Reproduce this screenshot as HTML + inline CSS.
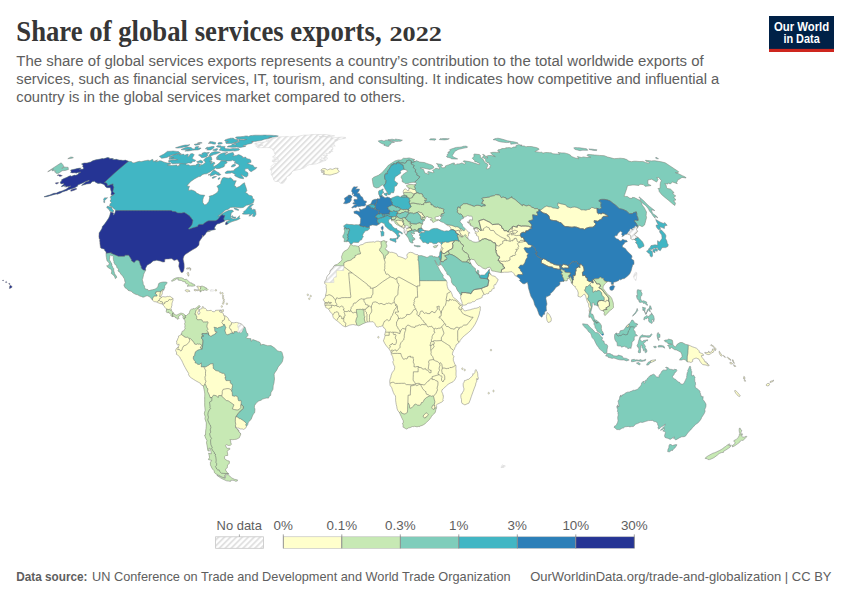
<!DOCTYPE html>
<html><head><meta charset="utf-8"><title>Share of global services exports, 2022</title>
<style>
html,body{margin:0;padding:0;background:#fff;}
body{width:850px;height:600px;position:relative;overflow:hidden;}
svg{display:block}
text{font-family:"Liberation Sans",sans-serif;}
.ser{font-family:"Liberation Serif",serif;font-weight:bold;fill:#363636;}
.sub{font-size:15.1px;fill:#5e5e5e;}
.ft{font-size:13px;fill:#5e5e5e;}
.lg{font-size:13.4px;fill:#5e5e5e;}
</style></head><body>
<svg width="850" height="600" viewBox="0 0 850 600"><defs><pattern id="hatch" width="4.2" height="4.2" patternUnits="userSpaceOnUse" patternTransform="rotate(45)"><rect width="4.2" height="4.2" fill="#fff"/><rect x="0" y="0" width="1.9" height="4.2" fill="#e1e1e1"/></pattern></defs><clipPath id="k1"><path d="M113.4,194.8 110.9,195.1 111.5,192.1 110.8,190.2 110.6,189 110.3,187.7 108.8,187.7 107.3,187.7 105.7,187 105,185.8 104.2,184.6 102.5,183.9 100.7,183.2 98.1,183.4 96.8,182.9 95.6,182.3 94.5,181.3 92,181.7 90.5,183.5 88.6,183.8 86.6,184.1 84.1,184.8 81.5,185.4 83.8,183.6 86.1,181.7 89,181 89.2,180.3 85.2,181.7 82.2,183.3 77.7,185 77.7,186.1 74.2,187.9 70.9,189 68.3,189.7 66.6,190.7 64.5,191.3 62.4,192 60.6,193.1 57.2,194.2 56.1,194 53.6,194.7 50.8,195.5 48.3,196.3 46.2,196.7 44.2,197 44.4,196.6 47.8,195.5 50.4,194.7 53.9,193.3 56.5,193.1 58.5,192.1 62.7,190.7 63.7,190.2 66.1,189.3 68.3,187.5 70.9,186 67.9,186.8 67.9,186.3 65.8,187.2 66,186 64.5,186.8 65.2,185.6 62.2,186.6 61.1,186.6 62.6,185.2 63.9,184.3 63.8,183.4 60.9,183.9 60.6,182.8 60,182.2 61.7,180.9 61.6,179.8 64,178.5 67,177.3 69.2,176 70.8,175.8 71.6,176.2 74.5,175.1 75.6,175.3 77.8,174.5 78.8,173.5 78.4,173.1 80.8,172.2 79.7,172.2 77.2,172.7 76,173.2 75.2,172.7 72.4,172.9 70.6,172.4 71.1,171.5 70.7,170.1 74.4,169.2 77.1,168.6 79.8,168.1 81.2,168.1 79.4,169.2 81.3,169.2 83.2,169.1 83.7,167.7 82.7,166.9 83,165.8 82.8,164.8 81.5,164.1 84.1,162.9 85.6,162.9 87.1,162.9 90.7,161.9 92.7,160.8 95.9,159.8 97.9,159.5 100.2,159 102.4,158.5 103.7,158.7 105.8,158.1 107.9,157.5 108.8,157.8 109.7,158 109.5,159 110.8,158.5 112.1,158.6 113.4,158.7 112.6,159.2 113.6,159.4 114.6,159.5 116.6,159.3 117.8,159.7 119.1,160 120.6,160.1 122,160.2 122.9,160.5 125.6,160.1 126.4,160.5 127.3,160.8 128.5,161.2 129.9,161.4 131.3,161.6 131.9,162.1 132.6,162.7 134,162.9 136.6,162 139.4,161.3 140.5,161.5 141.6,161.6 143.4,161.1 145.1,160.7 146.8,160.4 148.5,160 148.7,160.9 150.3,160.5 152.1,159.4 153,159.6 153.2,160.6 153.4,161.6 157.5,160 155.7,161.8 158.2,161.3 159.6,160.7 161.3,160.9 162.2,161.3 163,161.8 164.5,162.2 166,162.7 167.9,163.1 169.8,162.9 170.9,164 167.4,165.1 168.7,165.3 170,165.6 172.4,165.4 174.8,165.3 176.8,164.9 177.2,166.2 180.1,165.1 179.3,164.2 181,163.4 183.2,163.3 184.8,163.1 185.8,163.6 186.3,164.9 188.3,164.7 189.3,165.2 190.3,165.7 191.8,165.5 193.4,165.3 194.6,165.3 195.9,165.3 196.7,164 198.6,163.6 199.6,164 200.5,164.4 198.9,166.5 201.4,164.7 202.7,164.7 205.4,162.4 204.7,161.1 203.4,160.3 205.7,157.9 209,156.4 211,156.6 211.6,157.7 211.9,160 209.5,161.1 210.9,161.3 212.3,161.6 210.5,163.8 214.1,162 214.9,163.6 213.2,165.1 213.7,166.7 216.6,165.1 219.3,163.1 221.3,160.7 223.4,160.9 224.6,161 225.8,161.1 227.2,162.2 226.5,163.3 224.2,164.7 224.7,165.8 223.7,166.9 221.5,167.7 219.4,168.5 216.8,168.7 215.4,168 214.1,169.2 211,171.2 209.9,172.1 206.6,173.8 204,174 201.9,174.9 200.7,176.3 198.4,176.8 194.8,178.7 191.1,181.3 189.1,183.2 186.9,186 188.2,186.2 189.5,186.3 188.7,188.7 188.6,190.4 191.5,189.9 193,190.5 194.4,191 195.8,191.9 196.4,193.1 198.3,193.8 199.9,194.8 201.3,194.9 202.8,195.1 204.8,195.3 203.5,197.3 202.8,199.8 202.8,202.5 203.7,203.8 204.6,205 206.5,204.3 208.8,201.5 209.2,199.6 209.7,197.8 209.1,196.3 210.9,195.8 212.7,195.3 215.7,193.6 217.7,191.9 218.4,190.2 218.2,188.1 216.9,186.3 220.6,183.8 220.9,181.5 221.7,179.7 222.5,178 224.1,177.4 225.4,177.7 226.8,178 228.5,178.2 230.4,177.7 231.6,178.4 233,179.8 233,180.8 234.7,180.8 236.3,180.8 235.2,182.9 234.3,185.9 235.7,186.3 236.4,187.7 239.8,186.3 243,183.6 244.5,182.7 245,184.8 246.1,187.7 246.9,190.7 245.4,192.4 247.4,193.6 248.6,195.1 250,195.4 251.4,195.7 252.4,196.5 252.5,198.5 253.7,198.9 254.2,199.8 253.4,202.6 251.7,203.5 250,204.5 248.2,204.9 246.4,205.3 243.2,207.5 241.5,207.7 239.7,207.8 237.6,207.5 235.5,207.3 234,207.3 232.5,207.3 230.4,207.5 228.2,209.3 225.2,210.3 221,213.9 217.8,216.2 219.6,215.7 221.9,214 224.2,212.4 226.6,211.3 229.1,210.3 232.2,210.1 233.6,211.3 231.2,212.9 230.9,215.7 230.8,217.7 233.1,219 234.9,218.7 236.7,218.5 239.6,215.7 239.2,217.5 240.2,218.5 237.3,220 234.7,220.8 232.2,221.6 229.8,222.6 226.8,224.6 225.4,224.4 226,222.1 228.1,221 230.3,220 228.6,220 227,220 224.5,220.5 224.5,221.3 222.1,222.3 219.4,223.4 217.1,224.1 215.6,225.7 214.5,227.7 214.7,229 215.8,229 214.3,229.8 211.4,230.3 209.2,230.6 207.2,231.4 208.9,231.2 210.5,231.1 208.5,231.6 206.6,232.1 205.2,234.5 203.1,236.6 202.3,235 202.6,236.8 201.1,238.9 199.7,241 199.2,241.8 199,245.1 196.9,247.2 195,248.4 193,249.6 189.9,251.4 187.6,253 185.2,254.5 184,256.1 183.1,259 183.6,261.3 184.1,263.7 184.2,265.8 184.2,267.9 183.7,270.7 182.8,272.3 181.2,272.6 180.2,270.5 179.4,268.4 178.7,266.3 179.2,262.6 177.8,260 177,259.5 174.1,260.5 171.9,258.7 170.2,258.8 168.5,259 166.7,259.1 164.9,259.2 164.7,261.9 162.9,262.1 160.2,261.1 158.5,260.7 156.7,260.3 154.9,260.7 153.1,261.1 150.7,263.2 147.1,265.2 145.5,268.4 145.7,270.3 144.3,272.8 143.6,274.6 142.8,278.3 142.3,279.6 142.6,280.9 143.1,282.2 143.2,284.3 144.5,286.1 144.7,287.7 145.4,289 147.9,289.5 148.6,290.8 150.7,290.1 152.4,289.8 154.3,289.3 155.7,288.7 157.2,287.7 158.1,286.1 158.5,284 158.9,283.3 160.6,282.5 163.2,282 165,282 166.5,282 167,282.5 166.7,283.7 165.2,285.2 164.6,286.8 165,287.2 164.4,288.5 163.6,290.4 163,289.8 162.6,289.8 162.9,290.8 162.3,292.1 162.3,293.7 161.7,295 160.4,296.6 161,297.1 162,297.1 162.7,296.6 163.8,296.7 164.9,296.9 166.1,296.9 167.1,296.3 168.4,296.6 169.4,296.3 170.7,296.7 172,297.8 172.8,298.2 173.3,298.9 172.9,299.7 173,300.8 172.5,301.6 172.2,302.7 171.9,303.8 171.9,305.7 171.3,307 171.4,307.8 170.9,308.4 171,309.1 171.3,309.5 171.7,310.9 172.6,312 173.6,313.1 174.3,314.1 174.3,314.6 175.2,314.7 176.1,315.1 177.1,315 178.2,314.3 179.6,313.8 180.4,313 181.7,313.2 182.8,313.5 183.8,313.9 184.6,314.7 185.4,315.5 186.6,315.5 188.4,313.7 189.4,313.4 189.4,312.6 190,310.4 191.4,309.2 192.8,309.1 193,308.6 194.8,308.8 196.7,307.5 197.6,306.9 198.8,305.6 199.6,305.8 200.2,306.5 199.7,307.3 198.2,308.3 198.9,309.5 198.8,310.8 197.7,312.3 198.4,314.4 199.4,314.2 200,312.4 199.4,311.4 199.4,309.5 202.3,308.4 202.1,307.2 202.9,306.3 203.6,308.2 205.2,308.2 206.6,309.7 206.7,310.6 208.7,310.6 211.2,310.3 212.4,311.5 214.2,311.8 215.5,311 215.6,310.3 218.4,310.2 221.2,310.1 219.2,310.9 219.9,312.1 221.7,312.3 223.4,313.6 223.7,315.7 224.9,315.6 225.8,316.2 227.3,317.2 228.6,318.9 228.7,320.3 229.5,320.3 230.7,321.6 231.6,322.5 234.3,323 234.6,322.6 236.5,322.4 238.9,323.1 239.7,323.3 241.4,324 243.8,326.2 244.1,327.2 244.9,327.1 245.5,328.6 246.1,330.9 246.7,333.1 247.9,333.6 248,335.4 246.2,337.5 246.9,338.3 249,338.5 251,338.7 251.1,341.3 252.9,339.6 255.8,340.6 257.7,341.4 259.6,342.1 260.7,343.7 260.4,345.1 263,344.3 265.3,345 267.6,345.7 271,345.6 274.4,347.8 277.4,350.7 279.2,351.4 281.2,351.5 282,352.4 282.9,355.7 283.3,357.3 282.9,359.4 282.4,361.6 281.3,363.3 278.2,366.9 276.8,369.9 275.2,372.2 274.1,374.1 274.3,376.6 274.5,379 274.2,381 274,383 273.2,385.8 273,389.3 270.9,392.7 270.7,395.4 269,396.5 268.6,398.1 266.1,398.1 264.4,398.6 262.6,399.1 261.1,400.2 258.7,401 256.2,403.1 254.5,405.7 254.4,407.6 255,409.1 254.8,411.7 254.5,413 253.1,414.4 252.2,416.7 251.3,419 249.6,421.1 248.3,422.3 247.7,424.8 246.5,426.3 245.9,427.9 243.7,429.4 242,428.8 240.9,429.1 238.6,428 237.2,428.1 235.6,426.6 235.7,428 238.9,430.3 239,432 240.5,433.2 240.7,434.4 239.3,437.8 236.5,439.2 234.4,439.5 232.3,439.7 229.9,439.5 230.7,441 230.8,442.9 231.5,444.3 230.5,445.2 228.4,445.5 226.1,444.6 225.5,445.3 226.5,447.8 228.2,448.6 229.1,447.8 230.1,449.1 228.4,449.9 227.2,451.6 227.7,454.1 227.7,455.5 225.7,455.5 224.5,456.8 224.6,458.7 227.2,460.6 229.3,461.1 229.4,463.4 227.5,464.9 227.3,467.8 225.8,468.8 225.5,470 227.2,472.6 229.1,474.1 228.2,473.9 226.4,473.9 225.8,474.5 224.4,475.4 225.1,477.7 224.3,477.8 221.7,477 218.7,475.3 215.6,473.8 214.3,472.3 214.2,470.8 212.5,469.1 211.4,467 210.4,464.8 210.4,462.3 211.7,460.4 210.1,460 208.4,459.6 209.5,457.4 209.1,455.2 208.6,453.1 211.3,454 210.9,451.3 210.5,448.7 208.9,448 209.3,451.2 207.9,450.8 207.3,447.1 206.9,444.7 206.5,442.4 207,440.6 205.6,438 204.6,435.1 205.5,435 205.6,432.9 205.7,430.8 206,428.7 206.2,426.6 206.3,422.8 205.6,420.8 204.9,418.8 205.2,416.7 204.3,413.5 205.1,410.3 204.9,407.7 204.7,405.2 204.7,402.5 204.7,399.8 204.7,396.9 204.8,394 204.5,391.8 204.1,389.7 203.3,386 200.9,384.5 200.5,383.4 198.2,382.1 195.8,380.8 193.6,379.4 191.4,378 189.5,376.4 188.4,374.2 188.7,373.5 186.5,370 185.2,367.6 183.9,365.2 182.7,362.6 181.5,360 180.5,358.8 179.7,356.9 177.8,355.2 176.1,354.1 176.8,353 175.6,350.5 176.3,348.6 178.1,347 179.2,345 178.7,343.9 177.9,345.1 176.5,344 176.9,343.2 176.5,340.9 177.3,340.5 177.7,338.8 178.6,337.2 178.4,336.1 179.7,335.5 181.3,334.5 181,333.7 181.9,333.5 181.8,332.2 182.3,331.2 183.5,331 184.5,329.4 185.4,328 184.6,327.4 185.1,325.9 184.6,323.5 185.1,322.8 184.9,320.6 184,319.2 183.3,318.5 182.8,317.1 183.4,316.4 182.8,316.2 182.5,315.3 181.4,314.6 180.3,314.8 179.8,315.7 178.9,316.3 178.4,316.4 178.1,317 179.2,318.4 178.5,318.7 178.2,319.1 177.1,319.2 176.8,317.7 176.4,318.1 175.7,318 175.3,316.9 174.3,316.7 173.8,316.5 172.8,316.5 172.7,317 172.4,316.6 171.2,316 170.8,315.5 171,315 171,314.5 170.4,313.8 169.5,313.3 168.8,313 168.7,312.2 168.1,311.8 168.2,312.5 167.7,313.1 167.2,312.4 166.5,312.2 166.2,311.6 166.3,310.8 166.6,310 166,309.6 166.6,309.1 165.8,308.3 164.8,307.3 164.4,306.4 163.5,305.6 162.5,304.4 162.7,304 163.1,304.4 163.3,304.2 163,303.4 162.3,303.2 162,303.8 160.7,303.7 159.9,303.5 158.9,303 157.7,302.8 157.1,302.2 156,301.8 154.6,301.7 153.6,301.2 152.4,300.1 150.2,297.3 149.1,296.5 147.3,295.8 146,296 144.1,297 142.9,297.2 141.4,296.5 139.7,296 137.7,294.8 136.1,294.5 133.6,293.3 131.9,292 131.4,291.3 130.2,291.1 128,290.3 127.2,289.1 125,287.7 124.2,286 123.8,284.8 124.6,284.5 124.5,283.8 125.1,283.1 125.3,282.2 124.7,281 124.7,279.9 124.2,278.6 122.6,276 120.7,274 120,272.4 118.3,271.3 118,270.7 118.7,269.1 117.7,268.4 116.7,267.2 116.6,265.4 115.5,265.1 114.6,263.8 113.9,262.5 114,261.7 113.4,259.7 113.2,257.7 113.6,256.7 112.3,255.7 111.5,255.8 110.5,255.1 109.8,256.1 109.8,257.4 109.4,259.3 109.8,260.4 110.9,262.2 111.1,262.8 111.4,263 111.5,263.9 111.9,263.9 111.9,265.6 112.4,266.2 112.6,267.2 113.7,268.5 113.8,270.9 114.2,272.1 114.6,273.3 114.5,274.6 115.5,274.7 116.2,275.9 116.8,277.1 116.7,277.5 115.6,278.5 115.2,278.5 114.8,276.9 113.7,275.4 112.3,274.2 111.3,273.5 111.7,271.6 111.7,270.2 110.8,269.4 109.6,268.2 109.2,268.5 108.8,267.9 107.6,267.2 106.7,265.7 106.9,265.5 107.8,265.7 108.9,264.7 109.3,263.5 108.1,261.6 107,260.9 106.7,259.3 106.4,257.6 106.1,255.5 106,253.1 106.1,251.9 104.4,250.1 104.5,249.3 102.6,248.7 100.8,248.1 100.5,247.8 100.2,245.7 99.9,243.6 99.9,242.5 99.6,240.2 100,239.4 99.2,238.9 98.9,236.4 99.1,232.9 100.6,230.8 101.9,228.5 102.4,226.4 104.6,224.1 106.2,221.8 108.6,218.2 109.6,215.9 110.5,212.6 110.8,212.1 112.2,212.5 113.6,212.9 113.3,214.9 114.1,214.6 115,212.6 115.6,210.6 115.4,209.8 114.2,208.9 113.1,208 112.4,207 111,206.5 109.6,206 110.1,203.8 111.5,202.3 110,201.1 111.2,199.1 110.3,197.3 111.3,196Z"/></clipPath><path d="M113.4,194.8 110.9,195.1 111.5,192.1 110.8,190.2 110.6,189 110.3,187.7 108.8,187.7 107.3,187.7 105.7,187 105,185.8 104.2,184.6 102.5,183.9 100.7,183.2 98.1,183.4 96.8,182.9 95.6,182.3 94.5,181.3 92,181.7 90.5,183.5 88.6,183.8 86.6,184.1 84.1,184.8 81.5,185.4 83.8,183.6 86.1,181.7 89,181 89.2,180.3 85.2,181.7 82.2,183.3 77.7,185 77.7,186.1 74.2,187.9 70.9,189 68.3,189.7 66.6,190.7 64.5,191.3 62.4,192 60.6,193.1 57.2,194.2 56.1,194 53.6,194.7 50.8,195.5 48.3,196.3 46.2,196.7 44.2,197 44.4,196.6 47.8,195.5 50.4,194.7 53.9,193.3 56.5,193.1 58.5,192.1 62.7,190.7 63.7,190.2 66.1,189.3 68.3,187.5 70.9,186 67.9,186.8 67.9,186.3 65.8,187.2 66,186 64.5,186.8 65.2,185.6 62.2,186.6 61.1,186.6 62.6,185.2 63.9,184.3 63.8,183.4 60.9,183.9 60.6,182.8 60,182.2 61.7,180.9 61.6,179.8 64,178.5 67,177.3 69.2,176 70.8,175.8 71.6,176.2 74.5,175.1 75.6,175.3 77.8,174.5 78.8,173.5 78.4,173.1 80.8,172.2 79.7,172.2 77.2,172.7 76,173.2 75.2,172.7 72.4,172.9 70.6,172.4 71.1,171.5 70.7,170.1 74.4,169.2 77.1,168.6 79.8,168.1 81.2,168.1 79.4,169.2 81.3,169.2 83.2,169.1 83.7,167.7 82.7,166.9 83,165.8 82.8,164.8 81.5,164.1 84.1,162.9 85.6,162.9 87.1,162.9 90.7,161.9 92.7,160.8 95.9,159.8 97.9,159.5 100.2,159 102.4,158.5 103.7,158.7 105.8,158.1 107.9,157.5 108.8,157.8 109.7,158 109.5,159 110.8,158.5 112.1,158.6 113.4,158.7 112.6,159.2 113.6,159.4 114.6,159.5 116.6,159.3 117.8,159.7 119.1,160 120.6,160.1 122,160.2 122.9,160.5 125.6,160.1 126.4,160.5 127.3,160.8 128.5,161.2 129.9,161.4 131.3,161.6 131.9,162.1 132.6,162.7 134,162.9 136.6,162 139.4,161.3 140.5,161.5 141.6,161.6 143.4,161.1 145.1,160.7 146.8,160.4 148.5,160 148.7,160.9 150.3,160.5 152.1,159.4 153,159.6 153.2,160.6 153.4,161.6 157.5,160 155.7,161.8 158.2,161.3 159.6,160.7 161.3,160.9 162.2,161.3 163,161.8 164.5,162.2 166,162.7 167.9,163.1 169.8,162.9 170.9,164 167.4,165.1 168.7,165.3 170,165.6 172.4,165.4 174.8,165.3 176.8,164.9 177.2,166.2 180.1,165.1 179.3,164.2 181,163.4 183.2,163.3 184.8,163.1 185.8,163.6 186.3,164.9 188.3,164.7 189.3,165.2 190.3,165.7 191.8,165.5 193.4,165.3 194.6,165.3 195.9,165.3 196.7,164 198.6,163.6 199.6,164 200.5,164.4 198.9,166.5 201.4,164.7 202.7,164.7 205.4,162.4 204.7,161.1 203.4,160.3 205.7,157.9 209,156.4 211,156.6 211.6,157.7 211.9,160 209.5,161.1 210.9,161.3 212.3,161.6 210.5,163.8 214.1,162 214.9,163.6 213.2,165.1 213.7,166.7 216.6,165.1 219.3,163.1 221.3,160.7 223.4,160.9 224.6,161 225.8,161.1 227.2,162.2 226.5,163.3 224.2,164.7 224.7,165.8 223.7,166.9 221.5,167.7 219.4,168.5 216.8,168.7 215.4,168 214.1,169.2 211,171.2 209.9,172.1 206.6,173.8 204,174 201.9,174.9 200.7,176.3 198.4,176.8 194.8,178.7 191.1,181.3 189.1,183.2 186.9,186 188.2,186.2 189.5,186.3 188.7,188.7 188.6,190.4 191.5,189.9 193,190.5 194.4,191 195.8,191.9 196.4,193.1 198.3,193.8 199.9,194.8 201.3,194.9 202.8,195.1 204.8,195.3 203.5,197.3 202.8,199.8 202.8,202.5 203.7,203.8 204.6,205 206.5,204.3 208.8,201.5 209.2,199.6 209.7,197.8 209.1,196.3 210.9,195.8 212.7,195.3 215.7,193.6 217.7,191.9 218.4,190.2 218.2,188.1 216.9,186.3 220.6,183.8 220.9,181.5 221.7,179.7 222.5,178 224.1,177.4 225.4,177.7 226.8,178 228.5,178.2 230.4,177.7 231.6,178.4 233,179.8 233,180.8 234.7,180.8 236.3,180.8 235.2,182.9 234.3,185.9 235.7,186.3 236.4,187.7 239.8,186.3 243,183.6 244.5,182.7 245,184.8 246.1,187.7 246.9,190.7 245.4,192.4 247.4,193.6 248.6,195.1 250,195.4 251.4,195.7 252.4,196.5 252.5,198.5 253.7,198.9 254.2,199.8 253.4,202.6 251.7,203.5 250,204.5 248.2,204.9 246.4,205.3 243.2,207.5 241.5,207.7 239.7,207.8 237.6,207.5 235.5,207.3 234,207.3 232.5,207.3 230.4,207.5 228.2,209.3 225.2,210.3 221,213.9 217.8,216.2 219.6,215.7 221.9,214 224.2,212.4 226.6,211.3 229.1,210.3 232.2,210.1 233.6,211.3 231.2,212.9 230.9,215.7 230.8,217.7 233.1,219 234.9,218.7 236.7,218.5 239.6,215.7 239.2,217.5 240.2,218.5 237.3,220 234.7,220.8 232.2,221.6 229.8,222.6 226.8,224.6 225.4,224.4 226,222.1 228.1,221 230.3,220 228.6,220 227,220 224.5,220.5 224.5,221.3 222.1,222.3 219.4,223.4 217.1,224.1 215.6,225.7 214.5,227.7 214.7,229 215.8,229 214.3,229.8 211.4,230.3 209.2,230.6 207.2,231.4 208.9,231.2 210.5,231.1 208.5,231.6 206.6,232.1 205.2,234.5 203.1,236.6 202.3,235 202.6,236.8 201.1,238.9 199.7,241 199.2,241.8 199,245.1 196.9,247.2 195,248.4 193,249.6 189.9,251.4 187.6,253 185.2,254.5 184,256.1 183.1,259 183.6,261.3 184.1,263.7 184.2,265.8 184.2,267.9 183.7,270.7 182.8,272.3 181.2,272.6 180.2,270.5 179.4,268.4 178.7,266.3 179.2,262.6 177.8,260 177,259.5 174.1,260.5 171.9,258.7 170.2,258.8 168.5,259 166.7,259.1 164.9,259.2 164.7,261.9 162.9,262.1 160.2,261.1 158.5,260.7 156.7,260.3 154.9,260.7 153.1,261.1 150.7,263.2 147.1,265.2 145.5,268.4 145.7,270.3 144.3,272.8 143.6,274.6 142.8,278.3 142.3,279.6 142.6,280.9 143.1,282.2 143.2,284.3 144.5,286.1 144.7,287.7 145.4,289 147.9,289.5 148.6,290.8 150.7,290.1 152.4,289.8 154.3,289.3 155.7,288.7 157.2,287.7 158.1,286.1 158.5,284 158.9,283.3 160.6,282.5 163.2,282 165,282 166.5,282 167,282.5 166.7,283.7 165.2,285.2 164.6,286.8 165,287.2 164.4,288.5 163.6,290.4 163,289.8 162.6,289.8 162.9,290.8 162.3,292.1 162.3,293.7 161.7,295 160.4,296.6 161,297.1 162,297.1 162.7,296.6 163.8,296.7 164.9,296.9 166.1,296.9 167.1,296.3 168.4,296.6 169.4,296.3 170.7,296.7 172,297.8 172.8,298.2 173.3,298.9 172.9,299.7 173,300.8 172.5,301.6 172.2,302.7 171.9,303.8 171.9,305.7 171.3,307 171.4,307.8 170.9,308.4 171,309.1 171.3,309.5 171.7,310.9 172.6,312 173.6,313.1 174.3,314.1 174.3,314.6 175.2,314.7 176.1,315.1 177.1,315 178.2,314.3 179.6,313.8 180.4,313 181.7,313.2 182.8,313.5 183.8,313.9 184.6,314.7 185.4,315.5 186.6,315.5 188.4,313.7 189.4,313.4 189.4,312.6 190,310.4 191.4,309.2 192.8,309.1 193,308.6 194.8,308.8 196.7,307.5 197.6,306.9 198.8,305.6 199.6,305.8 200.2,306.5 199.7,307.3 198.2,308.3 198.9,309.5 198.8,310.8 197.7,312.3 198.4,314.4 199.4,314.2 200,312.4 199.4,311.4 199.4,309.5 202.3,308.4 202.1,307.2 202.9,306.3 203.6,308.2 205.2,308.2 206.6,309.7 206.7,310.6 208.7,310.6 211.2,310.3 212.4,311.5 214.2,311.8 215.5,311 215.6,310.3 218.4,310.2 221.2,310.1 219.2,310.9 219.9,312.1 221.7,312.3 223.4,313.6 223.7,315.7 224.9,315.6 225.8,316.2 227.3,317.2 228.6,318.9 228.7,320.3 229.5,320.3 230.7,321.6 231.6,322.5 234.3,323 234.6,322.6 236.5,322.4 238.9,323.1 239.7,323.3 241.4,324 243.8,326.2 244.1,327.2 244.9,327.1 245.5,328.6 246.1,330.9 246.7,333.1 247.9,333.6 248,335.4 246.2,337.5 246.9,338.3 249,338.5 251,338.7 251.1,341.3 252.9,339.6 255.8,340.6 257.7,341.4 259.6,342.1 260.7,343.7 260.4,345.1 263,344.3 265.3,345 267.6,345.7 271,345.6 274.4,347.8 277.4,350.7 279.2,351.4 281.2,351.5 282,352.4 282.9,355.7 283.3,357.3 282.9,359.4 282.4,361.6 281.3,363.3 278.2,366.9 276.8,369.9 275.2,372.2 274.1,374.1 274.3,376.6 274.5,379 274.2,381 274,383 273.2,385.8 273,389.3 270.9,392.7 270.7,395.4 269,396.5 268.6,398.1 266.1,398.1 264.4,398.6 262.6,399.1 261.1,400.2 258.7,401 256.2,403.1 254.5,405.7 254.4,407.6 255,409.1 254.8,411.7 254.5,413 253.1,414.4 252.2,416.7 251.3,419 249.6,421.1 248.3,422.3 247.7,424.8 246.5,426.3 245.9,427.9 243.7,429.4 242,428.8 240.9,429.1 238.6,428 237.2,428.1 235.6,426.6 235.7,428 238.9,430.3 239,432 240.5,433.2 240.7,434.4 239.3,437.8 236.5,439.2 234.4,439.5 232.3,439.7 229.9,439.5 230.7,441 230.8,442.9 231.5,444.3 230.5,445.2 228.4,445.5 226.1,444.6 225.5,445.3 226.5,447.8 228.2,448.6 229.1,447.8 230.1,449.1 228.4,449.9 227.2,451.6 227.7,454.1 227.7,455.5 225.7,455.5 224.5,456.8 224.6,458.7 227.2,460.6 229.3,461.1 229.4,463.4 227.5,464.9 227.3,467.8 225.8,468.8 225.5,470 227.2,472.6 229.1,474.1 228.2,473.9 226.4,473.9 225.8,474.5 224.4,475.4 225.1,477.7 224.3,477.8 221.7,477 218.7,475.3 215.6,473.8 214.3,472.3 214.2,470.8 212.5,469.1 211.4,467 210.4,464.8 210.4,462.3 211.7,460.4 210.1,460 208.4,459.6 209.5,457.4 209.1,455.2 208.6,453.1 211.3,454 210.9,451.3 210.5,448.7 208.9,448 209.3,451.2 207.9,450.8 207.3,447.1 206.9,444.7 206.5,442.4 207,440.6 205.6,438 204.6,435.1 205.5,435 205.6,432.9 205.7,430.8 206,428.7 206.2,426.6 206.3,422.8 205.6,420.8 204.9,418.8 205.2,416.7 204.3,413.5 205.1,410.3 204.9,407.7 204.7,405.2 204.7,402.5 204.7,399.8 204.7,396.9 204.8,394 204.5,391.8 204.1,389.7 203.3,386 200.9,384.5 200.5,383.4 198.2,382.1 195.8,380.8 193.6,379.4 191.4,378 189.5,376.4 188.4,374.2 188.7,373.5 186.5,370 185.2,367.6 183.9,365.2 182.7,362.6 181.5,360 180.5,358.8 179.7,356.9 177.8,355.2 176.1,354.1 176.8,353 175.6,350.5 176.3,348.6 178.1,347 179.2,345 178.7,343.9 177.9,345.1 176.5,344 176.9,343.2 176.5,340.9 177.3,340.5 177.7,338.8 178.6,337.2 178.4,336.1 179.7,335.5 181.3,334.5 181,333.7 181.9,333.5 181.8,332.2 182.3,331.2 183.5,331 184.5,329.4 185.4,328 184.6,327.4 185.1,325.9 184.6,323.5 185.1,322.8 184.9,320.6 184,319.2 183.3,318.5 182.8,317.1 183.4,316.4 182.8,316.2 182.5,315.3 181.4,314.6 180.3,314.8 179.8,315.7 178.9,316.3 178.4,316.4 178.1,317 179.2,318.4 178.5,318.7 178.2,319.1 177.1,319.2 176.8,317.7 176.4,318.1 175.7,318 175.3,316.9 174.3,316.7 173.8,316.5 172.8,316.5 172.7,317 172.4,316.6 171.2,316 170.8,315.5 171,315 171,314.5 170.4,313.8 169.5,313.3 168.8,313 168.7,312.2 168.1,311.8 168.2,312.5 167.7,313.1 167.2,312.4 166.5,312.2 166.2,311.6 166.3,310.8 166.6,310 166,309.6 166.6,309.1 165.8,308.3 164.8,307.3 164.4,306.4 163.5,305.6 162.5,304.4 162.7,304 163.1,304.4 163.3,304.2 163,303.4 162.3,303.2 162,303.8 160.7,303.7 159.9,303.5 158.9,303 157.7,302.8 157.1,302.2 156,301.8 154.6,301.7 153.6,301.2 152.4,300.1 150.2,297.3 149.1,296.5 147.3,295.8 146,296 144.1,297 142.9,297.2 141.4,296.5 139.7,296 137.7,294.8 136.1,294.5 133.6,293.3 131.9,292 131.4,291.3 130.2,291.1 128,290.3 127.2,289.1 125,287.7 124.2,286 123.8,284.8 124.6,284.5 124.5,283.8 125.1,283.1 125.3,282.2 124.7,281 124.7,279.9 124.2,278.6 122.6,276 120.7,274 120,272.4 118.3,271.3 118,270.7 118.7,269.1 117.7,268.4 116.7,267.2 116.6,265.4 115.5,265.1 114.6,263.8 113.9,262.5 114,261.7 113.4,259.7 113.2,257.7 113.6,256.7 112.3,255.7 111.5,255.8 110.5,255.1 109.8,256.1 109.8,257.4 109.4,259.3 109.8,260.4 110.9,262.2 111.1,262.8 111.4,263 111.5,263.9 111.9,263.9 111.9,265.6 112.4,266.2 112.6,267.2 113.7,268.5 113.8,270.9 114.2,272.1 114.6,273.3 114.5,274.6 115.5,274.7 116.2,275.9 116.8,277.1 116.7,277.5 115.6,278.5 115.2,278.5 114.8,276.9 113.7,275.4 112.3,274.2 111.3,273.5 111.7,271.6 111.7,270.2 110.8,269.4 109.6,268.2 109.2,268.5 108.8,267.9 107.6,267.2 106.7,265.7 106.9,265.5 107.8,265.7 108.9,264.7 109.3,263.5 108.1,261.6 107,260.9 106.7,259.3 106.4,257.6 106.1,255.5 106,253.1 106.1,251.9 104.4,250.1 104.5,249.3 102.6,248.7 100.8,248.1 100.5,247.8 100.2,245.7 99.9,243.6 99.9,242.5 99.6,240.2 100,239.4 99.2,238.9 98.9,236.4 99.1,232.9 100.6,230.8 101.9,228.5 102.4,226.4 104.6,224.1 106.2,221.8 108.6,218.2 109.6,215.9 110.5,212.6 110.8,212.1 112.2,212.5 113.6,212.9 113.3,214.9 114.1,214.6 115,212.6 115.6,210.6 115.4,209.8 114.2,208.9 113.1,208 112.4,207 111,206.5 109.6,206 110.1,203.8 111.5,202.3 110,201.1 111.2,199.1 110.3,197.3 111.3,196Z" fill="#ffffcc"/><g clip-path="url(#k1)" stroke="#6a6c6a" stroke-width="0.56" stroke-linejoin="round"><path d="M138.8,132.5 140.8,132.5 142.7,132.5 144.7,132.5 146.6,132.5 148.6,132.5 150.5,132.5 152.5,132.5 154.4,132.5 156.4,132.5 158.3,132.5 160.3,132.5 162.3,132.5 164.2,132.5 166.2,132.5 168.1,132.5 170.1,132.5 172,132.5 174,132.5 175.9,132.5 177.9,132.5 179.9,132.5 181.8,132.5 183.8,132.5 185.7,132.5 187.7,132.5 189.6,132.5 191.6,132.5 193.5,132.5 195.5,132.5 197.5,132.5 199.4,132.5 201.4,132.5 203.3,132.5 205.3,132.5 207.2,132.5 209.2,132.5 211.1,132.5 213.1,132.5 215.1,132.5 217,132.5 219,132.5 220.9,132.5 222.9,132.5 224.8,132.5 226.8,132.5 228.7,132.5 230.7,132.5 232.7,132.5 234.6,132.5 236.6,132.5 238.5,132.5 240.5,132.5 242.4,132.5 244.4,132.5 246.3,132.5 248.3,132.5 250.2,132.5 252.2,132.5 254.2,132.5 256.1,132.5 258.1,132.5 260,132.5 262,132.5 263.9,132.5 265.9,132.5 267.8,132.5 269.8,132.5 271.8,132.5 273.7,132.5 275.7,132.5 277.6,132.5 279.6,132.5 281.5,132.5 283.5,132.5 285.4,132.5 287.4,132.5 289.4,132.5 291.3,132.5 293.3,132.5 295.2,132.5 297.2,132.5 295.6,134.6 293.9,136.8 292.3,139.2 290.5,141.8 288.7,144.5 287,147.3 285.4,150.3 283.8,153.3 282.3,156.3 280.8,159.4 279.4,162.6 278,165.8 276.6,169.1 275.3,172.4 273.9,175.8 272.6,179.2 271.3,182.6 270.1,186.1 268.8,189.6 267.6,193.2 266.5,196.8 265.3,200.4 264.2,204 263.2,207.6 262.2,211.3 261.2,215 260.3,218.7 259.4,222.4 258.5,226.2 257.7,229.9 256.9,233.7 253.7,233.7 250.6,233.7 247.4,233.7 244.3,233.7 241.1,233.7 238,233.7 234.8,233.7 231.7,233.7 228.5,233.7 225.4,233.7 222.2,233.7 219.1,233.7 215.9,233.7 212.8,233.7 209.6,233.7 206.5,233.7 203.3,233.7 200.2,233.7 197,233.7 193.9,233.7 190.7,233.7 187.6,233.7 184.4,233.7 181.3,233.7 178.1,233.7 175,233.7 171.8,233.7 168.7,233.7 165.6,233.7 162.4,233.7 159.3,233.7 156.1,233.7 153,233.7 149.8,233.7 146.7,233.7 143.5,233.7 140.4,233.7 137.2,233.7 134.1,233.7 130.9,233.7 127.8,233.7 124.6,233.7 121.5,233.7 118.3,233.7 115.2,233.7 112,233.7 108.9,233.7 105.7,233.7 102.6,233.7 99.4,233.7 96.3,233.7 93.1,233.7 90,233.7 86.8,233.7 83.7,233.7 80.5,233.7 77.4,233.7 74.2,233.7 71.1,233.7 67.9,233.7 64.8,233.7 61.6,233.7 58.5,233.7 55.3,233.7 52.2,233.7 49,233.7 45.9,233.7 42.7,233.7 39.6,233.7 36.4,233.7 33.3,233.7 30.1,233.7 27,233.7 23.8,233.7 20.7,233.7 17.5,233.7 14.4,233.7 11.2,233.7 8.1,233.7 4.9,233.7 1.8,233.7 4.5,229.9 7.4,226.2 10.4,222.4 13.5,218.7 16.6,215 19.9,211.3 23.2,207.6 26.8,204 30.5,200.4 34.4,196.8 38.4,193.2 42.5,189.6 46.7,186.1 51,182.6 55.3,179.2 59.7,175.8 64.3,172.4 68.8,169.1 73.5,165.8 78.2,162.6 83,159.4 88.1,156.3 93.3,153.3 98.6,150.3 104.2,147.3 110,144.5 116.1,141.8 122.1,139.2 127.7,136.8 133.3,134.6Z" fill="#41b6c4"/><path d="M152.4,300.1 152.7,298.3 154,296.1 156.9,296.1 157.1,295.2 156.7,295.1 156.5,294.5 155.8,293.9 155,293.1 156,293.1 156.2,291.6 158.3,291.6 160.5,291.6 160.5,291.2 160.8,291.1 161.1,291.4 162.2,289.8 162.6,289.8 165.2,289.8 167.8,289.8 168.2,286.9 168.6,283.9 169,281 169.4,278 167.6,274.6 166,271.1 164.4,267.6 162.9,264.1 161.5,260.6 160.1,257.2 158.9,253.7 157.7,250.2 156.6,246.7 153.4,246.7 150.2,246.7 147,246.7 143.8,246.7 140.6,246.7 137.4,246.7 134.2,246.7 131,246.7 127.8,246.7 124.6,246.7 121.4,246.7 118.2,246.7 115,246.7 111.8,246.7 108.6,246.7 105.4,246.7 102.2,246.7 100.8,250.3 99.5,253.8 98.2,257.4 97.1,260.9 96,264.5 95,268.1 94.1,271.6 93.4,275.2 92.6,278.8 92,282.3 91.3,285.9 94.3,287.4 97.2,288.9 100.2,290.4 103.2,291.8 106.2,293.3 109.3,294.8 112.3,296.3 115.4,297.8 118.5,299.3 121.5,300.8 124.6,302.3 127.8,303.8 130.9,305.3 134,306.8 136.9,306.1 139.9,305.5 142.8,304.8 145.7,304.2 148.6,303.5 151.5,302.8Z" fill="#7fcdbb"/><path d="M105.2,210.6 108.2,210.6 111.2,210.6 114.2,210.6 117.2,210.6 120.2,210.6 123.2,210.6 126.3,210.6 129.3,210.6 132.3,210.6 135.3,210.6 138.3,210.6 141.3,210.6 144.3,210.6 147.3,210.6 150.3,210.6 153.3,210.6 156.3,210.6 159.4,210.6 162.4,210.6 165.4,210.6 168.4,210.6 171.4,210.6 172.1,211.3 173.7,211.5 175.2,211.6 176.4,212.2 177.7,212.9 179.6,213 181.6,213.1 184.2,212.4 186,213.5 187.8,214.7 189.7,215.9 190.1,216.9 191.5,218 191.4,218.7 192.9,220 192.5,222.2 192,224.4 190.2,227 188.5,228.3 188.9,229.3 192.3,228 195,227.2 197.7,226.4 198,225.2 199.1,224.4 201.1,224.4 203.1,224.4 204.4,223.1 207.3,221.3 208.8,220.8 211,220.8 213.2,220.8 215.4,220.8 217.4,219.8 218.6,218.5 220,216.4 222.3,214.5 222.7,215.2 224.8,215.5 223.6,219 224.5,220.5 226.3,221.9 228,223.4 226.9,227 225.8,230.7 224.8,234.4 223.8,238.1 222.9,241.9 222.1,245.6 221.3,249.3 220.5,253 219.8,256.8 219.1,260.5 218.5,264.2 217.9,268 217.4,271.7 217,275.4 213.8,275.3 210.6,275.1 207.4,274.9 204.2,274.7 201,274.5 197.8,274.4 194.6,274.2 191.4,274 188.2,273.8 185,273.6 181.8,273.5 178.7,273.3 175.5,273.1 172.3,272.9 169.1,272.8 165.9,272.6 162.7,272.4 159.6,272.2 156.4,272 153.2,271.9 150,271.7 146.8,271.5 145.7,270.3 143.3,269.9 141.3,268.1 141.2,266.3 140.3,264.7 139.3,261.3 137.8,260.3 136.1,260.3 134.2,262.5 131.5,260.8 131.4,259.5 130,257.3 128.7,255.2 126.8,255.2 125,255.2 124.6,256.3 121.5,256.3 118.4,256.3 116,255.3 113.5,254.3 111.1,253.2 111.5,252.7 108.8,252.9 106,253.2 102.6,253.8 99.2,254.5 97.6,251.1 96.1,247.6 94.7,244.1 93.3,240.6 92.2,237.2 91.1,233.7 92.9,230.4 94.8,227 96.7,223.7 98.8,220.4 100.9,217.1 103,213.8Z" fill="#253494"/><path d="M128.5,161.2 124.9,164.2 121.3,167.2 117.8,170.2 114.3,173.3 110.9,176.4 107.5,179.5 104.2,182.7 105.9,182.7 107,183.4 107.3,184.5 107.4,186 110.5,184.7 113.1,183.9 112.9,185.2 113.2,186.1 113.8,187.2 113.4,189 112.8,191.8 113.7,192.5 114.7,193.3 113.4,194.8 111,196.3 108.5,196.5 105.9,196.8 101.3,199 96.7,201.3 92.1,203.5 87.5,205.8 82.9,208 79.9,208 77,208 74,208 71,208 68.1,208 65.1,208 62.1,208 59.2,208 56.2,208 53.2,208 50.3,208 47.3,208 44.3,208 41.4,208 38.4,208 35.4,208 32.5,208 29.5,208 26.6,208 23.6,208 20.6,208 17.7,208 14.7,208 11.7,208 8.8,208 5.8,208 2.8,208 6.6,204.3 10.6,200.7 14.8,197 19,193.4 23.4,189.8 27.9,186.2 32.5,182.7 37.2,179.2 41.9,175.8 46.8,172.4 51.7,169 56.7,165.7 61.7,162.4 66.9,159.2 72.4,156 77.9,153 83.7,149.9 85.9,149.9 88.1,149.9 90.4,149.9 92.6,149.9 94.9,149.9 97.1,149.9 99.4,149.9 101.6,149.9 103.8,149.9 106.1,149.9 108.3,149.9 110.6,149.9 112.8,149.9 115.1,149.9 117.3,149.9 119.5,149.9 121.8,149.9 124,149.9 126.3,149.9 128.5,149.9 130.8,149.9 133,149.9 135.3,149.9 137.5,149.9 139.7,149.9 142,149.9 144.2,149.9 140.1,152.7 136.1,155.5 132.3,158.3Z" fill="#253494"/><path d="M166.6,309.1 168.4,309.5 169,309.2 169.7,309.4 170.6,310.1 171.3,309.5 173.8,310.7 173.6,313.1 172.7,313.3 172.6,314.4 173.1,314.8 172.7,315.1 172.8,315.6 172.6,316.1 172.4,316.6 170,318.5 167.2,315.3 164.6,312Z" fill="#c7e9b4"/><path d="M173.6,313.1 172.7,313.3 172.6,314.4 173.1,314.8 172.7,315.1 172.8,315.6 172.6,316.1 172.4,316.6 172.3,318.9 172.1,321.1 175,321.1 177.9,321.1 180.8,321.1 183.6,321.1 184,319.2 184.4,318 185.1,318.1 185.6,317.4 185.1,315.9 185.4,315.5 185.3,313.5 185.3,311.5 182.5,311.5 179.8,311.5 177,311.5 174.2,311.5Z" fill="#c7e9b4"/><path d="M185.4,315.5 185.1,315.9 185.6,317.4 185.1,318.1 184.4,318 184,319.2 181.5,320.8 179,322.4 178.9,325.4 178.8,328.3 178.7,331.2 178.7,334.2 181.3,334.5 183.6,336 184,335.9 184.6,337.1 186.5,337.4 187.2,337 188.3,337.9 189.3,338.5 189.9,338.3 191.5,339.5 192.2,340.7 193.3,341.4 194.7,344.1 196.4,344.4 197.7,343.8 198.5,344.2 199.9,344 201.7,345.2 200.2,347.9 200.9,347.9 202.1,349.3 202.6,345.8 203,342.2 203.1,341 202.7,339.5 201.7,338.6 201.7,336.7 203,336.2 203.4,336.5 203.5,335.5 202.2,335.3 202.1,333.6 204.4,333.7 206.6,333.7 207.4,332.8 208.1,333.6 208.5,335.1 208.9,334.8 208.3,332.2 207.6,331.3 206.8,330.7 208,329.4 208,328.9 207.3,328.1 206.9,326.3 207.2,324.5 207.7,323.6 208.1,322.2 207.3,321.7 206,322 204.4,321.9 203.4,322.2 201.9,319.9 200.6,319.6 197.6,319.8 197.1,318.9 196.5,318.7 196.5,318.2 196.8,317.2 196.6,316.1 196.2,315.6 195.9,314.4 194.8,314.2 195.5,312.7 195.8,310.8 196.6,309.8 197.5,309.1 198.2,307.8 199.7,307.3 200.7,307 200.9,304.2 198,305.2 195.1,306.2 192.3,307.3 189.4,308.3 186.5,309.4 186,312.4Z" fill="#c7e9b4"/><path d="M244.1,327.2 242.7,329.6 242,331.6 241.1,332.6 240,332.7 239.7,332 239.2,331.9 238.4,332.6 237.5,332.1 236.1,331.5 235,331.8 234.1,331.5 233.9,332.3 234.2,332.8 234,333.3 232.8,333.1 230.9,333 230.2,333.7 229.1,334.2 228.4,334.3 228.2,334.8 227,334.7 225.6,333.4 225.5,332.2 224.9,330.9 225.3,328.7 226,327.8 225.5,326.6 224.7,326.2 225,325 224.5,324.4 223.3,324.5 223.6,325.3 222.7,326.2 220.1,327.2 218.4,327.6 217.8,328.3 215.9,327.6 214.2,327.3 213.8,327.5 214.8,328.2 214.7,329.9 215,331.6 216.9,331.8 217,332.4 215.4,333.1 215.1,334.2 214.2,334.6 212.4,335.2 212,336 210.2,336.2 208.9,334.8 208.5,335.1 208.1,333.6 207.4,332.8 206.6,333.7 204.4,333.7 202.1,333.6 202.2,335.3 203.5,335.5 203.4,336.5 203,336.2 201.7,336.7 201.7,338.6 202.7,339.5 203.1,341 203,342.2 202.6,345.8 202.1,349.3 200,349.2 199.7,349.6 197.9,350.1 195.3,351.9 195.2,353.1 194.6,354 194.9,355.4 193.5,356.2 193.6,357.3 193,357.7 194,360.1 195.4,361.7 195,362.8 196.5,363 197.5,364.3 199.5,364.4 201.3,362.9 201.3,364.9 201.3,366.9 203.7,366.7 205.6,366.9 207,366.1 209,365 210.1,364 213.1,363.6 213,365.5 213.3,366.6 213.2,368.3 215.8,370.6 218.4,371.1 219.4,372 221,372.6 222,373.3 223.4,373.3 224.8,374.1 225,375.6 225.5,376.4 225.6,377.5 224.9,377.5 226,380.6 228.2,380.6 230.4,380.7 230.2,382.2 230.5,383.2 231.8,383.9 232.5,385.5 232.2,387.6 231.7,388.8 232.1,390.2 231.4,390.8 232.2,392.2 232.4,395.8 234.8,396.3 235.7,395.8 237.3,396.5 237.8,397.3 238.2,399.6 238.6,400.7 239.4,400.8 240.2,400.4 241.1,400.8 241.2,402.3 241.1,403.8 240.8,405.3 241.8,404.8 243.1,406.3 243.3,408.4 241.6,409.8 240.3,410.9 238.1,413.4 235.6,417 237,416.7 239.6,418.7 240.4,418.7 242.9,420.3 244.9,421.8 246.4,423.6 245.7,424.8 246.5,426.3 249.3,428.2 252.1,430.2 254.9,432.1 257.5,429.1 260.1,426.1 262.8,423.2 265.6,420.2 268.4,417.2 271.2,414.2 274.1,411.2 277,408.2 279.9,405.2 282.9,402.3 286,399.3 289,396.3 292.1,393.3 295.2,390.3 295,386.6 294.9,382.9 294.7,379.2 294.6,375.5 294.5,371.8 294.4,368.1 294.3,364.4 294.2,360.7 294.2,357 294.1,353.3 294,349.6 294,345.9 290.8,344.1 287.6,342.3 284.4,340.5 281.2,338.7 278,336.9 274.8,335.1 271.6,333.3 268.5,331.5 265.3,329.7 262.1,327.9 259,326 255.8,324.2 252.7,322.4 249.8,324 247,325.6Z" fill="#7fcdbb"/><path d="M235.6,426.6 235.4,425 235.8,424.4 235.3,421.8 235.4,419.1 235.6,417 238.1,413.4 240.3,410.9 241.6,409.8 243.3,408.4 243.1,406.3 241.8,404.8 240.8,405.3 240.7,407.6 238.9,409.6 237.2,410 234.6,409.6 232.3,408.9 233.1,406.9 234,404.9 231.1,402.8 228.2,400.8 226.3,400.5 224,398.3 221.7,396.2 221.3,395.6 218.7,395.5 218.1,397.6 216.5,395.8 213.5,395.1 211.9,397.5 208.6,397.6 205.3,397.8 202,398 198.7,398.2 198.2,401.9 197.8,405.6 197.4,409.3 197.2,413 197,416.7 196.8,420.4 196.7,424.1 196.7,427.8 196.8,431.4 196.9,435.1 197.1,438.8 197.4,442.5 198.9,446 200.5,449.6 202.2,453.1 203.9,456.6 205.6,460.1 207.3,463.5 209.1,467 210.9,470.4 212.8,473.9 214.8,477.3 216.8,480.6 219.5,480.6 222.2,480.6 224.9,480.6 227.6,480.6 230.3,480.6 233,480.6 235.7,480.6 238.4,480.6 241.1,480.6 243.8,480.6 243.6,477.3 243.6,473.9 243.7,470.4 243.8,467 244,463.5 244.2,460.1 244.5,456.6 244.9,453.1 245.3,449.6 245.7,446 246.3,442.5 244.1,439 241.9,435.6 239.7,432.1 238,430.1 236.4,428.2Z" fill="#c7e9b4"/><path d="M203.3,386 204.4,385.3 204.9,384 206.1,385.8 206.6,387.7 207.9,388.8 207.5,391.3 209,394.2 210.3,397.8 211.9,397.5 211.8,400.8 209.5,402.1 209.8,404.3 210.1,406.5 209.8,407.3 210.6,408.3 209.3,410 208.2,412.4 207.8,414.8 208.5,417.3 207.7,420 208.7,422.3 209.7,424.5 210.3,425 210.9,427.4 210.2,429.9 210.8,432.1 209.6,433.8 210.2,436.2 211.6,438.7 210.6,439.7 210.6,442 210.9,444.7 212.3,447.8 211.6,448.3 213.1,451.3 214.4,452.3 214.1,453.4 215.2,453.9 215.7,454.9 215,455.3 215.8,456.9 216.2,460.2 215.9,462.4 216.7,463.7 216.6,465.3 215.5,466.4 216.8,469.1 217.8,470 219.1,469.9 219.9,471.8 221.3,473.2 223.8,473.4 226.2,473.5 228.2,473.9 228.7,474.4 228.2,476.9 227.8,479.4 225.8,479.4 223.9,479.4 221.5,479.2 219,478.9 216.6,478.7 214.1,478.4 211.7,478.2 209.9,474.6 208.3,471 206.7,467.3 205.2,463.7 203.7,460 202.3,456.3 200.9,452.6 199.5,448.9 198.2,445.2 197,441.5 195.9,437.7 194.8,434 193.8,430.2 192.8,426.5 191.8,422.7 191,418.9 190.2,415.2 189.5,411.4 188.8,407.7 188.2,403.9 187.7,400.1 187.2,396.4 186.7,392.6 186.3,388.9 185.8,385.1 188.8,385.3 191.7,385.4 194.6,385.6 197.5,385.7 200.4,385.9Z" fill="#c7e9b4"/><path d="M238.9,323.1 237.7,325.3 237.8,327.1 238.7,328.6 238.3,329.8 238,331 237.5,332.1 238.4,332.6 239.2,331.9 239.7,332 240,332.7 241.1,332.6 242,331.6 242.7,329.6 244.1,327.2 245.7,323.7 243.5,322.4 241.2,321.1Z" fill="url(#hatch)" stroke="#cfcfcf"/><path d="M178.1,347 178.4,348.1 177.7,348.7 177.8,349.7 178.8,349.5 179.7,349.7 180.7,351.1 182,350 182.4,348.2 183.7,345.9 186.5,344.9 189,342.2 189.7,340.5 189.3,338.5" fill="none"/><path d="M203.7,366.7 204.8,368.8 205.9,370.9 205.5,371.8 205.5,373.6 205.6,375.8 204.8,377.1 205.3,378.1 204.9,379 206,381.2 204.9,384" fill="none"/><path d="M221.7,396.2 222.3,393.1 222.2,391.7 223.1,389.4 225,389 227,388.6 229.1,388.7 231.3,390 231.4,390.8" fill="none"/><path d="M224.9,315.6 224.7,317.7 224.4,319.7 223.9,320.2 222.4,320.6 222.4,321.8 221.8,322.5 223.3,324.5" fill="none"/><path d="M231.6,322.5 231.2,324.9 229.8,325.5 229.9,326.1 229.4,327.5 230.4,329.4 231.1,329.4 231.4,330.9 232.8,333.1" fill="none"/><path d="M160.5,291.6 160,294.1 159.7,296.6 160.3,296.6" fill="none"/><path d="M161.9,297 160.8,298 159.6,298.7 159.4,299.3 159.5,299.8 159,300.4" fill="none"/><path d="M159,300.4 158.4,300.6 158.5,300.9 158.1,301.2 157.2,301.9 157.1,302.2" fill="none"/><path d="M159,300.4 159.6,300.7 160.1,301.2 160.7,301.6 160.8,301.9 161.8,301.6 162.3,301.8 162.6,302.1 162.3,303.2" fill="none"/><path d="M163.3,304.2 164,304.1 164.3,303.5 164.7,303.5 164.7,302.2 165.3,302.1 165.8,302.1 166.3,301.4 167,302 167.2,301.6 167.7,301.3 168.5,300.6 168.6,300.1 168.8,300.1 169.2,299.5 169.4,299.4 169.8,299.8 170.2,299.9 170.8,299.6 171.3,299.6 172.2,299.2 172.5,298.9 173.3,298.9" fill="none"/></g><path d="M113.4,194.8 110.9,195.1 111.5,192.1 110.8,190.2 110.6,189 110.3,187.7 108.8,187.7 107.3,187.7 105.7,187 105,185.8 104.2,184.6 102.5,183.9 100.7,183.2 98.1,183.4 96.8,182.9 95.6,182.3 94.5,181.3 92,181.7 90.5,183.5 88.6,183.8 86.6,184.1 84.1,184.8 81.5,185.4 83.8,183.6 86.1,181.7 89,181 89.2,180.3 85.2,181.7 82.2,183.3 77.7,185 77.7,186.1 74.2,187.9 70.9,189 68.3,189.7 66.6,190.7 64.5,191.3 62.4,192 60.6,193.1 57.2,194.2 56.1,194 53.6,194.7 50.8,195.5 48.3,196.3 46.2,196.7 44.2,197 44.4,196.6 47.8,195.5 50.4,194.7 53.9,193.3 56.5,193.1 58.5,192.1 62.7,190.7 63.7,190.2 66.1,189.3 68.3,187.5 70.9,186 67.9,186.8 67.9,186.3 65.8,187.2 66,186 64.5,186.8 65.2,185.6 62.2,186.6 61.1,186.6 62.6,185.2 63.9,184.3 63.8,183.4 60.9,183.9 60.6,182.8 60,182.2 61.7,180.9 61.6,179.8 64,178.5 67,177.3 69.2,176 70.8,175.8 71.6,176.2 74.5,175.1 75.6,175.3 77.8,174.5 78.8,173.5 78.4,173.1 80.8,172.2 79.7,172.2 77.2,172.7 76,173.2 75.2,172.7 72.4,172.9 70.6,172.4 71.1,171.5 70.7,170.1 74.4,169.2 77.1,168.6 79.8,168.1 81.2,168.1 79.4,169.2 81.3,169.2 83.2,169.1 83.7,167.7 82.7,166.9 83,165.8 82.8,164.8 81.5,164.1 84.1,162.9 85.6,162.9 87.1,162.9 90.7,161.9 92.7,160.8 95.9,159.8 97.9,159.5 100.2,159 102.4,158.5 103.7,158.7 105.8,158.1 107.9,157.5 108.8,157.8 109.7,158 109.5,159 110.8,158.5 112.1,158.6 113.4,158.7 112.6,159.2 113.6,159.4 114.6,159.5 116.6,159.3 117.8,159.7 119.1,160 120.6,160.1 122,160.2 122.9,160.5 125.6,160.1 126.4,160.5 127.3,160.8 128.5,161.2 129.9,161.4 131.3,161.6 131.9,162.1 132.6,162.7 134,162.9 136.6,162 139.4,161.3 140.5,161.5 141.6,161.6 143.4,161.1 145.1,160.7 146.8,160.4 148.5,160 148.7,160.9 150.3,160.5 152.1,159.4 153,159.6 153.2,160.6 153.4,161.6 157.5,160 155.7,161.8 158.2,161.3 159.6,160.7 161.3,160.9 162.2,161.3 163,161.8 164.5,162.2 166,162.7 167.9,163.1 169.8,162.9 170.9,164 167.4,165.1 168.7,165.3 170,165.6 172.4,165.4 174.8,165.3 176.8,164.9 177.2,166.2 180.1,165.1 179.3,164.2 181,163.4 183.2,163.3 184.8,163.1 185.8,163.6 186.3,164.9 188.3,164.7 189.3,165.2 190.3,165.7 191.8,165.5 193.4,165.3 194.6,165.3 195.9,165.3 196.7,164 198.6,163.6 199.6,164 200.5,164.4 198.9,166.5 201.4,164.7 202.7,164.7 205.4,162.4 204.7,161.1 203.4,160.3 205.7,157.9 209,156.4 211,156.6 211.6,157.7 211.9,160 209.5,161.1 210.9,161.3 212.3,161.6 210.5,163.8 214.1,162 214.9,163.6 213.2,165.1 213.7,166.7 216.6,165.1 219.3,163.1 221.3,160.7 223.4,160.9 224.6,161 225.8,161.1 227.2,162.2 226.5,163.3 224.2,164.7 224.7,165.8 223.7,166.9 221.5,167.7 219.4,168.5 216.8,168.7 215.4,168 214.1,169.2 211,171.2 209.9,172.1 206.6,173.8 204,174 201.9,174.9 200.7,176.3 198.4,176.8 194.8,178.7 191.1,181.3 189.1,183.2 186.9,186 188.2,186.2 189.5,186.3 188.7,188.7 188.6,190.4 191.5,189.9 193,190.5 194.4,191 195.8,191.9 196.4,193.1 198.3,193.8 199.9,194.8 201.3,194.9 202.8,195.1 204.8,195.3 203.5,197.3 202.8,199.8 202.8,202.5 203.7,203.8 204.6,205 206.5,204.3 208.8,201.5 209.2,199.6 209.7,197.8 209.1,196.3 210.9,195.8 212.7,195.3 215.7,193.6 217.7,191.9 218.4,190.2 218.2,188.1 216.9,186.3 220.6,183.8 220.9,181.5 221.7,179.7 222.5,178 224.1,177.4 225.4,177.7 226.8,178 228.5,178.2 230.4,177.7 231.6,178.4 233,179.8 233,180.8 234.7,180.8 236.3,180.8 235.2,182.9 234.3,185.9 235.7,186.3 236.4,187.7 239.8,186.3 243,183.6 244.5,182.7 245,184.8 246.1,187.7 246.9,190.7 245.4,192.4 247.4,193.6 248.6,195.1 250,195.4 251.4,195.7 252.4,196.5 252.5,198.5 253.7,198.9 254.2,199.8 253.4,202.6 251.7,203.5 250,204.5 248.2,204.9 246.4,205.3 243.2,207.5 241.5,207.7 239.7,207.8 237.6,207.5 235.5,207.3 234,207.3 232.5,207.3 230.4,207.5 228.2,209.3 225.2,210.3 221,213.9 217.8,216.2 219.6,215.7 221.9,214 224.2,212.4 226.6,211.3 229.1,210.3 232.2,210.1 233.6,211.3 231.2,212.9 230.9,215.7 230.8,217.7 233.1,219 234.9,218.7 236.7,218.5 239.6,215.7 239.2,217.5 240.2,218.5 237.3,220 234.7,220.8 232.2,221.6 229.8,222.6 226.8,224.6 225.4,224.4 226,222.1 228.1,221 230.3,220 228.6,220 227,220 224.5,220.5 224.5,221.3 222.1,222.3 219.4,223.4 217.1,224.1 215.6,225.7 214.5,227.7 214.7,229 215.8,229 214.3,229.8 211.4,230.3 209.2,230.6 207.2,231.4 208.9,231.2 210.5,231.1 208.5,231.6 206.6,232.1 205.2,234.5 203.1,236.6 202.3,235 202.6,236.8 201.1,238.9 199.7,241 199.2,241.8 199,245.1 196.9,247.2 195,248.4 193,249.6 189.9,251.4 187.6,253 185.2,254.5 184,256.1 183.1,259 183.6,261.3 184.1,263.7 184.2,265.8 184.2,267.9 183.7,270.7 182.8,272.3 181.2,272.6 180.2,270.5 179.4,268.4 178.7,266.3 179.2,262.6 177.8,260 177,259.5 174.1,260.5 171.9,258.7 170.2,258.8 168.5,259 166.7,259.1 164.9,259.2 164.7,261.9 162.9,262.1 160.2,261.1 158.5,260.7 156.7,260.3 154.9,260.7 153.1,261.1 150.7,263.2 147.1,265.2 145.5,268.4 145.7,270.3 144.3,272.8 143.6,274.6 142.8,278.3 142.3,279.6 142.6,280.9 143.1,282.2 143.2,284.3 144.5,286.1 144.7,287.7 145.4,289 147.9,289.5 148.6,290.8 150.7,290.1 152.4,289.8 154.3,289.3 155.7,288.7 157.2,287.7 158.1,286.1 158.5,284 158.9,283.3 160.6,282.5 163.2,282 165,282 166.5,282 167,282.5 166.7,283.7 165.2,285.2 164.6,286.8 165,287.2 164.4,288.5 163.6,290.4 163,289.8 162.6,289.8 162.9,290.8 162.3,292.1 162.3,293.7 161.7,295 160.4,296.6 161,297.1 162,297.1 162.7,296.6 163.8,296.7 164.9,296.9 166.1,296.9 167.1,296.3 168.4,296.6 169.4,296.3 170.7,296.7 172,297.8 172.8,298.2 173.3,298.9 172.9,299.7 173,300.8 172.5,301.6 172.2,302.7 171.9,303.8 171.9,305.7 171.3,307 171.4,307.8 170.9,308.4 171,309.1 171.3,309.5 171.7,310.9 172.6,312 173.6,313.1 174.3,314.1 174.3,314.6 175.2,314.7 176.1,315.1 177.1,315 178.2,314.3 179.6,313.8 180.4,313 181.7,313.2 182.8,313.5 183.8,313.9 184.6,314.7 185.4,315.5 186.6,315.5 188.4,313.7 189.4,313.4 189.4,312.6 190,310.4 191.4,309.2 192.8,309.1 193,308.6 194.8,308.8 196.7,307.5 197.6,306.9 198.8,305.6 199.6,305.8 200.2,306.5 199.7,307.3 198.2,308.3 198.9,309.5 198.8,310.8 197.7,312.3 198.4,314.4 199.4,314.2 200,312.4 199.4,311.4 199.4,309.5 202.3,308.4 202.1,307.2 202.9,306.3 203.6,308.2 205.2,308.2 206.6,309.7 206.7,310.6 208.7,310.6 211.2,310.3 212.4,311.5 214.2,311.8 215.5,311 215.6,310.3 218.4,310.2 221.2,310.1 219.2,310.9 219.9,312.1 221.7,312.3 223.4,313.6 223.7,315.7 224.9,315.6 225.8,316.2 227.3,317.2 228.6,318.9 228.7,320.3 229.5,320.3 230.7,321.6 231.6,322.5 234.3,323 234.6,322.6 236.5,322.4 238.9,323.1 239.7,323.3 241.4,324 243.8,326.2 244.1,327.2 244.9,327.1 245.5,328.6 246.1,330.9 246.7,333.1 247.9,333.6 248,335.4 246.2,337.5 246.9,338.3 249,338.5 251,338.7 251.1,341.3 252.9,339.6 255.8,340.6 257.7,341.4 259.6,342.1 260.7,343.7 260.4,345.1 263,344.3 265.3,345 267.6,345.7 271,345.6 274.4,347.8 277.4,350.7 279.2,351.4 281.2,351.5 282,352.4 282.9,355.7 283.3,357.3 282.9,359.4 282.4,361.6 281.3,363.3 278.2,366.9 276.8,369.9 275.2,372.2 274.1,374.1 274.3,376.6 274.5,379 274.2,381 274,383 273.2,385.8 273,389.3 270.9,392.7 270.7,395.4 269,396.5 268.6,398.1 266.1,398.1 264.4,398.6 262.6,399.1 261.1,400.2 258.7,401 256.2,403.1 254.5,405.7 254.4,407.6 255,409.1 254.8,411.7 254.5,413 253.1,414.4 252.2,416.7 251.3,419 249.6,421.1 248.3,422.3 247.7,424.8 246.5,426.3 245.9,427.9 243.7,429.4 242,428.8 240.9,429.1 238.6,428 237.2,428.1 235.6,426.6 235.7,428 238.9,430.3 239,432 240.5,433.2 240.7,434.4 239.3,437.8 236.5,439.2 234.4,439.5 232.3,439.7 229.9,439.5 230.7,441 230.8,442.9 231.5,444.3 230.5,445.2 228.4,445.5 226.1,444.6 225.5,445.3 226.5,447.8 228.2,448.6 229.1,447.8 230.1,449.1 228.4,449.9 227.2,451.6 227.7,454.1 227.7,455.5 225.7,455.5 224.5,456.8 224.6,458.7 227.2,460.6 229.3,461.1 229.4,463.4 227.5,464.9 227.3,467.8 225.8,468.8 225.5,470 227.2,472.6 229.1,474.1 228.2,473.9 226.4,473.9 225.8,474.5 224.4,475.4 225.1,477.7 224.3,477.8 221.7,477 218.7,475.3 215.6,473.8 214.3,472.3 214.2,470.8 212.5,469.1 211.4,467 210.4,464.8 210.4,462.3 211.7,460.4 210.1,460 208.4,459.6 209.5,457.4 209.1,455.2 208.6,453.1 211.3,454 210.9,451.3 210.5,448.7 208.9,448 209.3,451.2 207.9,450.8 207.3,447.1 206.9,444.7 206.5,442.4 207,440.6 205.6,438 204.6,435.1 205.5,435 205.6,432.9 205.7,430.8 206,428.7 206.2,426.6 206.3,422.8 205.6,420.8 204.9,418.8 205.2,416.7 204.3,413.5 205.1,410.3 204.9,407.7 204.7,405.2 204.7,402.5 204.7,399.8 204.7,396.9 204.8,394 204.5,391.8 204.1,389.7 203.3,386 200.9,384.5 200.5,383.4 198.2,382.1 195.8,380.8 193.6,379.4 191.4,378 189.5,376.4 188.4,374.2 188.7,373.5 186.5,370 185.2,367.6 183.9,365.2 182.7,362.6 181.5,360 180.5,358.8 179.7,356.9 177.8,355.2 176.1,354.1 176.8,353 175.6,350.5 176.3,348.6 178.1,347 179.2,345 178.7,343.9 177.9,345.1 176.5,344 176.9,343.2 176.5,340.9 177.3,340.5 177.7,338.8 178.6,337.2 178.4,336.1 179.7,335.5 181.3,334.5 181,333.7 181.9,333.5 181.8,332.2 182.3,331.2 183.5,331 184.5,329.4 185.4,328 184.6,327.4 185.1,325.9 184.6,323.5 185.1,322.8 184.9,320.6 184,319.2 183.3,318.5 182.8,317.1 183.4,316.4 182.8,316.2 182.5,315.3 181.4,314.6 180.3,314.8 179.8,315.7 178.9,316.3 178.4,316.4 178.1,317 179.2,318.4 178.5,318.7 178.2,319.1 177.1,319.2 176.8,317.7 176.4,318.1 175.7,318 175.3,316.9 174.3,316.7 173.8,316.5 172.8,316.5 172.7,317 172.4,316.6 171.2,316 170.8,315.5 171,315 171,314.5 170.4,313.8 169.5,313.3 168.8,313 168.7,312.2 168.1,311.8 168.2,312.5 167.7,313.1 167.2,312.4 166.5,312.2 166.2,311.6 166.3,310.8 166.6,310 166,309.6 166.6,309.1 165.8,308.3 164.8,307.3 164.4,306.4 163.5,305.6 162.5,304.4 162.7,304 163.1,304.4 163.3,304.2 163,303.4 162.3,303.2 162,303.8 160.7,303.7 159.9,303.5 158.9,303 157.7,302.8 157.1,302.2 156,301.8 154.6,301.7 153.6,301.2 152.4,300.1 150.2,297.3 149.1,296.5 147.3,295.8 146,296 144.1,297 142.9,297.2 141.4,296.5 139.7,296 137.7,294.8 136.1,294.5 133.6,293.3 131.9,292 131.4,291.3 130.2,291.1 128,290.3 127.2,289.1 125,287.7 124.2,286 123.8,284.8 124.6,284.5 124.5,283.8 125.1,283.1 125.3,282.2 124.7,281 124.7,279.9 124.2,278.6 122.6,276 120.7,274 120,272.4 118.3,271.3 118,270.7 118.7,269.1 117.7,268.4 116.7,267.2 116.6,265.4 115.5,265.1 114.6,263.8 113.9,262.5 114,261.7 113.4,259.7 113.2,257.7 113.6,256.7 112.3,255.7 111.5,255.8 110.5,255.1 109.8,256.1 109.8,257.4 109.4,259.3 109.8,260.4 110.9,262.2 111.1,262.8 111.4,263 111.5,263.9 111.9,263.9 111.9,265.6 112.4,266.2 112.6,267.2 113.7,268.5 113.8,270.9 114.2,272.1 114.6,273.3 114.5,274.6 115.5,274.7 116.2,275.9 116.8,277.1 116.7,277.5 115.6,278.5 115.2,278.5 114.8,276.9 113.7,275.4 112.3,274.2 111.3,273.5 111.7,271.6 111.7,270.2 110.8,269.4 109.6,268.2 109.2,268.5 108.8,267.9 107.6,267.2 106.7,265.7 106.9,265.5 107.8,265.7 108.9,264.7 109.3,263.5 108.1,261.6 107,260.9 106.7,259.3 106.4,257.6 106.1,255.5 106,253.1 106.1,251.9 104.4,250.1 104.5,249.3 102.6,248.7 100.8,248.1 100.5,247.8 100.2,245.7 99.9,243.6 99.9,242.5 99.6,240.2 100,239.4 99.2,238.9 98.9,236.4 99.1,232.9 100.6,230.8 101.9,228.5 102.4,226.4 104.6,224.1 106.2,221.8 108.6,218.2 109.6,215.9 110.5,212.6 110.8,212.1 112.2,212.5 113.6,212.9 113.3,214.9 114.1,214.6 115,212.6 115.6,210.6 115.4,209.8 114.2,208.9 113.1,208 112.4,207 111,206.5 109.6,206 110.1,203.8 111.5,202.3 110,201.1 111.2,199.1 110.3,197.3 111.3,196Z" fill="none" stroke="#7c7c7c" stroke-width="0.5" stroke-linejoin="round"/><clipPath id="k2"><path d="M350.4,244.6 351.9,244.8 353.2,245.8 355.3,245.7 357.5,246.2 358.5,246.3 360.5,244.9 362.9,244.4 364.3,243.3 366.3,242.5 368.2,242.3 370,242.1 371.8,242 373.6,241.8 374.7,242.2 376.7,241.2 379,241.2 379.9,241.8 381.3,241.6 383.6,240.6 385.2,240.9 385.1,242.2 386.9,241.3 387.1,241.8 386.1,243 386.1,244.2 386.9,244.9 386.7,247.1 385.3,248.5 385.8,249.9 386.9,249.9 387.5,251.2 388.3,251.6 390.9,252.5 391.8,252.2 393.7,252.7 396.7,253.8 397.8,256.2 399.8,256.7 403,257.8 405.4,259.1 406.4,258.4 407.4,257.2 406.8,255.2 407.4,253.9 408.9,252.7 410.4,252.3 413.4,252.9 414.3,254 415.1,254 415.8,254.5 418,254.8 418.6,255.7 421.5,255.6 423.7,256.3 426,257.1 427,257.5 428.6,256.7 429.5,255.9 431.4,255.7 433,256 433.7,257.3 434.2,256.5 436,257.1 437.7,257.2 438.8,256.6 439.7,258.8 440.6,261.1 440.1,262.1 439.8,264.1 439.3,265.5 438.8,265.9 438,265.1 436.9,263.9 435,260.2 434.8,260.4 435.9,263.1 437.5,265.8 438.5,267.8 439.5,269.8 440.4,271.3 441.3,272.7 443.4,275.6 443,276.1 443.2,277.8 446,280.1 446.4,280.7 447.3,283.2 446.8,283.7 447.3,286.4 448.3,289.5 449.2,290.1 450.5,291.1 452,294.1 452.7,296.5 454,297.8 457.3,300.3 458.6,301.8 459.9,303.3 460.7,304.2 461.8,304.9 462.4,305.7 462.4,306.8 461.1,307.4 462.1,308.2 462.9,308.6 463.4,309.7 464.4,310.8 465.6,310.8 467.7,310.2 470.2,309.8 472.2,309 473.3,308.9 474.1,308.4 475.4,308.3 476.1,308.3 477.2,307.9 478.4,307.6 479.4,306.7 480.3,306.7 480.4,307.4 480.2,308.9 480.3,310.3 479.8,311.3 479.3,314.1 478.3,317 477,320.3 475.1,324.2 473.2,327.1 470.5,330.6 468.2,332.7 464.8,335.4 462.7,337.3 460.1,340.5 459.6,341.9 459.1,342.5 457.4,343.5 456.9,344.6 456,344.8 455.7,346.7 454.9,347.7 454.4,349.5 453.5,350.3 452.4,353.5 452.5,355 453.9,356 454,356.6 453.3,358.2 453.4,359 453.3,360.3 454,361.9 454.9,364.5 455.7,365 456,366.2 455.9,368.8 456.1,371.1 456,373.1 456,375.2 456.3,376.5 455.6,378.3 454.6,380.1 453,381.8 450.9,382.8 448.3,384 445.6,386.8 444.7,387.3 443,389.2 442,389.8 441.7,391.6 442.7,393.6 443,395.1 443,395.9 443.4,395.8 443.2,398.3 442.8,399.6 443.3,400 442.9,401.1 441.9,402 440,402.9 437.2,404.3 436.1,405.3 436.3,406.4 436.8,406.6 436.5,407.9 435.8,409.8 435.4,412 434.7,413.2 433.1,414.5 432.7,414.9 431.6,416.2 430.9,417.5 429.5,419.4 426.8,422.1 425.1,423.7 423.3,424.9 420.9,425.9 419.8,426 419.5,426.7 418.2,426.4 417.1,426.9 414.7,426.3 413.4,426.7 412.5,426.5 410.1,427.6 408.3,428 406.8,429 405.9,429 405,428.1 404.3,428 403.4,426.9 403.3,427.2 403,426.5 403.1,425 402.5,423.3 403.3,422.8 403.3,420.8 402,418.3 401,416.1 399.5,412.7 397.9,410.7 397.1,408.8 396.7,406.3 396.2,404.4 395.9,402.4 395.6,400.4 395.6,397.3 395.4,395.8 394.5,394.8 393.4,392.6 392.3,389.5 391.8,387.8 390,385.3 389.9,383.3 389.7,381.6 390,379.3 390.9,377 391,375.8 391.8,373.5 392.3,372.4 393.7,370.7 394.4,369.5 394.7,367.6 394.6,366.1 393.9,365.2 393.3,363.6 392.8,362 392.9,361.5 393.6,360.5 392.9,357.9 392.5,356.2 391.3,354.5 391.5,354 391.2,353.2 390.6,351.3 388.7,348.5 386.4,345.9 384.9,343.7 383.5,341 383.5,340.1 384,339.3 384.6,337.4 385.1,335.5 384.6,335.1 385.4,332.1 385.8,330.1 384.8,328.4 383.8,327.9 383.3,326.7 382.7,326.3 382.8,325.6 380.4,326.6 379.5,326.5 378.6,327 376.8,327 375.5,325.3 374.8,323.5 373.1,321.7 371.4,321.8 369.4,321.8 367.5,322.1 365.6,322.6 363.8,323.4 362,324.2 360.7,325 358.7,325.8 356.6,325.1 355.5,325.1 353.9,324.6 352.5,324.6 349.7,325.1 348.1,325.8 345.8,326.8 345.4,326.7 344.8,326.7 342.4,325.5 340.3,323.5 338.4,322.1 336.8,320.4 336.2,320.2 334.6,319.1 333.4,317.7 333,316.8 332.7,314.9 331.7,313.3 330.9,312.3 330.3,311.9 329.7,311.4 329.5,310.3 329.1,309.7 328.5,309.3 327.3,308.2 326.3,308 325.8,307.3 325.8,306.9 325.1,306.3 325,305.8 324.6,303.8 324.9,302.6 324,300.6 322.9,299.6 323.9,299.1 325.1,297.3 325.6,296 325.5,294.6 326.1,293.3 326.5,290.8 326.3,288.2 326,286.9 326.3,285.6 325.7,284.4 324.6,283.3 324.7,282.2 324.9,280.9 325.7,280.2 326.5,278.9 326.4,278 327.2,276.2 328.5,274.5 329.3,274.1 329.9,272.6 330,271.1 330.9,269.6 332.4,268.6 333.9,265.9 335.1,264.9 337.1,264.6 338.9,262.8 340.1,262.1 342,259.9 341.5,256.7 342.4,254.4 342.8,253.1 344.2,251.3 346.4,250.1 348.1,249 349.6,246.3Z"/></clipPath><path d="M350.4,244.6 351.9,244.8 353.2,245.8 355.3,245.7 357.5,246.2 358.5,246.3 360.5,244.9 362.9,244.4 364.3,243.3 366.3,242.5 368.2,242.3 370,242.1 371.8,242 373.6,241.8 374.7,242.2 376.7,241.2 379,241.2 379.9,241.8 381.3,241.6 383.6,240.6 385.2,240.9 385.1,242.2 386.9,241.3 387.1,241.8 386.1,243 386.1,244.2 386.9,244.9 386.7,247.1 385.3,248.5 385.8,249.9 386.9,249.9 387.5,251.2 388.3,251.6 390.9,252.5 391.8,252.2 393.7,252.7 396.7,253.8 397.8,256.2 399.8,256.7 403,257.8 405.4,259.1 406.4,258.4 407.4,257.2 406.8,255.2 407.4,253.9 408.9,252.7 410.4,252.3 413.4,252.9 414.3,254 415.1,254 415.8,254.5 418,254.8 418.6,255.7 421.5,255.6 423.7,256.3 426,257.1 427,257.5 428.6,256.7 429.5,255.9 431.4,255.7 433,256 433.7,257.3 434.2,256.5 436,257.1 437.7,257.2 438.8,256.6 439.7,258.8 440.6,261.1 440.1,262.1 439.8,264.1 439.3,265.5 438.8,265.9 438,265.1 436.9,263.9 435,260.2 434.8,260.4 435.9,263.1 437.5,265.8 438.5,267.8 439.5,269.8 440.4,271.3 441.3,272.7 443.4,275.6 443,276.1 443.2,277.8 446,280.1 446.4,280.7 447.3,283.2 446.8,283.7 447.3,286.4 448.3,289.5 449.2,290.1 450.5,291.1 452,294.1 452.7,296.5 454,297.8 457.3,300.3 458.6,301.8 459.9,303.3 460.7,304.2 461.8,304.9 462.4,305.7 462.4,306.8 461.1,307.4 462.1,308.2 462.9,308.6 463.4,309.7 464.4,310.8 465.6,310.8 467.7,310.2 470.2,309.8 472.2,309 473.3,308.9 474.1,308.4 475.4,308.3 476.1,308.3 477.2,307.9 478.4,307.6 479.4,306.7 480.3,306.7 480.4,307.4 480.2,308.9 480.3,310.3 479.8,311.3 479.3,314.1 478.3,317 477,320.3 475.1,324.2 473.2,327.1 470.5,330.6 468.2,332.7 464.8,335.4 462.7,337.3 460.1,340.5 459.6,341.9 459.1,342.5 457.4,343.5 456.9,344.6 456,344.8 455.7,346.7 454.9,347.7 454.4,349.5 453.5,350.3 452.4,353.5 452.5,355 453.9,356 454,356.6 453.3,358.2 453.4,359 453.3,360.3 454,361.9 454.9,364.5 455.7,365 456,366.2 455.9,368.8 456.1,371.1 456,373.1 456,375.2 456.3,376.5 455.6,378.3 454.6,380.1 453,381.8 450.9,382.8 448.3,384 445.6,386.8 444.7,387.3 443,389.2 442,389.8 441.7,391.6 442.7,393.6 443,395.1 443,395.9 443.4,395.8 443.2,398.3 442.8,399.6 443.3,400 442.9,401.1 441.9,402 440,402.9 437.2,404.3 436.1,405.3 436.3,406.4 436.8,406.6 436.5,407.9 435.8,409.8 435.4,412 434.7,413.2 433.1,414.5 432.7,414.9 431.6,416.2 430.9,417.5 429.5,419.4 426.8,422.1 425.1,423.7 423.3,424.9 420.9,425.9 419.8,426 419.5,426.7 418.2,426.4 417.1,426.9 414.7,426.3 413.4,426.7 412.5,426.5 410.1,427.6 408.3,428 406.8,429 405.9,429 405,428.1 404.3,428 403.4,426.9 403.3,427.2 403,426.5 403.1,425 402.5,423.3 403.3,422.8 403.3,420.8 402,418.3 401,416.1 399.5,412.7 397.9,410.7 397.1,408.8 396.7,406.3 396.2,404.4 395.9,402.4 395.6,400.4 395.6,397.3 395.4,395.8 394.5,394.8 393.4,392.6 392.3,389.5 391.8,387.8 390,385.3 389.9,383.3 389.7,381.6 390,379.3 390.9,377 391,375.8 391.8,373.5 392.3,372.4 393.7,370.7 394.4,369.5 394.7,367.6 394.6,366.1 393.9,365.2 393.3,363.6 392.8,362 392.9,361.5 393.6,360.5 392.9,357.9 392.5,356.2 391.3,354.5 391.5,354 391.2,353.2 390.6,351.3 388.7,348.5 386.4,345.9 384.9,343.7 383.5,341 383.5,340.1 384,339.3 384.6,337.4 385.1,335.5 384.6,335.1 385.4,332.1 385.8,330.1 384.8,328.4 383.8,327.9 383.3,326.7 382.7,326.3 382.8,325.6 380.4,326.6 379.5,326.5 378.6,327 376.8,327 375.5,325.3 374.8,323.5 373.1,321.7 371.4,321.8 369.4,321.8 367.5,322.1 365.6,322.6 363.8,323.4 362,324.2 360.7,325 358.7,325.8 356.6,325.1 355.5,325.1 353.9,324.6 352.5,324.6 349.7,325.1 348.1,325.8 345.8,326.8 345.4,326.7 344.8,326.7 342.4,325.5 340.3,323.5 338.4,322.1 336.8,320.4 336.2,320.2 334.6,319.1 333.4,317.7 333,316.8 332.7,314.9 331.7,313.3 330.9,312.3 330.3,311.9 329.7,311.4 329.5,310.3 329.1,309.7 328.5,309.3 327.3,308.2 326.3,308 325.8,307.3 325.8,306.9 325.1,306.3 325,305.8 324.6,303.8 324.9,302.6 324,300.6 322.9,299.6 323.9,299.1 325.1,297.3 325.6,296 325.5,294.6 326.1,293.3 326.5,290.8 326.3,288.2 326,286.9 326.3,285.6 325.7,284.4 324.6,283.3 324.7,282.2 324.9,280.9 325.7,280.2 326.5,278.9 326.4,278 327.2,276.2 328.5,274.5 329.3,274.1 329.9,272.6 330,271.1 330.9,269.6 332.4,268.6 333.9,265.9 335.1,264.9 337.1,264.6 338.9,262.8 340.1,262.1 342,259.9 341.5,256.7 342.4,254.4 342.8,253.1 344.2,251.3 346.4,250.1 348.1,249 349.6,246.3Z" fill="#ffffcc"/><g clip-path="url(#k2)" stroke="#6a6c6a" stroke-width="0.56" stroke-linejoin="round"><path d="M333.9,265.9 337.2,265.9 340.5,265.9 343.8,265.9 343.9,262.8 345.7,261.8 347.5,260.9 349.7,260.5 351.6,259.8 352.4,258.5 355,257.4 355.1,255.5 356.4,255.3 357.4,254.3 360.3,253.9 360.7,252.8 360.1,252.3 359.4,249.5 359.3,247.9 358.5,246.3 358.4,242.8 355.4,243.4 352.3,244.1 351,244.3 348.4,244.2 345.8,244.1 342.9,246.7 339.9,249.3 336.9,251.9 335.7,255.2 334.4,258.5 333.2,261.7 332,265Z" fill="#c7e9b4"/><path d="M333.9,265.9 337.2,265.9 340.5,265.9 343.8,265.9 343.8,266.6 343.8,268.5 343.7,270.5 341.3,270.5 338.8,270.4 336.4,270.4 336.3,273.7 336.3,277.1 334.2,277.3 333.6,278.6 333.9,282.4 331,282.4 328,282.4 325.1,282.4 324.6,283.3 322.5,283.3 322.6,280 322.7,276.7 322.8,273.5 322.9,270.2 325.9,268.3 329,266.4 332,264.5Z" fill="url(#hatch)" stroke="#cfcfcf"/><path d="M381.3,241.6 380.9,243 381.4,245.5 380.9,247.6 379.6,249.1 379.8,251 381.7,252.6 381.7,253.2 383.1,254.3 383.6,256.6 384.1,259 385.2,258.4 385.4,257.3 385.1,256.2 386.6,255.2 387.2,254.3 388.3,253.6 388.3,251.6 389.4,249.3 388.9,246.3 388.4,243.2 387.9,240.2 385.2,239.5 382.5,238.9Z" fill="#c7e9b4"/><path d="M418.6,255.7 417.9,256.9 418.3,258 417.9,259.7 418.7,261.7 418.9,265.5 419.1,269.3 419.3,273.1 419.5,276.9 419.6,280.7 423,280.7 426.3,280.7 429.7,280.7 433,280.7 436.4,280.7 439.7,280.7 443.1,280.7 446.4,280.7 448.9,279.3 447.1,275.8 445.3,272.2 443.4,268.6 441.6,265 441.2,263 440.8,261.1 440,258.5 439.2,255.8 436.6,255.2 434.1,254.5 431.6,253.9 429,253.2 426.3,253.4 423.6,253.6 420.9,253.8 418.1,254Z" fill="#7fcdbb"/><path d="M356.6,325.1 356.7,324 355.7,321.8 356.3,318.8 357.3,316.6 356.7,312.9 356.4,310.9 356.4,309.5 358.4,309.4 360.4,309.3 361.4,309.5 362.2,309.1 363.2,309.3 363.1,310.1 364,311.5 364,313.4 364.2,315.4 364.8,316.4 364.3,318.8 364.5,320.1 365.1,321.7 365.6,322.6 365.5,326.3 362.4,326.5 359.3,326.7 356.3,326.9Z" fill="#c7e9b4"/><path d="M399.5,412.7 400.6,411.4 401.5,412.2 401.8,413.3 402.8,413.5 404.2,414 405.4,413.7 407.4,412.4 407.6,409.2 407.7,406 407.9,402.8 408.4,403.2 409.7,405.7 409.4,407.2 409.8,408.2 411.5,407.9 412.6,406.7 413.7,405.9 414.3,404.7 415.5,404.1 416.4,404.4 417.4,405.1 419.3,405.3 420.7,404.7 421,403.8 421.4,402.6 422.7,402.4 423.4,401.4 424.2,399.6 426.3,397.7 429.6,395.8 430.5,395.8 431.6,396.3 432.4,395.9 433.5,396.2 434.4,399.9 434.9,401.7 434.3,404.6 434.5,405.6 433.4,405.1 432.7,405.3 432.5,406 431.8,407 431.8,407.9 433,409.4 434.3,409.1 434.8,407.9 436.5,407.9 438.9,411.2 436.9,414.3 434.8,417.5 432.8,420.6 430.7,423.7 428.7,426.9 425.5,427.6 422.3,428.4 419.1,429.1 415.9,429.9 412.8,430.6 409.6,431.4 406.5,432.1 403.8,428.6 401.1,425.1 398.4,421.7 398.1,418.7 397.9,415.7 397.6,412.8Z" fill="#c7e9b4"/><path d="M427.5,413.7 428.3,414.5 427.5,415.8 427,416.6 425.8,417 425.3,417.9 424.5,418.1 423,416.1 424.3,414.5 425.5,413.4 426.6,412.9Z" fill="#ffffcc"/><path d="M343.8,266.6 346.6,268.7 349.3,270.8 352.1,272.9" fill="none"/><path d="M352.1,272.9 350.4,272.9 348.7,272.9 349,276.7 349.3,280.4 349.7,284.2 350,288 350.3,291.7 350.7,295.5 351,295.8 350.5,297.6 347.5,297.6 344.4,297.6 341.4,297.7 341,298.3 340.1,298.1 338.9,298.6 337.3,297.9 336.5,297.9 336.1,299.5 335.4,299.9" fill="none"/><path d="M335.4,299.9 333.9,298.1 332.5,296.2 331,295.5 330,294.8 328.7,294.8 327.6,295.4 326.4,295.1 325.6,296" fill="none"/><path d="M335.4,299.9 335.5,301.6 335.9,303.1 336.7,303.8 336.9,304.8 336.8,305.6 336.5,305.7" fill="none"/><path d="M336.5,305.7 335.2,305.5 335,305.9 334.5,305.9 332.9,305.3 331.8,305.2" fill="none"/><path d="M331.8,305.2 329.7,305.2 327.6,305.1 326.9,305.4 326.2,305.3 325,305.8" fill="none"/><path d="M324.6,303.8 326.7,303.8 327.3,303.4 327.7,303.4 328.5,302.8 329.5,303.4 330.5,303.4 331.5,302.8 331,302.1 330.3,302.5 329.6,302.5 328.7,301.9 328,301.9 327.4,302.5 324.9,302.6" fill="none"/><path d="M331.8,305.2 331.7,306.1 331.5,306.4 331.7,307.3 331.3,307.6 330.8,307.6 330.2,308 329.5,308 328.5,309.3" fill="none"/><path d="M336.5,305.7 337.3,306.6 337.9,306.2 338.3,306.3 338.9,307 339.9,307.2 340.5,306.6 341.2,306.3 341.8,305.9 342.3,306 342.8,306.5 343,307.3 344,308.4 343.5,309 343.4,309.9 343.9,309.6 344.2,309.9 344,310.7 344.7,311.4 344.3,311.6" fill="none"/><path d="M344.3,311.6 344.1,312.5 344.6,313.6 345.2,315.7 344.3,316 344.1,316.4 344.3,316.9 344.1,318 343.8,318" fill="none"/><path d="M343.8,318 343.1,318 342.6,319 342,319 341.5,318.4 341.7,317.4 340.7,315.8 340.1,316.1 339.7,316.1" fill="none"/><path d="M339.7,316.1 339,316.3 339.1,315.3 338.7,314.7 338.8,313.9 338.3,312.8 337.6,311.9 335.8,311.9 335.3,312.4 334.6,312.4 334.2,313 334,313.7 332.7,314.9" fill="none"/><path d="M339.7,316.1 338.6,317.4 337.5,318.8 337.4,319.5 336.8,320.4" fill="none"/><path d="M343.8,318 343.6,318.8 343.9,320.1 343.4,321.2 344,321.9 344.8,322.1 345.7,323.2 345.8,324.2 345.6,324.5 345.4,326.7" fill="none"/><path d="M344.7,311.4 345,311.2 345.7,311.6 347.4,311.6 347.9,310.9 348.3,310.9 348.9,310.6 349.3,311.7 349.8,311.4 350.8,311" fill="none"/><path d="M350.8,311 351.8,311.6 352.2,312.5 353.2,313 354,312.4 355.1,312.2 356.7,312.9" fill="none"/><path d="M350.8,311 350.6,309.5 351.2,308.4 351.2,307.5 353,305.4 353.4,303.6 354,302.9 355.1,303.3 356.1,302.7 356.4,302.1 358.2,300.9 358.6,300.1 360.7,299 362,298.6 362.6,299.1 364,299.1" fill="none"/><path d="M364,299.1 365.5,299 366.3,298.1 369.4,297.9 371.5,297.4 371.7,295.8 372.9,294.1 372.9,291.1 372.9,288.1" fill="none"/><path d="M372.9,288.1 370.3,288.3 370.3,286.7 369.2,286.2 367.8,285.5 367.3,284.3 364.7,282.4 362.2,280.5 359.7,278.6 357.2,276.7 354.6,274.8 352.1,272.9" fill="none"/><path d="M372.9,288.1 376,286.9 379.3,284.3 382.5,281.8 385.1,280.1 387.6,278.5 390.2,276.8" fill="none"/><path d="M390.2,276.8 389.2,275.2 387.4,274 386.3,274.4 385.5,273 385.4,271.9 384,270 384.9,268.9 384.7,267.2 384.9,265.8 384.7,264.6 385.1,262.5 384.9,261.3 384.1,259" fill="none"/><path d="M390.2,276.8 392,277.4 393.8,277.9 395.1,279.4 396.6,278.4" fill="none"/><path d="M396.6,278.4 397,280.4 397.3,282.5 398.2,283.1 398.2,284 399.2,284.9 398.7,286 398.3,288.6 398,291.3 397.9,294.7 395,297.2 394.1,300.6 394.3,302.3" fill="none"/><path d="M396.6,278.4 398.9,277 401.9,278.6 405,280.3 408,282 411.1,283.6 414.1,285.3 417.2,287" fill="none"/><path d="M417.2,287 417.2,285.9 419.8,285.9 419.7,283.3 419.6,280.7" fill="none"/><path d="M417.2,287 417.4,290.4 417.5,293.9 417.7,297.3 415.7,297.2 414.7,299.1 414.1,300.7 414.6,301.3 413.9,302.1 414.2,303.2 413.6,304.3 413.4,305.2 414.2,305.1 414.7,306.1 414.8,307.6 415.6,308.4 415.6,309" fill="none"/><path d="M415.6,309 414.2,309.5 413,310.5 411.4,313.3 409.3,314.6 407,314.4 406.4,314.7 406.6,315.6 405.4,316.5 404.5,317.5 401.6,318.5 401,317.9 400.6,317.9 400.2,318.5 398.3,318.7" fill="none"/><path d="M398.3,318.7 398.7,318 397.9,316.2 397.6,315.1 396.6,314.7 395.2,313.2 395.7,311.9 396.8,312.2 397.4,312 398.7,312 397.4,309.7 397.5,307.9 397.3,306.2 396.4,304.5 395.6,305.5" fill="none"/><path d="M394.3,302.3 395.4,304.2 395.6,305.5 396.6,306.5 396.3,307 396.2,307.9 394.3,309.9 393.7,311.6 393.4,312.9 392.9,313.5 392.5,315.3 391.3,316.4 390.9,317.7 390.4,318.8 390.2,319.9 388.6,320.8 387.3,319.7 386.5,319.7 385.1,321.3 384.4,321.3 383.3,323.8 382.8,325.6" fill="none"/><path d="M450.5,291.1 449.4,292.6 447.8,293 447.1,293.8 446.9,295.6 446.1,299.4 446.4,300.4" fill="none"/><path d="M446.4,300.4 446.1,302.7 445.3,305.3 444,306.6 443,308.5 442.8,309.6 441.8,310.3 441.2,313.1" fill="none"/><path d="M441.2,313.1 441.2,315.4 440.9,316.2 439.7,316.3 438.9,317.8 440.4,318 441.6,319.2 442,320.3 443.1,320.9 444.5,323.7" fill="none"/><path d="M441.2,313.1 440.9,313.3 440.9,312 440.6,311.1 439.4,310.1 439,308.2 439.3,306.3 438.2,306.1 438,306.7 436.7,306.8 437.2,307.6 437.5,309.2 436.3,310.6 435.2,312.5 434,312.7 432,311.2 431.2,311.8 431,312.5 429.8,313 429.7,313.6 427.4,313.6 427.1,313 425.4,312.9 424.6,313.4 424,313.2 422.8,311.6 422.4,310.9 420.7,311.3 420.1,312.5 419.6,314.8 418.8,315.3 418.1,315.6" fill="none"/><path d="M415.6,309 417.2,311.8 417.3,312.8 416.9,313.9 417.1,314.7 417.9,315.5 419.7,316.6" fill="none"/><path d="M419.7,316.6 420.9,317.7 421,318.5 422.5,319.9 423.5,321 424.1,322.6 425.8,323.6 426.2,324.4" fill="none"/><path d="M426.2,324.4 427.6,326.6 428.7,326.9 429.3,326.5 430.4,326.6 431.6,326.1 432.2,327.2 434.2,328.9" fill="none"/><path d="M434.2,328.9 435.2,328.2 436.7,328.8 438.5,328.2 440.1,328.2 441.5,327" fill="none"/><path d="M441.5,327 442.9,325.4 444.5,323.7" fill="none"/><path d="M441.4,340.6 441.3,337.8 442,336.7 443.1,335 444,333.1 442.9,330.1 442.6,328.8 441.5,327" fill="none"/><path d="M453.5,350.3 450.2,347.7 450.1,346.2 447.3,344.4 444.5,342.6 441.8,340.9 441.4,340.6" fill="none"/><path d="M444.5,323.7 445.7,324.2 445.7,325.6 446.5,326.5 448.1,326.5 451,328.7 452.3,328.6 452.8,329 454.4,329.2 455,328.1 457.1,327 458.1,327.9 459.6,327.9" fill="none"/><path d="M459.6,327.9 457.7,330.8 457.7,334 457.7,337.2 457.7,340.3 459.1,342.5" fill="none"/><path d="M459.6,327.9 460.3,327.1 461.7,327 463.7,325.1 466.7,325 468.9,322.4 471,319.8 473.1,317.2 471.1,317.2 468.6,316.2 466.1,315.2 463.5,314.1 462.6,313.2 461.7,311.9 460.8,310.5 461.3,309.6" fill="none"/><path d="M461.3,309.6 460.3,309.3 459,309.2 458.9,308.4 458.7,307.7 459.4,306.5 460.2,305.4" fill="none"/><path d="M461.3,309.6 462.1,308.2" fill="none"/><path d="M460.2,305.4 461.8,304.9" fill="none"/><path d="M446.4,300.4 449.1,301 449.7,299 451.2,300.2 452.5,299.6 453.1,300.2 454.6,300.2 456.7,301.2 457.3,302.1 458.3,303 459.4,304.5 460.2,305.4" fill="none"/><path d="M434.2,328.9 434.1,332 435,332.4 434.3,333.3 433.4,334 432.6,335.3 432.1,336.5 432,338.6 431.4,339.6 431.4,341.6" fill="none"/><path d="M431.4,341.6 431.9,341.9 433.3,341.1 434.1,340.7 436.7,340.8 439,340.7 441.4,340.6" fill="none"/><path d="M433.3,341.1 434.2,342.5 434.1,344.1 433.4,344.4 432.2,344.2 431.5,345.7 430.1,345.5 430.3,344.1 430.6,343.9 430.7,342.3 431.4,341.6" fill="none"/><path d="M433.4,344.4 433.6,345.4 434,346 434.1,346.9 433.5,347.4 432.6,348.8 431.7,349.7 430.8,349.9 430.7,346.7 430.1,345.5" fill="none"/><path d="M430.8,349.9 431.2,352.3 430.9,353.6 431.3,355.1 432.7,356.6 433.8,359.9" fill="none"/><path d="M433.8,359.9 434.8,360.5 435.7,361 437.1,361.4 438.4,362.2 439.5,363.4" fill="none"/><path d="M439.5,363.4 440.7,362.7 441.1,363.4 441.9,364.6 442.4,368.2" fill="none"/><path d="M442.4,368.2 444.1,368 446.9,368.7 447.5,368.4 449.1,368.3 449.9,367.5 451.3,367.6 453.8,366.6 455.7,365" fill="none"/><path d="M439.5,363.4 440,365.6 439.6,366.3 439.1,368.4 439.5,370.6 438.7,371.5 437.9,373.9 439.1,374.6" fill="none"/><path d="M439.1,374.6 440.4,375.8 441,375.6 441.9,376.3 442,377.3 441.5,378.5 441.6,380.4 443,382 443.7,380.2 444.8,379.6 444.7,376.3 443.8,374.4 443,373.5 442.2,373.6 441.7,370.2 442.4,368.2" fill="none"/><path d="M439.1,374.6 436.8,375.3 434.4,376 432.1,376.7 432.2,378.6" fill="none"/><path d="M432.2,378.6 430.5,378.9 429.2,380 428.9,380.9 428,381.1 426,383.2 424.6,384.9 423.9,385 423.2,384.7 420.6,384.4" fill="none"/><path d="M432.2,378.6 432.4,379.6 434.3,379.5 435.3,380.1 435.8,380.7 436.9,380.9 438,381.7 437.9,385.1 437.3,386.9 437.1,388.8 437.5,389.6 437.1,391.1 436.8,391.4 436.1,393.2 433.5,396.2" fill="none"/><path d="M420.6,384.4 421.4,386.5 421.9,387 422.5,388.5 425,391.3 425.9,391.6 425.9,392.5 426.5,394.2 428.2,394.6 429.6,395.8" fill="none"/><path d="M407.9,402.8 408,399 408.1,395.2 410.3,395.1 410.4,392 410.6,388.9 410.7,385.8 412.4,385.7 414.2,385.2 415.9,384.8 416.8,385.8 418.2,384.8 418.9,384.8 420.2,384.2 420.6,384.4" fill="none"/><path d="M389.9,383.3 391,382.8 392.3,382.3 393.8,382.4 395.2,383.6 395.5,383.4 398.6,383.4 401.7,383.3 404.7,383.3 406.3,384.6 409,384.7 411.8,384.9 413.9,384.4 416,383.8" fill="none"/><path d="M416,383.8 417.9,383.3 419.3,383.4 420.2,384" fill="none"/><path d="M416,383.8 414.5,382.2 413.1,380.1 413.2,377.3 413.3,374.6 413.4,371.8 415.8,371.8 418.2,371.8 418,370.9 418.3,369.9 418,368.7 418.3,367.5 418,366.6" fill="none"/><path d="M418,366.6 417,366.5 415.6,366.9 414.6,366.8 414,367 414.2,363.9 413.4,363 413.3,361.4 413.6,359.8 413.2,358.8 413.2,357.1 410.4,357.2 410.6,356.2 409.4,356.2 409.3,356.7 407.8,356.8 407.3,358.3 406.9,359 405.6,358.6 404.9,359 403.3,359.2 402.5,357.8 402,357 401.3,355.4 400.8,353.5 397.4,353.4 394,353.4 393.1,353.7 392.5,353.7 391.5,354" fill="none"/><path d="M391.2,353.2 391.8,352.9 391.9,351.8 392.3,351.1 393.1,350.6 392.2,349.7 391.6,350.1 390.6,351.3" fill="none"/><path d="M418,366.6 418.8,366.7 418.9,367.5 420,367.5 421.5,367.7 422.2,368.9 424,369.2 425.4,368.4 425.9,369.8 427.7,370.1 428.5,371.3 429.4,372.7 431.1,372.7 431,369.9 430.4,370.4 428.8,369.4 428.2,368.9 428.6,366.3 429,363.2 428.5,362 429.2,360.4 429.8,360.1 432.9,359.6 433.8,359.9" fill="none"/><path d="M393.1,350.6 393.7,350.8 394.5,349.9 395.7,349.9 395.9,350.6 396.8,351.1 398.1,349.4 399.5,348.2 400.1,347.3 400,345.2 401,342.6 402.1,341.3 403.6,340 403.9,339.2 403.9,338.3 404.3,337.3 404.2,335.9 404.5,333.6 404.9,331.9 405.6,330.5 405.7,329" fill="none"/><path d="M405.7,329 404.2,328.8 402.7,328.4 401.3,329.7 400.1,332.2" fill="none"/><path d="M405.7,329 405.9,327.1 406.8,325.8 408,325 409.9,325.9 411.4,326.8 413.1,327.1 414.8,327.6 415.5,326 415.8,325.8 416.9,326.1 419.4,324.8 420.3,325.3 421.1,325.2 421.4,324.6 422.2,324.4 424,324.7 425.5,324.7 426.2,324.4" fill="none"/><path d="M400.1,332.2 399.9,333.6 398.1,333 396.2,332.3 393.3,332.2" fill="none"/><path d="M393.3,332.2 393.2,333.3 393.8,334.7 395.5,334.4 396.1,335 395.1,338 396.2,339.5 396.5,341.6 396.1,343.3 395.4,344.5 393.4,344.4 392.2,343.2 392,344.3 390.4,344.7 389.6,345.3 390.5,347.1 388.7,348.5" fill="none"/><path d="M393.3,332.2 393,332 391.7,332.4 390.3,332 389.2,332.2" fill="none"/><path d="M389.2,332.2 389.2,335.3 385.8,335.3 385.1,335.5" fill="none"/><path d="M389.2,332.2 387.3,332.2 385.4,332.1" fill="none"/><path d="M398.3,318.7 397.2,321.4 396.6,321.8 396.5,323.9 396.7,325 396.5,325.7 397.6,327.1 397.8,328 398.7,329.4 399.7,330.2 399.9,331.4 400.1,332.2" fill="none"/><path d="M369.4,321.8 369.4,319.7 369.5,317.5 369.4,315.9 369.9,314.2 370.6,313.4 371.7,311.8 371.4,311.1 371.9,310.1 371.4,308.5 371.4,307.7" fill="none"/><path d="M371.4,307.7 371.6,305.3 372.3,304.3 372.6,302.8 373.2,302.2 375.6,301.9 377.9,302.9 378.8,303.8 379.9,303.9 381,303.3 383.8,304.6 385,304.5 386.3,303.4 387.7,303.5 388.3,303.1 389.6,303.3 391.3,304 393.1,302.6 393.6,302.7 394.3,302.3" fill="none"/><path d="M371.4,307.7 369.7,306.1 368.9,306.2 368.1,306.9" fill="none"/><path d="M368.1,306.9 367.6,307.7 366.5,307.9 366,309.1 365.2,309.4" fill="none"/><path d="M365.2,309.4 364.9,310.8 365.6,311.5 366.5,312.4 366.5,313.7 367,314.3 366.9,317.3 366.9,320.3 367.5,322.1" fill="none"/><path d="M365.2,309.4 363.2,309.3" fill="none"/><path d="M368.1,306.9 368.2,305.1 365.5,304.5 365.4,303.3 364.2,301.6 363.9,300.4 364,299.1" fill="none"/><path d="M434.5,405.6 434.7,406.8 434.8,407.9" fill="none"/></g><path d="M350.4,244.6 351.9,244.8 353.2,245.8 355.3,245.7 357.5,246.2 358.5,246.3 360.5,244.9 362.9,244.4 364.3,243.3 366.3,242.5 368.2,242.3 370,242.1 371.8,242 373.6,241.8 374.7,242.2 376.7,241.2 379,241.2 379.9,241.8 381.3,241.6 383.6,240.6 385.2,240.9 385.1,242.2 386.9,241.3 387.1,241.8 386.1,243 386.1,244.2 386.9,244.9 386.7,247.1 385.3,248.5 385.8,249.9 386.9,249.9 387.5,251.2 388.3,251.6 390.9,252.5 391.8,252.2 393.7,252.7 396.7,253.8 397.8,256.2 399.8,256.7 403,257.8 405.4,259.1 406.4,258.4 407.4,257.2 406.8,255.2 407.4,253.9 408.9,252.7 410.4,252.3 413.4,252.9 414.3,254 415.1,254 415.8,254.5 418,254.8 418.6,255.7 421.5,255.6 423.7,256.3 426,257.1 427,257.5 428.6,256.7 429.5,255.9 431.4,255.7 433,256 433.7,257.3 434.2,256.5 436,257.1 437.7,257.2 438.8,256.6 439.7,258.8 440.6,261.1 440.1,262.1 439.8,264.1 439.3,265.5 438.8,265.9 438,265.1 436.9,263.9 435,260.2 434.8,260.4 435.9,263.1 437.5,265.8 438.5,267.8 439.5,269.8 440.4,271.3 441.3,272.7 443.4,275.6 443,276.1 443.2,277.8 446,280.1 446.4,280.7 447.3,283.2 446.8,283.7 447.3,286.4 448.3,289.5 449.2,290.1 450.5,291.1 452,294.1 452.7,296.5 454,297.8 457.3,300.3 458.6,301.8 459.9,303.3 460.7,304.2 461.8,304.9 462.4,305.7 462.4,306.8 461.1,307.4 462.1,308.2 462.9,308.6 463.4,309.7 464.4,310.8 465.6,310.8 467.7,310.2 470.2,309.8 472.2,309 473.3,308.9 474.1,308.4 475.4,308.3 476.1,308.3 477.2,307.9 478.4,307.6 479.4,306.7 480.3,306.7 480.4,307.4 480.2,308.9 480.3,310.3 479.8,311.3 479.3,314.1 478.3,317 477,320.3 475.1,324.2 473.2,327.1 470.5,330.6 468.2,332.7 464.8,335.4 462.7,337.3 460.1,340.5 459.6,341.9 459.1,342.5 457.4,343.5 456.9,344.6 456,344.8 455.7,346.7 454.9,347.7 454.4,349.5 453.5,350.3 452.4,353.5 452.5,355 453.9,356 454,356.6 453.3,358.2 453.4,359 453.3,360.3 454,361.9 454.9,364.5 455.7,365 456,366.2 455.9,368.8 456.1,371.1 456,373.1 456,375.2 456.3,376.5 455.6,378.3 454.6,380.1 453,381.8 450.9,382.8 448.3,384 445.6,386.8 444.7,387.3 443,389.2 442,389.8 441.7,391.6 442.7,393.6 443,395.1 443,395.9 443.4,395.8 443.2,398.3 442.8,399.6 443.3,400 442.9,401.1 441.9,402 440,402.9 437.2,404.3 436.1,405.3 436.3,406.4 436.8,406.6 436.5,407.9 435.8,409.8 435.4,412 434.7,413.2 433.1,414.5 432.7,414.9 431.6,416.2 430.9,417.5 429.5,419.4 426.8,422.1 425.1,423.7 423.3,424.9 420.9,425.9 419.8,426 419.5,426.7 418.2,426.4 417.1,426.9 414.7,426.3 413.4,426.7 412.5,426.5 410.1,427.6 408.3,428 406.8,429 405.9,429 405,428.1 404.3,428 403.4,426.9 403.3,427.2 403,426.5 403.1,425 402.5,423.3 403.3,422.8 403.3,420.8 402,418.3 401,416.1 399.5,412.7 397.9,410.7 397.1,408.8 396.7,406.3 396.2,404.4 395.9,402.4 395.6,400.4 395.6,397.3 395.4,395.8 394.5,394.8 393.4,392.6 392.3,389.5 391.8,387.8 390,385.3 389.9,383.3 389.7,381.6 390,379.3 390.9,377 391,375.8 391.8,373.5 392.3,372.4 393.7,370.7 394.4,369.5 394.7,367.6 394.6,366.1 393.9,365.2 393.3,363.6 392.8,362 392.9,361.5 393.6,360.5 392.9,357.9 392.5,356.2 391.3,354.5 391.5,354 391.2,353.2 390.6,351.3 388.7,348.5 386.4,345.9 384.9,343.7 383.5,341 383.5,340.1 384,339.3 384.6,337.4 385.1,335.5 384.6,335.1 385.4,332.1 385.8,330.1 384.8,328.4 383.8,327.9 383.3,326.7 382.7,326.3 382.8,325.6 380.4,326.6 379.5,326.5 378.6,327 376.8,327 375.5,325.3 374.8,323.5 373.1,321.7 371.4,321.8 369.4,321.8 367.5,322.1 365.6,322.6 363.8,323.4 362,324.2 360.7,325 358.7,325.8 356.6,325.1 355.5,325.1 353.9,324.6 352.5,324.6 349.7,325.1 348.1,325.8 345.8,326.8 345.4,326.7 344.8,326.7 342.4,325.5 340.3,323.5 338.4,322.1 336.8,320.4 336.2,320.2 334.6,319.1 333.4,317.7 333,316.8 332.7,314.9 331.7,313.3 330.9,312.3 330.3,311.9 329.7,311.4 329.5,310.3 329.1,309.7 328.5,309.3 327.3,308.2 326.3,308 325.8,307.3 325.8,306.9 325.1,306.3 325,305.8 324.6,303.8 324.9,302.6 324,300.6 322.9,299.6 323.9,299.1 325.1,297.3 325.6,296 325.5,294.6 326.1,293.3 326.5,290.8 326.3,288.2 326,286.9 326.3,285.6 325.7,284.4 324.6,283.3 324.7,282.2 324.9,280.9 325.7,280.2 326.5,278.9 326.4,278 327.2,276.2 328.5,274.5 329.3,274.1 329.9,272.6 330,271.1 330.9,269.6 332.4,268.6 333.9,265.9 335.1,264.9 337.1,264.6 338.9,262.8 340.1,262.1 342,259.9 341.5,256.7 342.4,254.4 342.8,253.1 344.2,251.3 346.4,250.1 348.1,249 349.6,246.3Z" fill="none" stroke="#7c7c7c" stroke-width="0.5" stroke-linejoin="round"/><clipPath id="k3"><path d="M438.8,256.6 439.3,255.7 439.6,254.4 439.8,252.4 440.1,251.7 440.7,249.6 441.5,247.7 441.1,245.6 441.5,244.6 440.6,243.4 441.3,242.4 440,242.6 438.1,242 436.8,243.5 435.2,243.7 433.5,243.8 431.6,242.4 429.3,242.3 428.9,243.4 427.4,243.7 425.2,242.3 422.9,242.4 421.3,239.8 419.6,238.3 420.4,236.3 419,235.1 421,232.6 422.7,232.6 424.3,232.5 424.9,230.5 427,230.7 429,230.9 431.3,229.2 433.7,228.5 435.4,228.4 437.1,228.4 439.1,229.3 441.1,230.2 444.3,231.2 446.7,230.8 448.5,231.1 450.8,229.7 450.9,228.6 450,226.8 448.7,225.9 447.4,225.6 446.6,224.8 443.5,222.6 440.9,221.7 438.9,220.2 440.3,219.8 441.6,217.6 440.3,216.6 443.1,215.6 442.9,215 441.2,215.4 439.6,215.6 438.4,216.4 436.5,216.6 434.9,217.5 435.3,219.1 436.4,219.7 438.5,219.6 438.2,220.5 436,220.9 433.5,222.4 432.3,221.9 432.5,220.7 430.1,219.9 430.4,219.4 432.3,218.6 431.6,218 429.9,217.7 428.3,217.4 428,216.4 426.1,216.7 425.6,218.1 424.3,220 424.4,220.7 423.5,221.2 422.8,221 422.7,224.1 421.7,225.2 421.2,227 422.1,228.5 422.4,229.5 424.4,230.3 424.1,231 421.6,231.1 420.8,231.9 419.2,233.3 418.4,232.1 418.3,231.6 417,231.5 415.9,231.2 413.4,231.9 415,233.4 414,233.8 412.8,233.8 411.5,232.4 411.2,233 411.8,234.6 413,235.8 412.2,236.4 413.6,237.6 414.7,238.3 414.8,239.8 412.8,239.1 413.6,240.4 412.2,240.7 413.2,243 411.8,243 409.9,241.9 409,239.8 408.4,238.1 407.5,236.9 406.3,235.4 406.1,234.7 405.7,234.5 405.6,233.9 404.4,233 404.1,231.8 404.1,230 404.3,229.2 403.9,228.8 403.5,228.6 402.8,227.8 401.9,227.3 399.8,226.3 398.5,225.4 396.6,224.6 394.7,222.7 395.1,222.5 394.1,221.5 394,220.6 392.6,220.2 392,221.3 391.4,220.4 391.4,219.6 391.9,219.3 390.2,218.9 388.6,219.8 388.8,221.1 388.6,221.8 389.3,223.1 391.4,224.4 392.6,226.6 395,228.6 396.7,228.6 397.2,229.2 396.7,229.7 398.6,230.6 400.2,231.4 402.2,232.8 402.4,233.3 402.1,234.2 400.8,233 399,232.6 398.2,234.2 399.8,235.2 399.6,236.6 398.7,236.7 397.7,238.9 396.8,239.1 396.8,238.3 397.2,236.9 397.6,236.4 396.7,234.9 395.9,233.6 395,233.3 394.3,232.1 392.9,231.6 392,230.6 390.4,230.5 388.7,229.3 386.7,227.6 385.2,226.1 384.4,223.6 383.3,223.3 381.6,222.4 380.7,222.8 379.5,223.9 378.7,224.2 376.8,225.6 374.8,225.3 372.7,224.9 369.7,225.7 369.4,227.3 369.6,228.8 367.6,230.5 364.9,231.1 364.7,231.9 363.4,233.4 362.6,235.5 363.4,237 362.2,238.1 361.7,239.8 360.1,240.3 358.5,242.4 355.8,242.4 353.7,242.3 352.4,243.3 351.5,244.2 350.5,244 349.7,243.1 349.1,241.7 347.1,241.2 346.2,241.9 345.1,241.5 344,241.8 344.4,239.8 344.2,238.2 343.3,238 342.8,237 343,235.3 343.9,234.3 344.1,233.3 344.6,231.7 344.6,230.6 344.2,229.7 344.2,228.8 344.3,227 343.5,225.9 346.5,224 349.1,224.5 351.9,224.5 354.1,224.9 355.8,224.7 357.5,224.8 359.2,224.9 360.3,223.3 360.5,220.7 360.7,218.2 358.6,215.5 357.1,214.2 355.6,213.7 354.1,213.2 353.9,211.4 356.5,210.8 358.2,211.2 359.9,211.5 359.3,208.6 361.2,209.7 363.5,208.7 365.9,207.7 366.4,205.7 368.2,205.1 369.7,204.6 370.7,204 372.4,200.3 375,199.2 376.6,199.3 377,198.8 378.6,198.7 379,199.2 380.3,198 379.8,197 379.6,195.7 378.7,194.3 378.5,191.8 378.8,191.1 379.3,190.4 381,190.2 381.6,189.6 383.1,188.9 383.1,190.1 382.6,190.9 382.9,191.6 383.9,192 383.5,192.9 382.9,192.6 381.7,194.4 382.3,195.6 382.4,196.5 384.4,197.1 384.4,198 386.4,197.5 387.4,196.9 389.7,197.8 390.6,198.6 391.9,197.9 393.4,197.3 394.8,196.8 397.1,195.9 399.1,196.3 399.4,196.9 401.2,197 401.5,195.9 404.1,195.1 403.4,193 403.2,191.2 403.9,189.7 405.5,188.8 407.3,190.6 408.8,190.6 408.9,188.7 408.9,187.3 408.2,187.6 406.9,186.7 406.5,185.3 408.7,184.7 411,184.3 413.1,184.7 415,184.7 416.8,183.3 414.6,182.2 413,182.3 411.4,182.4 409.8,182.8 408.3,183.3 406.8,183.5 405.4,183.8 404.1,182.5 402.2,181.7 402.2,179.3 401,177.2 401.6,175.9 403,174.4 404.8,173.2 406.6,171.9 407.6,171.4 407.2,170.5 404.6,169.4 403.2,169.7 401.7,170 400.3,171.6 400.9,173 399.6,174 398.3,174.9 396.8,175.9 395.2,176.9 394.3,180.2 395.8,181.9 397.8,183.2 396.4,185.9 394.5,186.5 394.4,188.5 394.3,190.6 393.5,192.9 391.1,192.6 390.2,194.5 388,194.7 387.2,192.3 385.4,189.6 383.7,186.1 382.4,184.7 380.6,186.1 378.9,187.5 376.4,188 373.8,186.8 373,184.2 372.6,181.5 372.2,178.7 373.8,177.2 376.1,176.2 378.4,175.3 380.1,174.1 381.7,172.9 383.2,171.3 384.6,169.7 386.5,167.5 388.3,165.3 389.6,164.5 390.9,163.6 393,162.3 395,160.9 396.8,160.4 398.5,159.9 399.9,160 401.2,160 402.3,159.1 403.4,158.2 404.9,158.3 406.4,158.3 407.8,158.1 409.2,157.9 411,158.4 412.9,159 414.8,159.5 412.8,160.1 415,161.4 416.5,160.7 418,161.3 419.6,162 422,162.3 424.4,162.5 426.7,163.4 429.1,164.2 431.6,165 433.2,166.1 433.9,167.6 432.4,168.8 431,169.1 429.7,169.4 427,168.8 424.2,168.2 421.5,167.7 420.3,168 421.9,168.8 423.6,169.6 424,170.7 424.8,173 427.3,173.7 428.8,174.3 428.7,173.2 427.4,172.2 428.2,171.4 430.6,172.1 432.9,172.8 434.2,172.2 432.5,170.5 434.1,169.4 435.8,168.3 437.4,168.4 439.3,169.2 439.7,167.7 437.8,166.3 438.2,165 436.4,163.6 438.9,164 441.4,164.3 442.9,165.6 440.8,165.8 441.3,167.1 442.9,167.9 444.2,167.6 445.4,167.4 445.3,166 446.8,165.4 448.4,164.9 450.1,164.3 451.7,163.6 453.4,163 454.7,163.1 453.7,164.4 455.9,164.7 456.7,163.9 458.3,163.9 459.9,163.8 461.9,162.9 464.5,164.3 465.7,162.8 463.2,161.5 463.7,160.8 466.3,161.1 469,161.5 471.7,162.2 474.2,163 476.7,163.8 479.3,164.7 479.7,163.5 477.3,162.4 477,161.9 474.8,161.7 474.7,160.6 472.8,158.9 472.3,158.2 473.2,157.3 474.1,156.3 473.8,154.4 474.7,154 477,154.3 479.4,154.5 480.5,155.7 480.2,157.4 481.7,158.1 483.3,159.6 484.8,162.6 487.5,164 487.8,165.5 487.1,167.1 486.3,168.7 488.5,169 488.7,168.2 490.2,167.6 490,166.5 490.8,165.4 489,164.2 488.9,162.7 486.9,162.5 485.7,161.3 485.6,159.1 482.2,157.3 483.1,156.6 484.1,155.9 482.6,154.4 483.4,154.4 485.1,155.5 485.9,157.6 488,158 486.1,156.4 487.1,156 488.2,155.6 489.8,155.5 491.4,155.5 493.4,156.1 495.4,156.7 492.5,154.9 490.5,152.7 491.7,152.5 492.9,152.3 494.9,152.3 496.8,152.4 498.4,152.2 500,152.1 497.7,151 498.3,149.7 500,149.6 501,149.1 502,148.6 503.9,148.5 505.8,148.4 505.7,147.8 507.6,147.7 509.5,147.6 511.3,148.1 512.4,147.6 513.5,147 514.9,147 516.3,147.1 515.7,146.2 516.1,145.4 517.4,145 518.7,144.6 520.4,144.9 522.1,145.2 520.6,145.7 522.5,145.9 524.4,146 526.1,147 526.8,146.5 529.1,146.5 531.3,146.5 533.6,147 536,147.5 538.2,148.2 539.2,149.3 538.2,149.9 536.9,150.4 535.5,151 535,151.6 537.3,151.9 540.2,152.4 541.2,152 543.5,153.4 543.6,152.8 544.7,152.7 545.8,152.5 547.6,152.6 549.4,152.7 551.2,152.8 552.8,153.8 555.2,153.9 557.5,154 559.9,154.1 557.9,152.5 559.9,152.7 561.8,152.9 563,152.9 564.3,152.9 566.3,153.4 568.3,154 570.7,155.3 570.9,156.2 575.1,157.9 576.9,158.3 578.7,158.8 577.4,156.5 579.4,157 581.3,157.5 582.3,157.2 583.3,156.9 585.3,157.2 587.3,157.6 587.7,157 589.3,157.1 590.8,157.3 586.9,155.3 587.8,154.4 590.1,154.6 592.5,154.8 594.8,155 597.2,155.2 599.5,155.4 601.9,155.6 604.3,155.7 607.5,157 610.8,157.8 614.1,158.7 616.2,158.5 618.2,158.4 620.2,158.2 622,158.4 623.9,158.6 626.7,159.5 628.8,161.1 631.7,161.7 633.3,161.3 634.7,161.2 636.1,161.2 638,161.4 639.9,161.6 641.3,161.5 642.7,161.4 645.6,162.4 648.6,163.4 649.6,162.6 646.1,161.2 645.4,160.3 647.4,160.5 649.5,160.7 651.6,160.9 653.2,160.8 654.8,160.7 658.1,161.3 661.3,161.8 665.2,162.8 669.7,165.7 674.2,168.7 678.7,171.7 677.9,172.8 675.3,172.6 678.7,173.8 682.4,175.7 684.1,176.4 685.7,177.3 686.1,178 684,177.7 682,177.4 680.7,178.3 679.3,179.2 678.1,179.5 677.8,180.3 677.4,181.1 676.6,182.6 677.3,183.7 672.6,182 671.4,183 670.1,183.9 668.2,183 667.7,184.1 664.8,183.7 666.1,185.3 666.6,187.6 667.7,188.6 670.5,189.1 674.2,192.7 672.5,192.8 673.9,194.8 675.8,195.9 674.8,196.5 673.8,197.2 675.9,200 673.6,200.6 675.5,203.2 674.8,205.5 672.5,203.8 668.2,200.1 664.9,197.4 661.6,194.6 659,191.2 659,189.8 657.9,188.6 659,188.4 660.2,188.1 660.2,186.6 660.1,185.1 660.3,183.8 660.4,182.6 660.9,181.6 661.4,180.7 658.7,177.4 656.8,177.6 658.1,179.5 657.4,180.8 656.6,182.1 651.7,179.2 649.8,179.6 647.9,180 647.9,182 647.9,184 651.1,185.5 649.4,185.8 647.6,186.1 646.3,186.2 645,186.3 643.3,184.6 641.6,184.4 640,184.2 639,185.4 636.9,185.3 634.9,185.1 632.9,185 631.1,185.2 629.3,185.5 627.5,185.7 627.1,187.3 626.6,188.9 626.1,190.4 625.4,192.4 624.8,194.3 624,196.2 625.7,196.4 627.3,196.5 629.6,198.1 632,198.6 632.2,197.4 634.4,197.6 639.7,200.3 641.6,202.4 642.1,204.9 644.4,207.9 645.4,209.9 646.5,212 646.3,213.8 646.1,215.7 646.6,217.4 645.8,220.4 645,223.4 644.6,224.9 642.8,226.4 641.5,226.4 639.4,225.2 637.8,227.1 637.9,227.9 637,227.8 636.7,228.7 636.5,229.5 637.7,231.4 636.9,232 636.7,232.4 636.3,233.2 635.2,233.6 634.6,234.3 635.1,235.5 635,235.7 636.1,236.2 637.9,237.3 641.2,240.4 642.6,242.1 644,245.1 643.8,246.5 642,247 640.8,248.1 638.9,248.3 638,246.9 637.6,244.9 635.4,242.2 636.8,241.8 634.3,239.5 633,239 633,239.5 632.5,239.8 632.1,239.3 631.5,239 630.7,238.6 630.7,237.5 631.1,237.1 630.7,236.7 630.5,235.3 630.2,234.9 628.8,234.6 627.4,233.9 624.8,234.6 623.9,235.8 621.9,236.6 622.5,235.4 621.5,234.3 622.3,232.6 620.5,231.2 619.1,232.2 617.6,234 617.1,235.6 615.1,235.8 614.6,237 616.5,238.7 618.4,239.2 619,240.3 621.1,241.1 622.6,239.2 625,240.2 626.5,240.3 627.4,241.7 624.7,242.4 624.3,243.8 622.7,245.1 622.4,246.9 625.3,248.4 627.1,250.9 629.4,253.3 631.6,255.3 632.2,257.3 631.1,258 632.1,259.4 633.7,260.2 634,262.3 634,264.4 632.9,264.6 632,267.5 631.1,270.9 629.7,274 627.1,276.4 624.4,278.6 621.9,278.9 620.8,280.1 619.8,279.2 618.8,280.5 615.9,281.8 613.6,282.2 613.2,285 612,285.1 611.1,283.2 611.4,282.2 608.3,281.4 607.3,281.8 604.7,284 603.2,286.5 603,288.3 605.1,291.1 607.7,294.5 610,296.1 611.7,298.2 612.5,300.6 613.3,303 613.4,305.3 613.5,307.6 611.8,309.3 609.3,311 607.6,313.2 604.9,315.6 603.9,314 604.5,312.2 602.6,310.7 600.7,310.3 599.6,309 598.2,306.3 596,305.1 594.1,305.1 594.2,303.1 592.2,303.1 592.3,306 591.4,309.8 590.8,312.1 591.1,314 592.6,314.1 593.7,316.4 594.3,318.7 595.6,320.2 597,320.5 598.3,321.9 598.8,322.1 600.3,323.7 601.3,325.4 601.5,327.2 601.3,328.4 601.6,329.3 601.8,330.8 602.6,331.5 603.6,333.8 603.6,334.7 601.9,334.9 599.7,333 596.9,330.9 596.6,329.6 595.2,327.8 594.8,325.6 593.9,324.2 594.1,322.3 593.5,321.2 592.6,320.2 592.1,318.9 590.8,317.4 589.6,316.2 589.3,317.8 588.8,316.3 589,314.7 589.5,312.2 589.1,310.2 589.6,308.2 588.7,306.7 588.6,303.8 587.6,302.5 586.5,299.3 585.7,296.1 584.4,293.9 583.1,295.2 580.7,297.1 579.4,296.8 577.9,296.2 578.3,293 577.5,290.5 575.3,287.5 575.5,286.6 574.1,286.2 572.2,284.1 571.3,282.8 571,281.4 570.4,280.2 569.3,278.6 567.2,278.5 567.5,279.6 567,281.1 566,280.5 565.7,281 565,280.7 564.1,280.5 564,281.5 562.4,281.4 559.7,282 560.1,283.9 559.1,285.5 556.1,287.2 553.9,290.3 552.4,292 550.3,293.7 550.4,294.9 549.4,295.5 547.4,296.5 546.4,296.6 545.9,298.6 546.6,302 547,304.1 546.2,306.6 546.3,308.8 546.5,311 545.3,311.2 544.4,313.2 545.1,314 543.1,314.8 542.4,316.6 541.5,317.3 539.2,314.9 537.9,311.2 536.9,308.6 536,307.3 534.6,304.8 533.8,301.6 533.2,299.9 530.9,296.3 530.1,293.8 529.4,291.3 528.4,287.9 528,284.8 527.3,282.3 524.2,283.9 522.6,283.6 519.3,280.4 520.2,279.5 519.5,278.5 516.6,276.2 514.9,275.6 514,273.7 512,271.7 509.9,271.9 507.9,272.2 506.1,272.2 504.3,272.2 501.2,272.6 499,272.2 496.9,271.8 494.3,271.2 491.8,270.9 490.4,267.7 489.3,267.2 487.6,267.7 485.5,269 482.7,268.1 480.2,266.1 478,265.3 476.2,262.9 474.1,259.4 473,259.8 471.4,258.9 470.7,259.9 469.4,259.8 470,261 469.9,261.6 470.9,263.5 472,265.8 473.1,266.4 473.6,267.3 475.3,268.4 475.5,269.5 475.4,270.4 475.8,271.2 476.5,272 476.9,272.8 477.3,273.5 476.9,271.6 477.4,270.2 478,269.9 478.7,270.7 478.9,272.2 478.6,273.8 479.1,274.8 479.5,274.7 479.6,275.4 481.4,275 483.2,275 484.6,275.1 486,273.3 487.5,271.7 488.7,270.1 489.2,269.2 489.6,269.4 489.5,270.5 489.2,271 489.8,273 491,274.8 492.3,275.7 494,276.1 495.4,276.6 496.5,278.1 497.2,278.9 498.1,279.3 498.1,279.8 497.4,281.4 497.1,282.1 496.3,283 495.6,284.8 494.5,284.6 494.1,285.2 493.9,286.6 494.3,288.3 494.1,288.6 493.1,288.6 491.7,289.6 491.6,290.9 491.1,291.4 489.7,291.4 488.9,292.1 489,293.1 487.9,293.8 486.7,293.6 485.2,294.5 484.2,294.6 482.6,295.3 482.2,296.5 482.2,297.4 480,298.5 478.2,299.1 476.4,299.7 474.5,301.5 473.5,301.7 472.8,301.5 471.5,302.6 470.1,303.1 468.2,303.2 467.6,303.4 467.1,304.1 466.5,304.3 466.2,304.9 465,304.9 464.4,305.2 462.7,305.1 462.1,303.6 462.1,302.1 461.7,301.4 461.1,299.5 460.4,298.4 460.9,298.3 460.6,297.1 460.8,296.6 460.7,295.4 460.3,294.3 459.6,293.5 459.3,292.5 458.1,291.5 456.8,289.3 456,287.2 454.3,285.4 453.3,285 451.6,282.5 451.3,280.7 451.3,279.1 449.8,276.2 448.7,275.2 447.4,274.7 446.6,273.2 446.7,272.6 445.9,271.3 445.2,270.7 444.2,268.7 442.7,266.6 441.4,264.8 440.3,264.8 440.5,263.4 440.5,262.5 440.7,261.4 440.6,261.1 439.7,258.8Z"/></clipPath><path d="M438.8,256.6 439.3,255.7 439.6,254.4 439.8,252.4 440.1,251.7 440.7,249.6 441.5,247.7 441.1,245.6 441.5,244.6 440.6,243.4 441.3,242.4 440,242.6 438.1,242 436.8,243.5 435.2,243.7 433.5,243.8 431.6,242.4 429.3,242.3 428.9,243.4 427.4,243.7 425.2,242.3 422.9,242.4 421.3,239.8 419.6,238.3 420.4,236.3 419,235.1 421,232.6 422.7,232.6 424.3,232.5 424.9,230.5 427,230.7 429,230.9 431.3,229.2 433.7,228.5 435.4,228.4 437.1,228.4 439.1,229.3 441.1,230.2 444.3,231.2 446.7,230.8 448.5,231.1 450.8,229.7 450.9,228.6 450,226.8 448.7,225.9 447.4,225.6 446.6,224.8 443.5,222.6 440.9,221.7 438.9,220.2 440.3,219.8 441.6,217.6 440.3,216.6 443.1,215.6 442.9,215 441.2,215.4 439.6,215.6 438.4,216.4 436.5,216.6 434.9,217.5 435.3,219.1 436.4,219.7 438.5,219.6 438.2,220.5 436,220.9 433.5,222.4 432.3,221.9 432.5,220.7 430.1,219.9 430.4,219.4 432.3,218.6 431.6,218 429.9,217.7 428.3,217.4 428,216.4 426.1,216.7 425.6,218.1 424.3,220 424.4,220.7 423.5,221.2 422.8,221 422.7,224.1 421.7,225.2 421.2,227 422.1,228.5 422.4,229.5 424.4,230.3 424.1,231 421.6,231.1 420.8,231.9 419.2,233.3 418.4,232.1 418.3,231.6 417,231.5 415.9,231.2 413.4,231.9 415,233.4 414,233.8 412.8,233.8 411.5,232.4 411.2,233 411.8,234.6 413,235.8 412.2,236.4 413.6,237.6 414.7,238.3 414.8,239.8 412.8,239.1 413.6,240.4 412.2,240.7 413.2,243 411.8,243 409.9,241.9 409,239.8 408.4,238.1 407.5,236.9 406.3,235.4 406.1,234.7 405.7,234.5 405.6,233.9 404.4,233 404.1,231.8 404.1,230 404.3,229.2 403.9,228.8 403.5,228.6 402.8,227.8 401.9,227.3 399.8,226.3 398.5,225.4 396.6,224.6 394.7,222.7 395.1,222.5 394.1,221.5 394,220.6 392.6,220.2 392,221.3 391.4,220.4 391.4,219.6 391.9,219.3 390.2,218.9 388.6,219.8 388.8,221.1 388.6,221.8 389.3,223.1 391.4,224.4 392.6,226.6 395,228.6 396.7,228.6 397.2,229.2 396.7,229.7 398.6,230.6 400.2,231.4 402.2,232.8 402.4,233.3 402.1,234.2 400.8,233 399,232.6 398.2,234.2 399.8,235.2 399.6,236.6 398.7,236.7 397.7,238.9 396.8,239.1 396.8,238.3 397.2,236.9 397.6,236.4 396.7,234.9 395.9,233.6 395,233.3 394.3,232.1 392.9,231.6 392,230.6 390.4,230.5 388.7,229.3 386.7,227.6 385.2,226.1 384.4,223.6 383.3,223.3 381.6,222.4 380.7,222.8 379.5,223.9 378.7,224.2 376.8,225.6 374.8,225.3 372.7,224.9 369.7,225.7 369.4,227.3 369.6,228.8 367.6,230.5 364.9,231.1 364.7,231.9 363.4,233.4 362.6,235.5 363.4,237 362.2,238.1 361.7,239.8 360.1,240.3 358.5,242.4 355.8,242.4 353.7,242.3 352.4,243.3 351.5,244.2 350.5,244 349.7,243.1 349.1,241.7 347.1,241.2 346.2,241.9 345.1,241.5 344,241.8 344.4,239.8 344.2,238.2 343.3,238 342.8,237 343,235.3 343.9,234.3 344.1,233.3 344.6,231.7 344.6,230.6 344.2,229.7 344.2,228.8 344.3,227 343.5,225.9 346.5,224 349.1,224.5 351.9,224.5 354.1,224.9 355.8,224.7 357.5,224.8 359.2,224.9 360.3,223.3 360.5,220.7 360.7,218.2 358.6,215.5 357.1,214.2 355.6,213.7 354.1,213.2 353.9,211.4 356.5,210.8 358.2,211.2 359.9,211.5 359.3,208.6 361.2,209.7 363.5,208.7 365.9,207.7 366.4,205.7 368.2,205.1 369.7,204.6 370.7,204 372.4,200.3 375,199.2 376.6,199.3 377,198.8 378.6,198.7 379,199.2 380.3,198 379.8,197 379.6,195.7 378.7,194.3 378.5,191.8 378.8,191.1 379.3,190.4 381,190.2 381.6,189.6 383.1,188.9 383.1,190.1 382.6,190.9 382.9,191.6 383.9,192 383.5,192.9 382.9,192.6 381.7,194.4 382.3,195.6 382.4,196.5 384.4,197.1 384.4,198 386.4,197.5 387.4,196.9 389.7,197.8 390.6,198.6 391.9,197.9 393.4,197.3 394.8,196.8 397.1,195.9 399.1,196.3 399.4,196.9 401.2,197 401.5,195.9 404.1,195.1 403.4,193 403.2,191.2 403.9,189.7 405.5,188.8 407.3,190.6 408.8,190.6 408.9,188.7 408.9,187.3 408.2,187.6 406.9,186.7 406.5,185.3 408.7,184.7 411,184.3 413.1,184.7 415,184.7 416.8,183.3 414.6,182.2 413,182.3 411.4,182.4 409.8,182.8 408.3,183.3 406.8,183.5 405.4,183.8 404.1,182.5 402.2,181.7 402.2,179.3 401,177.2 401.6,175.9 403,174.4 404.8,173.2 406.6,171.9 407.6,171.4 407.2,170.5 404.6,169.4 403.2,169.7 401.7,170 400.3,171.6 400.9,173 399.6,174 398.3,174.9 396.8,175.9 395.2,176.9 394.3,180.2 395.8,181.9 397.8,183.2 396.4,185.9 394.5,186.5 394.4,188.5 394.3,190.6 393.5,192.9 391.1,192.6 390.2,194.5 388,194.7 387.2,192.3 385.4,189.6 383.7,186.1 382.4,184.7 380.6,186.1 378.9,187.5 376.4,188 373.8,186.8 373,184.2 372.6,181.5 372.2,178.7 373.8,177.2 376.1,176.2 378.4,175.3 380.1,174.1 381.7,172.9 383.2,171.3 384.6,169.7 386.5,167.5 388.3,165.3 389.6,164.5 390.9,163.6 393,162.3 395,160.9 396.8,160.4 398.5,159.9 399.9,160 401.2,160 402.3,159.1 403.4,158.2 404.9,158.3 406.4,158.3 407.8,158.1 409.2,157.9 411,158.4 412.9,159 414.8,159.5 412.8,160.1 415,161.4 416.5,160.7 418,161.3 419.6,162 422,162.3 424.4,162.5 426.7,163.4 429.1,164.2 431.6,165 433.2,166.1 433.9,167.6 432.4,168.8 431,169.1 429.7,169.4 427,168.8 424.2,168.2 421.5,167.7 420.3,168 421.9,168.8 423.6,169.6 424,170.7 424.8,173 427.3,173.7 428.8,174.3 428.7,173.2 427.4,172.2 428.2,171.4 430.6,172.1 432.9,172.8 434.2,172.2 432.5,170.5 434.1,169.4 435.8,168.3 437.4,168.4 439.3,169.2 439.7,167.7 437.8,166.3 438.2,165 436.4,163.6 438.9,164 441.4,164.3 442.9,165.6 440.8,165.8 441.3,167.1 442.9,167.9 444.2,167.6 445.4,167.4 445.3,166 446.8,165.4 448.4,164.9 450.1,164.3 451.7,163.6 453.4,163 454.7,163.1 453.7,164.4 455.9,164.7 456.7,163.9 458.3,163.9 459.9,163.8 461.9,162.9 464.5,164.3 465.7,162.8 463.2,161.5 463.7,160.8 466.3,161.1 469,161.5 471.7,162.2 474.2,163 476.7,163.8 479.3,164.7 479.7,163.5 477.3,162.4 477,161.9 474.8,161.7 474.7,160.6 472.8,158.9 472.3,158.2 473.2,157.3 474.1,156.3 473.8,154.4 474.7,154 477,154.3 479.4,154.5 480.5,155.7 480.2,157.4 481.7,158.1 483.3,159.6 484.8,162.6 487.5,164 487.8,165.5 487.1,167.1 486.3,168.7 488.5,169 488.7,168.2 490.2,167.6 490,166.5 490.8,165.4 489,164.2 488.9,162.7 486.9,162.5 485.7,161.3 485.6,159.1 482.2,157.3 483.1,156.6 484.1,155.9 482.6,154.4 483.4,154.4 485.1,155.5 485.9,157.6 488,158 486.1,156.4 487.1,156 488.2,155.6 489.8,155.5 491.4,155.5 493.4,156.1 495.4,156.7 492.5,154.9 490.5,152.7 491.7,152.5 492.9,152.3 494.9,152.3 496.8,152.4 498.4,152.2 500,152.1 497.7,151 498.3,149.7 500,149.6 501,149.1 502,148.6 503.9,148.5 505.8,148.4 505.7,147.8 507.6,147.7 509.5,147.6 511.3,148.1 512.4,147.6 513.5,147 514.9,147 516.3,147.1 515.7,146.2 516.1,145.4 517.4,145 518.7,144.6 520.4,144.9 522.1,145.2 520.6,145.7 522.5,145.9 524.4,146 526.1,147 526.8,146.5 529.1,146.5 531.3,146.5 533.6,147 536,147.5 538.2,148.2 539.2,149.3 538.2,149.9 536.9,150.4 535.5,151 535,151.6 537.3,151.9 540.2,152.4 541.2,152 543.5,153.4 543.6,152.8 544.7,152.7 545.8,152.5 547.6,152.6 549.4,152.7 551.2,152.8 552.8,153.8 555.2,153.9 557.5,154 559.9,154.1 557.9,152.5 559.9,152.7 561.8,152.9 563,152.9 564.3,152.9 566.3,153.4 568.3,154 570.7,155.3 570.9,156.2 575.1,157.9 576.9,158.3 578.7,158.8 577.4,156.5 579.4,157 581.3,157.5 582.3,157.2 583.3,156.9 585.3,157.2 587.3,157.6 587.7,157 589.3,157.1 590.8,157.3 586.9,155.3 587.8,154.4 590.1,154.6 592.5,154.8 594.8,155 597.2,155.2 599.5,155.4 601.9,155.6 604.3,155.7 607.5,157 610.8,157.8 614.1,158.7 616.2,158.5 618.2,158.4 620.2,158.2 622,158.4 623.9,158.6 626.7,159.5 628.8,161.1 631.7,161.7 633.3,161.3 634.7,161.2 636.1,161.2 638,161.4 639.9,161.6 641.3,161.5 642.7,161.4 645.6,162.4 648.6,163.4 649.6,162.6 646.1,161.2 645.4,160.3 647.4,160.5 649.5,160.7 651.6,160.9 653.2,160.8 654.8,160.7 658.1,161.3 661.3,161.8 665.2,162.8 669.7,165.7 674.2,168.7 678.7,171.7 677.9,172.8 675.3,172.6 678.7,173.8 682.4,175.7 684.1,176.4 685.7,177.3 686.1,178 684,177.7 682,177.4 680.7,178.3 679.3,179.2 678.1,179.5 677.8,180.3 677.4,181.1 676.6,182.6 677.3,183.7 672.6,182 671.4,183 670.1,183.9 668.2,183 667.7,184.1 664.8,183.7 666.1,185.3 666.6,187.6 667.7,188.6 670.5,189.1 674.2,192.7 672.5,192.8 673.9,194.8 675.8,195.9 674.8,196.5 673.8,197.2 675.9,200 673.6,200.6 675.5,203.2 674.8,205.5 672.5,203.8 668.2,200.1 664.9,197.4 661.6,194.6 659,191.2 659,189.8 657.9,188.6 659,188.4 660.2,188.1 660.2,186.6 660.1,185.1 660.3,183.8 660.4,182.6 660.9,181.6 661.4,180.7 658.7,177.4 656.8,177.6 658.1,179.5 657.4,180.8 656.6,182.1 651.7,179.2 649.8,179.6 647.9,180 647.9,182 647.9,184 651.1,185.5 649.4,185.8 647.6,186.1 646.3,186.2 645,186.3 643.3,184.6 641.6,184.4 640,184.2 639,185.4 636.9,185.3 634.9,185.1 632.9,185 631.1,185.2 629.3,185.5 627.5,185.7 627.1,187.3 626.6,188.9 626.1,190.4 625.4,192.4 624.8,194.3 624,196.2 625.7,196.4 627.3,196.5 629.6,198.1 632,198.6 632.2,197.4 634.4,197.6 639.7,200.3 641.6,202.4 642.1,204.9 644.4,207.9 645.4,209.9 646.5,212 646.3,213.8 646.1,215.7 646.6,217.4 645.8,220.4 645,223.4 644.6,224.9 642.8,226.4 641.5,226.4 639.4,225.2 637.8,227.1 637.9,227.9 637,227.8 636.7,228.7 636.5,229.5 637.7,231.4 636.9,232 636.7,232.4 636.3,233.2 635.2,233.6 634.6,234.3 635.1,235.5 635,235.7 636.1,236.2 637.9,237.3 641.2,240.4 642.6,242.1 644,245.1 643.8,246.5 642,247 640.8,248.1 638.9,248.3 638,246.9 637.6,244.9 635.4,242.2 636.8,241.8 634.3,239.5 633,239 633,239.5 632.5,239.8 632.1,239.3 631.5,239 630.7,238.6 630.7,237.5 631.1,237.1 630.7,236.7 630.5,235.3 630.2,234.9 628.8,234.6 627.4,233.9 624.8,234.6 623.9,235.8 621.9,236.6 622.5,235.4 621.5,234.3 622.3,232.6 620.5,231.2 619.1,232.2 617.6,234 617.1,235.6 615.1,235.8 614.6,237 616.5,238.7 618.4,239.2 619,240.3 621.1,241.1 622.6,239.2 625,240.2 626.5,240.3 627.4,241.7 624.7,242.4 624.3,243.8 622.7,245.1 622.4,246.9 625.3,248.4 627.1,250.9 629.4,253.3 631.6,255.3 632.2,257.3 631.1,258 632.1,259.4 633.7,260.2 634,262.3 634,264.4 632.9,264.6 632,267.5 631.1,270.9 629.7,274 627.1,276.4 624.4,278.6 621.9,278.9 620.8,280.1 619.8,279.2 618.8,280.5 615.9,281.8 613.6,282.2 613.2,285 612,285.1 611.1,283.2 611.4,282.2 608.3,281.4 607.3,281.8 604.7,284 603.2,286.5 603,288.3 605.1,291.1 607.7,294.5 610,296.1 611.7,298.2 612.5,300.6 613.3,303 613.4,305.3 613.5,307.6 611.8,309.3 609.3,311 607.6,313.2 604.9,315.6 603.9,314 604.5,312.2 602.6,310.7 600.7,310.3 599.6,309 598.2,306.3 596,305.1 594.1,305.1 594.2,303.1 592.2,303.1 592.3,306 591.4,309.8 590.8,312.1 591.1,314 592.6,314.1 593.7,316.4 594.3,318.7 595.6,320.2 597,320.5 598.3,321.9 598.8,322.1 600.3,323.7 601.3,325.4 601.5,327.2 601.3,328.4 601.6,329.3 601.8,330.8 602.6,331.5 603.6,333.8 603.6,334.7 601.9,334.9 599.7,333 596.9,330.9 596.6,329.6 595.2,327.8 594.8,325.6 593.9,324.2 594.1,322.3 593.5,321.2 592.6,320.2 592.1,318.9 590.8,317.4 589.6,316.2 589.3,317.8 588.8,316.3 589,314.7 589.5,312.2 589.1,310.2 589.6,308.2 588.7,306.7 588.6,303.8 587.6,302.5 586.5,299.3 585.7,296.1 584.4,293.9 583.1,295.2 580.7,297.1 579.4,296.8 577.9,296.2 578.3,293 577.5,290.5 575.3,287.5 575.5,286.6 574.1,286.2 572.2,284.1 571.3,282.8 571,281.4 570.4,280.2 569.3,278.6 567.2,278.5 567.5,279.6 567,281.1 566,280.5 565.7,281 565,280.7 564.1,280.5 564,281.5 562.4,281.4 559.7,282 560.1,283.9 559.1,285.5 556.1,287.2 553.9,290.3 552.4,292 550.3,293.7 550.4,294.9 549.4,295.5 547.4,296.5 546.4,296.6 545.9,298.6 546.6,302 547,304.1 546.2,306.6 546.3,308.8 546.5,311 545.3,311.2 544.4,313.2 545.1,314 543.1,314.8 542.4,316.6 541.5,317.3 539.2,314.9 537.9,311.2 536.9,308.6 536,307.3 534.6,304.8 533.8,301.6 533.2,299.9 530.9,296.3 530.1,293.8 529.4,291.3 528.4,287.9 528,284.8 527.3,282.3 524.2,283.9 522.6,283.6 519.3,280.4 520.2,279.5 519.5,278.5 516.6,276.2 514.9,275.6 514,273.7 512,271.7 509.9,271.9 507.9,272.2 506.1,272.2 504.3,272.2 501.2,272.6 499,272.2 496.9,271.8 494.3,271.2 491.8,270.9 490.4,267.7 489.3,267.2 487.6,267.7 485.5,269 482.7,268.1 480.2,266.1 478,265.3 476.2,262.9 474.1,259.4 473,259.8 471.4,258.9 470.7,259.9 469.4,259.8 470,261 469.9,261.6 470.9,263.5 472,265.8 473.1,266.4 473.6,267.3 475.3,268.4 475.5,269.5 475.4,270.4 475.8,271.2 476.5,272 476.9,272.8 477.3,273.5 476.9,271.6 477.4,270.2 478,269.9 478.7,270.7 478.9,272.2 478.6,273.8 479.1,274.8 479.5,274.7 479.6,275.4 481.4,275 483.2,275 484.6,275.1 486,273.3 487.5,271.7 488.7,270.1 489.2,269.2 489.6,269.4 489.5,270.5 489.2,271 489.8,273 491,274.8 492.3,275.7 494,276.1 495.4,276.6 496.5,278.1 497.2,278.9 498.1,279.3 498.1,279.8 497.4,281.4 497.1,282.1 496.3,283 495.6,284.8 494.5,284.6 494.1,285.2 493.9,286.6 494.3,288.3 494.1,288.6 493.1,288.6 491.7,289.6 491.6,290.9 491.1,291.4 489.7,291.4 488.9,292.1 489,293.1 487.9,293.8 486.7,293.6 485.2,294.5 484.2,294.6 482.6,295.3 482.2,296.5 482.2,297.4 480,298.5 478.2,299.1 476.4,299.7 474.5,301.5 473.5,301.7 472.8,301.5 471.5,302.6 470.1,303.1 468.2,303.2 467.6,303.4 467.1,304.1 466.5,304.3 466.2,304.9 465,304.9 464.4,305.2 462.7,305.1 462.1,303.6 462.1,302.1 461.7,301.4 461.1,299.5 460.4,298.4 460.9,298.3 460.6,297.1 460.8,296.6 460.7,295.4 460.3,294.3 459.6,293.5 459.3,292.5 458.1,291.5 456.8,289.3 456,287.2 454.3,285.4 453.3,285 451.6,282.5 451.3,280.7 451.3,279.1 449.8,276.2 448.7,275.2 447.4,274.7 446.6,273.2 446.7,272.6 445.9,271.3 445.2,270.7 444.2,268.7 442.7,266.6 441.4,264.8 440.3,264.8 440.5,263.4 440.5,262.5 440.7,261.4 440.6,261.1 439.7,258.8Z" fill="#ffffcc"/><g clip-path="url(#k3)" stroke="#6a6c6a" stroke-width="0.56" stroke-linejoin="round"><path d="M415,161.4 413.7,161.9 412.4,162.3 411.1,162.5 411.2,164.1 412.7,164.8 414.2,165.6 413,167.3 415.7,169.8 415,171.8 417,173.5 416.6,175 419.6,176.6 419.2,177.8 417.9,179.2 416.3,180.7 414.6,182.2 413.8,183.2 415,184.7 415.3,185.1 414.3,186.5 415.3,188.7 414.6,189.5 415.6,190.1 416,191.2 416.9,192.7 419,193.3 419.4,193.9 420.4,193.6 422.4,194.2 422.8,195.4 422.5,196 424,197.6 424.9,198.1 424.9,198.6 426.3,199 427,199.6 426.3,200.2 424.8,200.1 424.4,200.3 425,201.2 425.8,202.8 426.6,202.9 427,202.3 427.6,202.4 429.6,202.2 431.1,203.6 430.7,204.1 431.1,204.9 432.7,205 433.6,206.1 433.7,206.6 436.4,207.5 437.8,207.1 439.3,208.2 440.5,208.2 443.6,209.1 443.8,209.8 443.2,211.1 444,212.5 443.8,213.4 441.9,213.6 441,214.3 441.2,215.4 439.6,218.2 438.7,219.9 438.9,222.1 441.8,224 444.8,225.9 446.6,224.8 446.7,224.5 448.6,225 451.7,225.4 454.8,226.6 455.3,227.1 456.5,226.7 458.6,227.2 459.4,228.3 460.8,228.9 461.5,229 463.2,230.5 464.2,230.7 464.4,230 465.5,229 466.6,227.2 465.5,224 464.5,220.8 463.8,217.2 462.7,216.8 462.5,215.5 460.8,213.8 459.3,213.8 457.2,212.1 457.9,210.2 457.2,209.7 458.1,206.9 460.5,208.4 460.2,206.5 461.9,205.1 463.6,203.8 465.1,203.8 466.6,203.7 469.1,204.6 471.5,205.4 474.2,206.5 476,205.4 477.6,205.4 479.1,205.4 482.1,206.7 482.4,205.9 485.3,206 485.3,204.8 483.4,204 481.5,203.1 483,201.9 482.3,201.2 484,200.6 481.9,198.9 482.5,198 484.8,197.7 487.1,197.4 489.4,197.2 490.1,196.5 492.3,196.1 494.5,195.6 495.8,194.6 497.6,194.9 499.5,195.1 501.3,197.7 503,197.1 505.9,197.9 506.4,199.3 508.1,199.1 510,198 511.9,196.8 511.6,197.6 515,199.5 518.7,202.7 522.4,205.9 522.9,204.5 526.3,206 528.8,205.3 530.1,205.8 531.8,207.3 533.4,207.7 534.8,208.8 537.2,208.5 539,210 539.7,209.8 541.6,209.4 543,208.3 544.3,207.2 545.6,206.6 546.8,206 548.9,206.8 551,206.8 553,208 555,208.1 558.2,208.7 559.2,207 557.6,205.5 558.1,202.9 561,203.9 562.9,204.2 565.7,204.9 567.1,206.8 570.6,207.8 572.2,207.3 574.5,207 576.7,207.4 579.4,208.6 581.4,209.9 583.2,209.8 586,210.2 587.5,209.6 589.9,209.2 591.7,207.4 593.1,207.7 594.7,208.5 596.9,208.3 599.9,209.3 601.7,207.7 601,206.6 600.9,203.9 601.4,203.1 600.4,201.7 598.9,201.1 599.6,199.9 601.7,199.4 604.2,199.4 606,199.7 607.7,200.1 610.1,201 613.3,203.6 614.8,204.6 616.7,206.2 619.2,208.6 621.2,209.1 623.2,209.5 626.8,211.3 629.3,213.7 630.8,213.7 632.4,213.7 633.4,212.7 634.9,212.3 636.3,211.9 636.8,214.2 636.6,215.1 637.8,217.9 638.1,220.4 635.3,220 634.1,220.9 636,223.1 637.6,226.1 636.6,226.2 637.4,227.5 637.9,227.9 642,229.9 646.1,231.8 650.2,233.7 652.5,232.7 654.9,231.8 657.2,230.9 659.5,229.9 661.8,229 664.1,228 666.3,227.1 668.5,226.2 670.8,225.2 673,224.3 675.1,223.4 676.9,222 678.7,220.5 680.5,219.2 682.2,217.8 683.9,216.4 685.6,215 687.2,213.6 688.9,212.2 690.4,210.8 692,209.4 693.5,208 694.7,206.2 695.7,204.4 696.8,202.7 697.7,200.9 698.6,199.1 699.5,197.3 700.2,195.6 700.9,193.8 701.6,192 702.2,190.3 702.7,188.6 703.2,186.8 703.6,185.1 704,183.4 699.3,180 694.6,176.6 689.8,173.3 684.9,170 680,166.8 674.9,163.6 669.8,160.5 664.5,157.4 659,154.4 653.3,151.4 647.4,148.5 641.3,145.7 634.9,142.9 628.3,140.3 626.1,140.2 623.9,140.2 621.6,140.2 619.4,140.1 617.2,140.1 615,140.1 612.8,140 610.6,140 608.4,140 606.2,139.9 604,139.9 601.8,139.9 599.6,139.8 597.4,139.8 595.2,139.8 593,139.7 590.8,139.7 588.6,139.7 586.4,139.6 584.2,139.6 582,139.6 579.8,139.5 577.6,139.5 575.4,139.5 573.2,139.4 571.1,139.4 568.9,139.4 566.7,139.4 564.5,139.3 562.3,139.3 560.2,139.3 558,139.2 555.8,139.2 553.6,139.2 551.5,139.1 549.3,139.1 547.1,139.1 545,139 542.8,139 540.6,139 538.5,138.9 536.3,138.9 534.1,138.9 532,138.8 529.8,138.8 527.7,138.8 525.5,138.7 523.3,138.7 521.2,138.7 519,138.6 516.9,138.6 514.7,138.6 512.6,138.5 510.4,138.5 508.3,138.5 506.2,138.4 504,138.4 501.9,138.4 499.7,138.4 497.6,138.3 495.5,138.3 493.3,138.3 491.2,138.2 489,138.2 486.9,138.2 484.8,138.1 482.7,138.1 480.5,138.1 478.4,138 476.3,138 474.1,138 472,137.9 469.9,137.9 467.8,137.9 465.7,137.8 463.5,137.8 461.4,137.8 459.3,137.8 457.2,137.7 455.1,137.7 453,137.7 450.9,137.6 448.8,137.6 446.7,137.6 444.5,137.5 442.4,137.5 440.3,137.5 438.2,137.4 436.1,137.4 434,137.4 431.9,137.4 429.8,137.3 427.7,137.3 425.6,137.3 423.6,137.2 421.5,137.2 419.4,137.2 417.3,137.1 415.2,137.1 413.1,137.1 411,137 408.9,137 406.9,137 404.8,137 406.3,139.2 407.8,141.7 409.4,144.3 411,146.9 412.6,149.7 414.1,152.5 415.7,155.4 417.2,158.3 416.1,159.9Z" fill="#7fcdbb"/><path d="M401.2,197 403.6,197.3 405.4,197.2 407.2,197.2 406.9,196.6 407.1,195.9 406.2,195.5 404.1,195.1 401.5,194.3 400.4,196.3Z" fill="#7fcdbb"/><path d="M415,161.4 413.7,161.9 412.4,162.3 411.1,162.5 411.4,161 409,160.1 407.9,160.5 406.7,160.8 406.2,162.5 404.8,163.4 402.9,162.9 400.7,163 398.6,161.9 397.8,162.4 396.7,162.5 396.7,164 395.1,163.8 393.5,163.6 393.2,164.9 391.6,164.9 390.7,166.5 389.3,169 388.2,170.6 387,172.2 387.7,172.9 387.2,173.9 385.4,173.8 384.5,176 384.9,179.1 386.1,180.3 385.8,183.1 384.4,184.8 383.7,186.1 382.8,187.7 380.7,188.3 378.5,188.9 376.4,189.4 373.8,189 371.3,188.6 368.8,188.2 368.3,185.2 367.8,182.2 367.2,179.3 366.7,176.3 369.3,174 371.7,171.7 374.2,169.4 376.5,167.1 378.8,164.9 381.1,162.7 383.2,160.5 385.4,158.3 387.4,156.2 389.7,156.2 392,156.2 394.3,156.2 396.6,156.2 398.9,156.2 401.2,156.2 403.5,156.2 405.7,156.2 408,156.2 410.3,156.2 412.6,156.2 414.9,156.2 415.9,158.1 416.9,160 415.6,161.1Z" fill="#7fcdbb"/><path d="M404.6,169.4 403.9,168.5 403.5,166.7 403.1,165 401.7,164.3 400.2,163.5 397.8,162.4 396.7,162.5 396.7,164 395.1,163.8 393.5,163.6 393.2,164.9 391.6,164.9 390.7,166.5 389.3,169 388.2,170.6 387,172.2 387.7,172.9 387.2,173.9 385.4,173.8 384.5,176 384.9,179.1 386.1,180.3 385.8,183.1 384.4,184.8 383.7,186.1 383.3,187 384.3,189.4 385.2,191.9 386.9,193.1 387.6,194.1 387.2,195.6 389.7,195.6 392.1,195.6 394.1,194.3 396.1,193.1 398.1,191.9 400.1,190.7 399.8,188.2 399.4,185.8 399.1,183.4 398.7,181 398.9,179.3 399.1,177.5 400.6,175.6 401.7,174.2 402.8,172.8 404.5,170.8Z" fill="#41b6c4"/><path d="M411.1,162.5 411.2,164.1 412.7,164.8 414.2,165.6 413,167.3 415.7,169.8 415,171.8 417,173.5 416.6,175 419.6,176.6 419.2,177.8 417.9,179.2 416.3,180.7 414.6,182.2 413.8,183.2 412.4,183.3 411.1,183.5 409.7,183.7 408.4,183.9 407.1,184.3 405.7,184.6 403.9,184.6 402,184.6 399.5,182.7 398.7,181 398.9,179.3 399.1,177.5 400.6,175.6 401.7,174.2 402.8,172.8 404.5,170.8 404.6,169.4 403.9,168.5 403.5,166.7 403.1,165 401.7,164.3 400.2,163.5 397.8,162.4 398.6,161.9 400.7,163 402.9,162.9 404.8,163.4 406.2,162.5 406.7,160.8 407.9,160.5 409,160.1 411.4,161Z" fill="#7fcdbb"/><path d="M408.9,188.7 410.4,188.3 411.3,188.6 413.1,189.5 414.6,189.5 415.3,188.7 414.3,186.5 415.3,185.1 415,184.7 413.8,183.4 412.5,183.5 411.1,183.5 409.7,183.7 408.4,183.9 407.1,184.3 405.7,184.6 403.9,184.6 402,184.6 403.4,187.7 404.9,188.1 406.4,188.5 408.2,188.5Z" fill="#c7e9b4"/><path d="M407.2,197.2 406.9,196.6 407.1,195.9 406.2,195.5 404.1,195.1 402.6,194.8 402.3,192.9 403.4,193 405.4,192.3 407.1,192.4 408.7,192.4 410.5,192.2 411.9,192.9 413.9,194 414.3,195.1 412.9,195.9 412.7,197.3 410.7,198.3 408.8,198.3 408.2,197.5Z" fill="#c7e9b4"/><path d="M408.8,198.3 410.7,198.3 412.7,197.3 412.9,195.9 414.3,195.1 413.9,194 415,193.6 416.9,192.7 419,193.3 419.4,193.9 420.4,193.6 422.4,194.2 422.8,195.4 422.5,196 424,197.6 424.9,198.1 424.9,198.6 426.3,199 427,199.6 426.3,200.2 424.8,200.1 424.4,200.3 425,201.2 425.8,202.8 424.2,202.9 423.7,203.5 423.8,204.7 422.9,204.5 421.1,204.6 420.5,204 419.9,204.4 419.1,204.1 417.5,204 415.2,203.4 413.2,203.2 411.6,203.3 410.7,204 409.7,204.1 409.5,203 408.8,201.8 409.9,201.3 409.7,200.3 409.1,199.3Z" fill="#c7e9b4"/><path d="M425.8,202.8 426.6,202.9 427,202.3 427.6,202.4 429.6,202.2 431.1,203.6 430.7,204.1 431.1,204.9 432.7,205 433.6,206.1 433.7,206.6 436.4,207.5 437.8,207.1 439.3,208.2 440.5,208.2 443.6,209.1 443.8,209.8 443.2,211.1 444,212.5 443.8,213.4 441.9,213.6 441,214.3 441.2,215.4 439.6,218.2 438.7,219.9 438.9,222.1 436.5,222.7 434.2,223.3 431.9,223.9 429,222.3 426.2,220.8 424.9,220.3 424.3,220 423.3,219.6 422.4,220 421.4,219.5 421.9,219.2 422.1,218.4 422.5,217.6 422.3,217.1 422.7,216.9 423,217.2 424.2,217.3 424.7,217.1 424.3,216.9 424.4,216.5 423.6,215.8 423.1,214.8 422.3,214.4 422.3,213.5 421.3,212.8 420.4,212.7 418.8,211.9 417.5,212.2 417.1,212.6 416.2,212.6 415.8,213.1 414.4,213.4 413.7,213.8 412.7,213.2 411.4,213.1 410.1,212.9 409.3,213.4 409.1,212.7 407.9,212 408.1,211 408.6,210.3 409.1,210.5 408.4,209.4 410,207.3 410.9,207 411,206.3 409.7,204.1 410.7,204 411.6,203.3 413.2,203.2 415.2,203.4 417.5,204 419.1,204.1 419.9,204.4 420.5,204 421.1,204.6 422.9,204.5 423.8,204.7 423.7,203.5 424.2,202.9Z" fill="#c7e9b4"/><path d="M417.1,212.6 417.5,212.2 418.8,211.9 420.4,212.7 421.3,212.8 422.3,213.5 422.3,214.4 423.1,214.8 423.6,215.8 424.4,216.5 424.3,216.9 424.7,217.1 424.2,217.3 423,217.2 422.7,216.9 422.3,217.1 422.5,217.6 422.1,218.4 421.9,219.2 421.4,219.5 420.8,218.4 420.9,217.3 420.7,216.2 419.3,214.6 418.5,213.6 417.7,212.8Z" fill="#ffffcc"/><path d="M393,205.2 392,203.6 392.1,202.8 391.5,201.5 390.7,200.6 391.2,199.9 390.6,198.6 390.6,196.5 392.7,196 394.7,195.4 396.8,194.8 398.8,195.3 400.8,195.8 401.2,197 403.6,197.3 405.4,197.2 407.2,197.2 408.2,197.5 408.8,198.3 409.1,199.3 409.7,200.3 409.9,201.3 408.8,201.8 409.5,203 409.7,204.1 411,206.3 410.9,207 410,207.3 408.4,209.4 409.1,210.5 408.6,210.3 406.6,209.4 405.2,209.7 404.2,209.5 403.1,210 402,209.1 401.2,209.5 401,209.3 400,208.1 398.5,207.9 398.2,207.1 396.8,206.9 396.6,207.5 395.5,207 395.5,206.3 394,206.1Z" fill="#41b6c4"/><path d="M382.3,195.6 383.6,196.2 385.5,196.1 387.3,196 388.9,196.3 390.6,196.5 390.6,198.6 391.2,199.9 390.7,200.6 391.5,201.5 392.1,202.8 392,203.6 393,205.2 392.1,205.5 391.6,205.2 391.1,205.7 389.7,206.2 389,206.8 387.6,207.4 388,208.1 388.3,209.2 389.4,209.8 390.6,210.9 390,212 389.3,212.4 389.7,214 389.5,214.5 388.8,214 387.8,213.9 386.4,214.3 384.6,214.2 384.4,214.9 383.3,214.2 382.7,214.3 380.5,213.6 380.1,214.1 378.4,214.1 378.5,212.3 379.5,210.5 376.6,210.1 375.6,209.4 375.7,208.3 375.3,207.7 375.4,206 375,203.4 376.2,203.4 376.6,202.4 377,200.2 376.6,199.3 376.5,197.3 378.6,195.1 379.6,195.7 381.1,196Z" fill="#2c7fb8"/><path d="M379.6,195.7 381.1,196 382.3,195.6 383.6,195.9 384.1,193.9 384.7,191.9 384.3,189.4 383.4,187.7 381.4,188.2 379.3,188.7 377.3,189.2 377.5,192.4 377.6,195.6Z" fill="#41b6c4"/><path d="M376.6,199.3 377,200.2 376.6,202.4 376.2,203.4 375,203.4 375.4,206 374.3,205.4 373,204.3 371.2,204.8 369.7,204.6 369.1,204 370,201.6 371,199.3 373.8,198.3 376.5,197.3Z" fill="#2c7fb8"/><path d="M369.7,204.6 371.2,204.8 373,204.3 374.3,205.4 375.4,206 375.3,207.7 374.7,207.8 374.6,209.2 372.8,208.1 371.8,208.3 370.3,207.1 369.4,206.1 368.5,206 368.2,205.1 367.9,204 369.1,204Z" fill="#41b6c4"/><path d="M375.3,207.7 375.7,208.3 375.6,209.4 375,209.5 374.6,209.2 374.7,207.8Z" fill="#41b6c4"/><path d="M368.2,205.1 368.5,206 369.4,206.1 370.3,207.1 371.8,208.3 372.8,208.1 374.6,209.2 375,209.5 375.6,209.4 376.6,210.1 379.5,210.5 378.5,212.3 378.4,214.1 377.8,214.5 376.9,214.3 377,214.9 375.5,216.4 375.5,217.5 376.5,217.1 377.2,218.2 377.2,219 377.8,219.9 377.1,220.7 377.7,222.7 378.9,223 378.7,224.2 378.9,226.2 376.4,226.8 374,227.4 371.6,228 370.3,227.5 369.4,227.3 367,227.6 364.6,226.4 363.9,227 362,226.4 360,225.9 359.2,224.9 358.6,224.1 357.8,221.2 357,218.2 355,216.1 353,214 351,211.8 353.4,210.3 355.8,208.8 358.2,207.3 360.5,206.8 362.8,206.3 365.2,205.8 367.1,204.3Z" fill="#2c7fb8"/><path d="M359.2,224.9 360,225.9 362,226.4 363.9,227 364.6,226.4 367,227.6 369.4,227.3 370.7,228.5 369,231.1 367.1,233.7 365.3,236.3 363.2,238.9 361,241.5 358.8,244.1 356.2,244.2 353.6,244.3 351,244.4 348,242.8 347.1,241.2 346.9,240.4 347.8,239.4 348.1,238.7 347.4,237.9 348,236.2 347.2,234.7 348.1,234.4 348.2,233.2 348.6,232.8 348.7,230.8 349.7,230.1 349.1,228.8 347.9,228.7 347.5,229.1 346.3,229.1 345.8,227.8 344.9,228.2 344.2,228.8 342.1,228.5 342.3,225.7 342.4,222.8 345.2,222.9 347.9,223 350.7,223.1 353.5,223.2 356.2,223.3 359,223.4Z" fill="#41b6c4"/><path d="M344.2,228.8 344.9,228.2 345.8,227.8 346.3,229.1 347.5,229.1 347.9,228.7 349.1,228.8 349.7,230.1 348.7,230.8 348.6,232.8 348.2,233.2 348.1,234.4 347.2,234.7 348,236.2 347.4,237.9 348.1,238.7 347.8,239.4 346.9,240.4 347.1,241.2 347.2,242.8 344.4,242.8 341.6,242.8 341.7,239.2 341.8,235.6 342,232.1 342.1,228.5Z" fill="#7fcdbb"/><path d="M382.7,214.3 382.8,214.8 382.5,215.4 383.5,215.9 384.5,215.9 384.4,217 383.5,217.4 382,217.1 381.6,218.1 380.6,218.2 380.2,217.8 379.1,218.7 378.1,218.8 377.2,218.2 376.5,217.1 375.5,217.5 375.5,216.4 377,214.9 376.9,214.3 377.8,214.5 378.4,214.1 380.1,214.1 380.5,213.6Z" fill="#41b6c4"/><path d="M397.6,212.8 397.5,213.9 396.4,213.9 396.8,214.4 396.3,216 395.9,216.5 394.2,216.5 393.1,217.1 391.5,216.9 388.5,216.3 388,215.4 386,215.8 385.8,216.3 384.5,215.9 383.5,215.9 382.5,215.4 382.8,214.8 382.7,214.3 383.3,214.2 384.4,214.9 384.6,214.2 386.4,214.3 387.8,213.9 388.8,214 389.5,214.5 389.7,214 389.3,212.4 390,212 390.6,210.9 392.2,211.7 393.2,210.7 393.9,210.5 395.5,211.3 396.5,211.1 397.4,211.6 397.3,211.9Z" fill="#41b6c4"/><path d="M397.4,211.6 396.5,211.1 395.5,211.3 393.9,210.5 393.2,210.7 392.2,211.7 390.6,210.9 389.4,209.8 388.3,209.2 388,208.1 387.6,207.4 389,206.8 389.7,206.2 391.1,205.7 391.6,205.2 392.1,205.5 393,205.2 394,206.1 395.5,206.3 395.5,207 396.6,207.5 396.8,206.9 398.2,207.1 398.5,207.9 400,208.1 401,209.3 400.4,209.3 400.2,209.8 399.7,209.9 399.6,210.5 399.3,210.6 399.3,210.8 398.6,211.1 397.7,211Z" fill="#7fcdbb"/><path d="M401,209.3 401.2,209.5 402,209.1 403.1,210 404.2,209.5 405.2,209.7 406.6,209.4 408.6,210.3 408.1,211 407.9,212 407.4,212.3 405.2,211.5 404.5,211.7 404.1,212.3 403.2,212.6 403,212.4 402,212.8 401.3,212.9 401.1,213.4 399.5,213.7 398.7,213.4 397.6,212.8 397.3,211.9 397.4,211.6 397.7,211 398.6,211.1 399.3,210.8 399.3,210.6 399.6,210.5 399.7,209.9 400.2,209.8 400.4,209.3Z" fill="#c7e9b4"/><path d="M396.3,216 396.8,214.4 396.4,213.9 397.5,213.9 397.6,212.8 398.7,213.4 399.5,213.7 401.1,213.4 401.3,212.9 402,212.8 403,212.4 403.2,212.6 404.1,212.3 404.5,211.7 405.2,211.5 407.4,212.3 407.9,212 409.1,212.7 409.3,213.4 408.1,214 407.3,215.7 406.3,217.4 404.7,217.9 403.4,217.8 401.9,218.5 401.2,218.8 399.4,218.3 397.8,217.2 397.1,216.9 396.6,216.1Z" fill="#7fcdbb"/><path d="M409.3,213.4 410.1,212.9 411.4,213.1 412.7,213.2 413.7,213.8 414.4,213.4 415.8,213.1 416.2,212.6 417.1,212.6 417.7,212.8 418.5,213.6 419.3,214.6 420.7,216.2 420.9,217.3 420.8,218.4 421.4,219.5 422.4,220 423.3,219.6 424.3,220 424.9,220.3 424.5,223.4 423.4,224.4 422.7,224.1 421.4,223.8 419.8,222.9 417.4,223.5 416.4,224.2 413.4,224 411.7,223.6 410.9,223.8 410.2,222.8 409.8,222.3 410.2,221.9 409.7,221.6 409.1,222.1 407.8,221.4 407.5,220.3 406.2,219.7 405.9,218.9 404.7,217.9 406.3,217.4 407.3,215.7 408.1,214Z" fill="#7fcdbb"/><path d="M410.2,222.8 410.9,223.8 411.7,223.6 413.4,224 416.4,224.2 417.4,223.5 419.8,222.9 421.4,223.8 422.7,224.1 423.4,224.4 423.2,227.2 422.7,228.6 422.1,228.5 420.2,228.2 418.2,229 418.3,230.2 416.4,230.5 414.8,229.6 413.2,230.3 411.6,230.2 411.3,228.5 410.2,227.7 410.5,227.3 410.2,227 410.5,226.2 411.2,225.4 410.1,224.3 409.8,223.3Z" fill="#c7e9b4"/><path d="M406.2,219.7 407.5,220.3 407.8,221.4 409.1,222.1 409.7,221.6 410.2,221.9 409.8,222.3 410.2,222.8 409.8,223.3 410.1,224.3 411.2,225.4 410.5,226.2 410.2,227 410.5,227.3 410.2,227.7 409.2,227.7 408.5,227.9 408.4,227.7 408.6,227.4 408.8,226.8 408.5,226.8 408.1,226.3 407.7,226.2 407.4,225.8 407,225.6 406.6,225.2 406.3,225.4 406.1,226.2 405.6,226.4 405.7,226.2 404.9,225.6 404.2,225.4 403.8,225 403.3,224.6 403.7,224.5 403.9,223.3 402.8,222.3 403.2,221.1 402.5,221.1 403.2,220.2 402.5,219.4 401.9,218.5 403.4,217.8 404.7,217.9 405.9,218.9Z" fill="#c7e9b4"/><path d="M406.5,228.9 406.3,227.9 405.8,227.7 405.3,227 405.6,226.4 406.1,226.2 406.3,225.4 406.6,225.2 407,225.6 407.4,225.8 407.7,226.2 408.1,226.3 408.5,226.8 408.8,226.8 408.6,227.4 408.4,227.7 408.5,227.9 408,228 406.8,228.4 406.8,228.9Z" fill="url(#hatch)" stroke="#cfcfcf"/><path d="M401.9,218.5 402.5,219.4 403.2,220.2 402.5,221.1 401.5,220.6 400.1,220.6 398.3,220.2 397.3,220.2 396.9,220.8 396.1,220.2 395.8,221.2 396.9,222.5 397.4,223.3 398.4,224.2 399.3,224.8 400.1,225.9 402.1,226.8 401.9,227.3 401.4,228 399.4,228.5 397.2,227.2 395,225.9 391.8,222.8 390.7,221 390.8,219.8 391.4,219.5 392.9,219.6 393.2,219.2 394,219.6 394.8,219.6 394.7,218.9 395.4,218.7 395.5,217.6 397.1,216.9 397.8,217.2 399.4,218.3 401.2,218.8Z" fill="#c7e9b4"/><path d="M391.5,216.9 393.1,217.1 394.2,216.5 395.9,216.5 396.3,216 396.6,216.1 397.1,216.9 395.5,217.6 395.4,218.7 394.7,218.9 394.8,219.6 394,219.6 393.2,219.2 392.9,219.6 391.4,219.5 391.2,219.2 391.9,219.3 391.3,218.2Z" fill="#c7e9b4"/><path d="M406.5,228.9 406.3,229.8 406.7,230.9 407.7,231.5 407.7,232.2 407,232.6 407,233.4 406.1,234.7 405.7,234.5 404.7,234.7 403.2,231.9 403.2,228.8 403.9,228.8 403.7,228 404.5,226.7 404.7,227.2 405.3,227 405.8,227.7 406.3,227.9Z" fill="url(#hatch)" stroke="#cfcfcf"/><path d="M419.3,229.7 418.8,231.3 418.3,231.6 418.4,232.9 416.9,234 415.4,235 416,237.6 416.5,240.2 415.3,242.3 414.1,244.4 411.3,243.8 408.6,243.3 407.3,240.5 406,237.6 404.7,234.7 405.7,234.5 406.1,234.7 407,233.4 407,232.6 407.7,232.2 407.7,231.5 409,231.3 409.8,230.7 410.9,230.8 411.2,230.3 411.6,230.2 413.2,230.3 414.8,229.6 416.4,230.5 418.3,230.2 418.2,229Z" fill="#7fcdbb"/><path d="M418.2,229 420.2,228.2 422.1,228.5 422.7,228.6 425,230.1 424.6,231 423,231.6 421.5,232.1 419.4,233 418.4,232.9 418.3,231.6 418.8,231.3 419.3,229.7Z" fill="#41b6c4"/><path d="M378.7,224.2 378.9,223 377.7,222.7 377.1,220.7 377.8,219.9 377.2,219 377.2,218.2 378.1,218.8 379.1,218.7 380.2,217.8 380.6,218.2 381.6,218.1 382,217.1 383.5,217.4 384.4,217 384.5,215.9 385.8,216.3 386,215.8 388,215.4 388.5,216.3 391.5,216.9 391.3,218.2 391.9,219.3 390.8,219.8 390.7,221 391.8,222.8 395,225.9 397.2,227.2 399.4,228.5 401.3,230.2 403.2,231.9 403,235.3 400.4,238.1 397.6,241 395,238.5 392.4,236.1 389.7,233.7 387,231.1 384.2,228.5 382.4,225.4 380.6,225.8 378.9,226.2Z" fill="#41b6c4"/><path d="M441.5,244.6 442,244 442.5,243.4 442.4,242 443.2,242.5 445.5,241.8 446.7,242.3 448.5,242.2 450.8,241.3 452.6,241.1 454.4,240.9 455.2,240.5 457.8,240.8 458.7,241.5 459.6,241.1 458.1,239 458.4,238.2 457.2,235.2 458.5,234.4 457.6,233.7 455.9,233 455.8,231.8 455.3,230.9 453,229.6 450.8,229.7 449.4,228.5 446.7,228 444,227.5 441.3,227 438.6,226.4 436.1,226.9 433.7,227.3 431.2,227.7 428.7,228.1 426.3,228.5 425,230.1 424.6,231 423,231.6 421.5,232.1 419.4,233 418.4,232.9 418.1,235.9 417.9,238.9 420.3,241.5 422.7,244.1 425.2,244.4 427.6,244.6 430.1,244.9 432.6,245.1 435.2,244.9 437.9,244.6 440.5,244.4Z" fill="#41b6c4"/><path d="M470.7,259.9 469.3,258.6 469.1,257.2 468.4,257.2 468.5,255.3 467.1,253.3 464.2,251.9 462.3,249.4 462.5,247.4 463.5,246.5 463.1,244.9 461.5,244.2 459.6,241.1 458.1,239 458.4,238.2 457.2,235.2 458.5,234.4 459,235.4 460.3,236.6 461.9,237 462.6,236.9 464.8,235 465.5,234.8 466.3,235.5 465.8,236.8 467.4,238.2 467.9,238.1 470.2,237.6 472.5,238 474.7,238.5 476.9,238.9 479.3,241 481.1,240.5 482.3,239 483.8,239 484.6,238.6 486.2,238.8 488.9,240.1 490.6,240.4 493.6,242.7 495.2,242.8 495.9,245 495.7,248.3 495.5,250.2 496.5,250.5 495.9,252 497,254.1 497.4,255.7 499.2,256.2 499.6,257.8 498,260.2 499.4,261.6 500.5,263.2 502.8,264.3 503.2,266.6 504.3,267 504.7,268.2 501.6,269.6 501.2,272.6 500.3,275.4 497.8,275.1 495.2,274.8 492.7,274.5 490.1,274.1 489.9,271.5 489.7,268.9 486.9,269.8 484.1,270.7 481.2,269.2 478.2,267.6 476.2,265.2 474.3,262.9 471.8,260.8Z" fill="#c7e9b4"/><path d="M459.6,241.1 461.5,244.2 463.1,244.9 463.5,246.5 462.5,247.4 462.3,249.4 464.2,251.9 467.1,253.3 468.5,255.3 468.4,257.2 469.1,257.2 469.3,258.6 470.7,259.9 470.2,260.5 469.4,259.8 467.9,259.6 466.6,262.1 464.5,262 462.4,261.9 459,259.3 455.6,256.7 452.1,254.8 449.3,254.1 448.1,250.9 450.3,249.6 452.6,248.2 452.9,245.1 452.4,243.2 453.5,242.5 454.4,240.9 455.2,240.5 457.8,240.8 458.7,241.5 459.6,241.1Z" fill="#c7e9b4"/><path d="M466.6,262.1 467.9,259.6 469.4,259.8 470.7,260.8 471.7,263.5 470.9,263.5 469.3,263.6 468.6,262.4Z" fill="#c7e9b4"/><path d="M440.7,261.4 443.2,261.9 444.1,261 444.6,260.1 446.2,259.8 446.5,258.9 447.2,258.4 444.7,255.8 446.8,255.2 449,254.5 449.3,254.1 448.1,250.9 446.1,252.3 444.1,253.7 441.5,252.7 441.3,253.5 441.4,255.1 441.2,255.9 441.3,256.9 441,259 440.6,261.1 440.4,261.6Z" fill="#c7e9b4"/><path d="M440.1,251.7 440.9,251.7 441,251.2 441.6,251.2 441.8,252.3 441.5,252.7 441.3,253.5 441.4,255.1 441.2,255.9 441.3,256.9 441,259 440.6,261.1 439.7,258.8 438.8,256.6 438.1,256.4 438.5,253.9 438.9,251.4Z" fill="#41b6c4"/><path d="M440.7,261.4 443.2,261.9 444.1,261 444.6,260.1 446.2,259.8 446.5,258.9 447.2,258.4 444.7,255.8 446.8,255.2 449,254.5 449.3,254.1 452.1,254.8 455.6,256.7 459,259.3 462.4,261.9 464.5,262 466.6,262.1 468.6,262.4 469.3,263.6 470.9,263.5 473.4,264.5 474.7,266.6 476.1,268.6 476.3,271.8 477.3,273.5 478,274 478.6,273.8 478.9,274.3 479.1,274.8 479.3,275.4 480.3,278 482.8,278.3 485.2,278.5 487.6,278.8 488.8,280.7 488.3,283.3 487.8,285.9 485.6,286.7 483.4,287.6 481.2,288.5 478,289 474.7,289.5 472.7,290.7 471.2,293.4 470.2,293.8 469.6,293 468.7,293.1 466.5,292.8 466.1,292.6 463.4,292.6 462.8,292.9 461.9,292.2 461.3,293.5 461.6,294.6 460.7,295.4 457.7,295 455.6,292.1 453.4,289.1 451.3,286.2 449.1,283.3 447.3,279.9 445.5,276.5 443.8,273.1 441.9,269.7 440.1,266.3 440,262.6Z" fill="#7fcdbb"/><path d="M478.6,273.8 478,274 477.3,273.5 476.4,271.8 477,268.6 479.5,269.7 479.7,271.9 479.8,274.1Z" fill="#7fcdbb"/><path d="M488.8,280.7 487.6,278.8 485.2,278.5 482.8,278.3 480.3,278 479.3,275.4 479.1,274.8 478.9,274.3 479.8,272 482.6,271.6 485.3,271.3 487,270.7 488.7,270.1 489.2,271 490.7,271.3 490.5,273.1 489.8,273 488.6,273 488.6,274.7 489,275.1 488.1,275.6 488.2,276.7 487.6,277.8 487.6,278.8Z" fill="#41b6c4"/><path d="M463.8,217.2 462.7,216.8 462.5,215.5 460.8,213.8 459.3,213.8 457.2,212.1 457.9,210.2 457.2,209.7 458.1,206.9 460.5,208.4 460.2,206.5 461.9,205.1 463.6,203.8 465.1,203.8 466.6,203.7 469.1,204.6 471.5,205.4 474.2,206.5 476,205.4 477.6,205.4 479.1,205.4 482.1,206.7 482.4,205.9 485.3,206 485.3,204.8 483.4,204 481.5,203.1 483,201.9 482.3,201.2 484,200.6 481.9,198.9 482.5,198 484.8,197.7 487.1,197.4 489.4,197.2 490.1,196.5 492.3,196.1 494.5,195.6 495.8,194.6 497.6,194.9 499.5,195.1 501.3,197.7 503,197.1 505.9,197.9 506.4,199.3 508.1,199.1 510,198 511.9,196.8 511.6,197.6 515,199.5 518.7,202.7 522.4,205.9 522.9,204.5 526.3,206 528.8,205.3 530.1,205.8 531.8,207.3 533.4,207.7 534.8,208.8 537.2,208.5 539,210 538.2,211.7 536.7,211.9 537.7,214.5 537.1,215.7 534.9,215.2 532.7,214.8 532.9,217.1 533.1,219.4 532.3,220 530.4,220.5 528.6,221 530.4,223.2 532.2,225.5 531,226.1 531.7,227.6 530.2,227.2 528.8,226.3 525.7,226 523.9,226 522.2,226 521.5,226.2 518.1,225.2 517.2,225.7 517.3,227.2 515.5,226.8 513.6,226.3 512.3,226.7 512.2,227.8 511.2,228.3 508.9,230.1 508.6,232 507.8,232 506.9,230.7 504.1,230.7 503.1,228.5 502.1,228.5 501.4,225.9 498.4,224.1 496.6,224.2 494.9,224.3 492.5,224.6 489.8,222.3 486.7,220.8 483.7,219.3 481.2,220 478.8,220.8 479.7,224 480.5,227.1 481.3,230.3 480.3,230.4 478.3,228.4 476.7,227.7 474.5,228.2 473.7,229.1 471.5,228.5 470.9,225.9 470.3,223.4 468.6,222.7 466.8,222.1 466.4,220.1 465.9,218.2Z" fill="#c7e9b4"/><path d="M637.4,227.5 636.6,226.2 637.6,226.1 636,223.1 634.1,220.9 635.3,220 638.1,220.4 637.8,217.9 636.6,215.1 636.8,214.2 636.3,211.9 634.9,212.3 633.4,212.7 632.4,213.7 630.8,213.7 629.3,213.7 626.8,211.3 623.2,209.5 621.2,209.1 619.2,208.6 616.7,206.2 614.8,204.6 613.3,203.6 610.1,201 607.7,200.1 606,199.7 604.2,199.4 601.7,199.4 599.6,199.9 598.9,201.1 600.4,201.7 601.4,203.1 600.9,203.9 601,206.6 601.7,207.7 599.9,209.3 596.9,208.3 597.1,210.2 597.3,212.8 598.4,213.8 599.4,213.5 601.6,213.9 602.6,212.9 604.7,213.8 607.6,215.5 608,216.5 606.2,216.2 603.4,216.5 602.4,217.2 601.9,218.9 600.6,219.4 599.3,219.9 598,221.3 595.6,220.8 594.3,220.5 594.1,222.2 595.3,223.2 596.1,224 595.1,224.9 594.3,226.3 592.3,227.2 590.8,227.2 589.2,227.3 587.7,227.7 586.3,228.2 584.4,229.5 583.1,228.7 580.6,228.7 576.8,227.2 574.5,226.8 571.9,227.2 569.6,226.9 567.3,226.6 565,226.6 563.1,225.1 561.1,222.7 559.7,222.5 556.4,220.8 553.5,220.5 550.9,220 549.6,218.9 549,215.9 546.7,213.9 543.3,212.9 541,211.6 539.7,209.8 539,210 538.2,211.7 536.7,211.9 537.7,214.5 537.1,215.7 534.9,215.2 532.7,214.8 532.9,217.1 533.1,219.4 532.3,220 530.4,220.5 528.6,221 530.4,223.2 532.2,225.5 531,226.1 531.7,227.6 531.6,228.2 530.2,228.9 528.8,229.6 528.4,230.6 525.7,230.9 525.5,232.6 523.1,232.2 521.8,232.7 520.2,234 520.7,234.6 520.2,235.2 521.5,237.6 522.1,237.3 523.6,237.9 523.8,238.9 524.5,240.4 525.1,241.2 524,241.4 525.1,241.2 527.1,242.4 528.2,244.4 530.2,244.9 532.1,245.4 535.2,248.5 535.6,250.6 536.8,252 537,253.3 535.4,252.9 536.7,255.8 539.2,257.5 542.7,259.3 543.5,258.7 545.4,259.4 548,261.2 549.3,261.5 550.3,262.8 552.2,263.3 554.2,264.5 556.9,265.1 559.5,265.3 560.8,264.7 561.4,266.8 562.4,264.9 563.5,264.2 565.2,264.8 566.4,264.9 567.6,265.6 569.3,265.2 570.9,263.3 573,261.6 575,262.3 576.4,261.2 577.8,262.8 577.3,263.9 579.8,264.3 581,264.1 582.2,265.6 583.3,266.3 583.8,268.3 584.1,270.4 582.4,272.6 582.7,275.7 585,275.3 586,277.7 587.5,278.2 587.2,280.3 589,281.3 590,281.8 591.6,281 591.8,282.1 592.1,282.7 593.3,282.8 592.5,279.8 593.6,279.5 594.7,278.8 596.5,278.8 598.7,278.5 600.3,277.1 601.6,278.1 603.8,278.6 603.7,280.1 604.9,281.1 607.3,281.8 608.1,283.3 609.9,284.6 612.7,284.2 615.4,283.8 618.1,282.9 620.8,282 623.2,280.8 625.7,279.6 628.2,278.4 630.7,277.2 633.1,276 634.3,272.7 635.3,269.5 636.2,266.2 637,263 637.8,259.8 636.6,256.3 635.3,252.8 633.9,249.3 632.4,245.8 630.9,242.4 629.3,238.9 626.7,235.8 627.4,233.9 628.3,232.2 629.9,230.8 630.3,229 631.8,229.8 633.6,229.9 632.5,228.5 633.9,228 635.2,227.4 635.1,226 637.4,227.5Z" fill="#2c7fb8"/><path d="M637.4,227.5 635.1,226 635.2,227.4 633.9,228 632.5,228.5 633.6,229.9 631.8,229.8 630.3,229 629.9,230.8 628.3,232.2 627.4,233.9 627.3,235.3 628.9,237.6 630.4,239.9 632.1,240.1 633.8,240.2 634.3,239.5 635.3,239.4 635.6,238.2 637,238.1 637.9,237.3 640.1,236.8 640.2,234 640.2,231.1 637.9,227.9Z" fill="url(#hatch)" stroke="#cfcfcf"/><path d="M637.9,237.3 637,238.1 635.6,238.2 635.3,239.4 634.3,239.5 633.1,240.2 634.4,243.2 635.6,246.3 636.7,249.3 639.4,249.3 642.1,249.3 644.8,249.3 645.1,246.7 645.3,244.1 642.7,240.5 640.1,236.8Z" fill="#41b6c4"/><path d="M516.6,276.2 517.9,274.5 520.3,274.5 522.8,274.5 522.1,272.2 520.6,270.9 520.1,268.9 518.4,267.8 520.5,265 523.1,265.2 524.9,262.5 525.8,259.8 527.4,257.2 527,255.3 528.6,253.8 526.5,252.6 525.3,250.8 524,248.5 524.8,247.4 526.5,247.7 528.2,248 530.6,247.6 532.1,245.4 535.2,248.5 535.6,250.6 536.8,252 537,253.3 535.4,252.9 536.7,255.8 539.2,257.5 542.7,259.3 541.5,260.5 541.2,262.9 543.5,263.9 545.9,265.2 549,266.7 552.2,267 553.7,268.3 555.5,268.6 558.3,269.2 560.1,269.1 560.2,268.1 559.6,266.4 559.5,265.3 560.8,264.7 561.4,266.8 561.5,267.3 563.7,268.3 565.1,267.9 567,268.1 568.8,268 568.6,266.4 567.6,265.6 569.3,265.2 570.9,263.3 573,261.6 575,262.3 576.4,261.2 577.8,262.8 577.3,263.9 579.8,264.3 580.2,265.3 579.5,265.8 580.1,267.4 578.4,266.9 575.8,268.7 576.2,270.2 575.4,272.4 575.5,273.7 574.9,275.8 573,275.2 573.4,277.9 573,278.8 573.4,279.9 572.4,280.5 571.5,278.5 570.6,276.4 569.9,276.4 569.8,278.1 568.4,276.7 568.8,275.2 569.8,275.1 570.5,272.9 569.1,272.4 567.1,272.5 564.9,272.1 564.3,270.3 563.2,270.2 561.2,269 560.8,270.8 562.6,272.2 561.4,273.2 561.1,274.1 562.6,274.8 562.4,276.4 563.5,278.4 564.1,280.5 564.5,283.3 562.4,285 560.4,286.7 558.4,288.5 555.9,291.4 553.4,294.4 550.8,297.3 548.3,300.2 548.2,303.3 548.2,306.4 548.1,309.4 548,312.5 545.9,315.9 543.7,317.9 541.5,319.8 538.7,317.2 535.9,314.6 533.1,312 531.9,308.6 530.7,305.3 529.5,301.9 528.2,298.6 526.9,295.2 525.6,291.8 524.3,288.5 521,285.4 517.6,282.4 514.3,279.3Z" fill="#2c7fb8"/><path d="M564.1,280.5 563.5,278.4 562.4,276.4 562.6,274.8 561.1,274.1 561.4,273.2 562.6,272.2 560.8,270.8 561.2,269 563.2,270.2 564.3,270.3 564.9,272.1 567.1,272.5 569.1,272.4 570.5,272.9 569.8,275.1 568.8,275.2 568.4,276.7 569.8,278.1 569.9,276.4 570.6,276.4 571.5,278.5 572.4,280.5 572.6,282.4 571.7,282 572.2,284.1 571.6,285.9 569.2,285 566.8,284.1 564.5,283.3Z" fill="#c7e9b4"/><path d="M589.5,312.2 590.4,309.5 591.4,307.1 590.3,304.7 590.2,303.4 589.8,302 588.1,299.9 587.4,298.6 588.1,298.1 588.6,295.8 587.5,294.1 585.8,292.2 584.4,289.9 585.3,289.5 585.9,286.6 587.5,286.5 588.6,285.4 589.8,284.8 590.9,285.6 591.3,287.2 592.9,287.3 592.7,290 593.1,292.4 595.3,290.8 596,291.3 597.3,291.2 597.7,290.3 599.4,290.5 601.5,292.6 602,295.2 604.1,297.4 604.3,299.7 603.7,300.8 601.5,300.4 598.6,300.9 597.4,303.1 598.2,306.3 595.8,306.8 593.6,308.1 593.5,310.7 593.3,313.3 595,315.9 596.6,318.5 599,320.3 598.3,321.9 597.6,322.9 596.1,323.2 595.9,321.9 593.9,320.8 593.5,321.2 591.7,321.6 589.9,320.1 588.1,318.5 588.1,315.9 588,313.3Z" fill="#7fcdbb"/><path d="M593.5,321.2 593.9,320.8 595.9,321.9 596.1,323.2 597.6,322.9 598.3,321.9 600.2,321.1 601.8,324.6 603.3,328.1 604.8,331.6 604.5,333.5 604.2,335.5 601.4,335.7 598.2,333.3 594.9,330.8 593.6,327.3 592.3,323.7Z" fill="#7fcdbb"/><path d="M593.6,279.5 594.7,278.8 596.5,278.8 598.7,278.5 600.3,277.1 601.6,278.1 603.8,278.6 603.7,280.1 604.9,281.1 607.3,281.8 608.8,284.6 607.3,285.9 605.8,287.2 606.8,289.8 607.8,292.4 610.8,295.7 613.9,298.9 614.4,302 614.9,305 615.4,308.1 613.2,310.9 611,313.6 608.7,316.4 605.8,316.2 602.9,315.9 602.7,313.7 602.4,311.5 602.6,310.7 604.5,309.7 606.9,309.5 605.8,307.9 607.6,306.9 609.4,305.9 609.4,302.7 608.6,301 608.7,298.4 607.9,296.6 606,294.8 604.2,292.4 601.8,289.3 598.9,287.8 599.4,286.9 600.7,286.2 599.5,283.9 596.7,283.9 595.3,281.5 593.6,279.5Z" fill="#c7e9b4"/><path d="M413.9,194 415,193.6 416.9,192.7" fill="none"/><path d="M402.5,221.1 403.2,221.1 402.8,222.3 403.9,223.3 403.7,224.5 403.3,224.6 402.9,224.8 402.3,225.4 402.1,226.8" fill="none"/><path d="M403.9,228.8 403.7,228 404.5,226.7 404.7,227.2 405.3,227" fill="none"/><path d="M406.8,228.9 406.8,228.4 408,228 408.5,227.9 409.2,227.7 410.2,227.7 411.3,228.5 411.6,230.2 411.2,230.3 410.9,230.8 409.8,230.7 409,231.3 407.7,231.5" fill="none"/><path d="M441.5,247.7 442.6,247.8 443,248.8 442,249.8 441.6,251.2" fill="none"/><path d="M481.2,288.5 482.2,290.6 483.3,292.8 484.2,294.6" fill="none"/><path d="M454.4,240.9 453.5,242.5 452.4,243.2 452.9,245.1 452.6,248.2 450.3,249.6 448.1,250.9" fill="none"/><path d="M448.1,250.9 446.1,252.3 444.1,253.7 441.5,252.7" fill="none"/><path d="M460.7,295.4 461.6,294.6 461.3,293.5 461.9,292.2 462.8,292.9 463.4,292.6 466.1,292.6 466.5,292.8 468.7,293.1 469.6,293 470.2,293.8 471.2,293.4 472.7,290.7 474.7,289.5 478,289 481.2,288.5" fill="none"/><path d="M481.2,288.5 483.4,287.6 485.6,286.7 487.8,285.9 488.3,283.3 488.8,280.7" fill="none"/><path d="M489.8,273 488.6,273 488.6,274.7 489,275.1 488.1,275.6 488.2,276.7 487.6,277.8 487.6,278.8" fill="none"/><path d="M489.2,271 488.7,270.1" fill="none"/><path d="M441.6,251.2 441.8,252.3 441.5,252.7" fill="none"/><path d="M539.7,209.8 541,211.6 543.3,212.9 546.7,213.9 549,215.9 549.6,218.9 550.9,220 553.5,220.5 556.4,220.8 559.7,222.5 561.1,222.7 563.1,225.1 565,226.6 567.3,226.6 569.6,226.9 571.9,227.2 574.5,226.8 576.8,227.2 580.6,228.7 583.1,228.7 584.4,229.5 586.3,228.2 587.7,227.7 589.2,227.3 590.8,227.2 592.3,227.2 594.3,226.3 595.1,224.9 596.1,224 595.3,223.2 594.1,222.2 594.3,220.5 595.6,220.8 598,221.3 599.3,219.9 600.6,219.4 601.9,218.9 602.4,217.2 603.4,216.5 606.2,216.2 608,216.5 607.6,215.5 604.7,213.8 602.6,212.9 601.6,213.9 599.4,213.5 598.4,213.8 597.3,212.8 597.1,210.2 596.9,208.3" fill="none"/><path d="M531.7,227.6 531.6,228.2 530.2,228.9 528.8,229.6 528.4,230.6 525.7,230.9 525.5,232.6 523.1,232.2 521.8,232.7 520.2,234 520.7,234.6 520.2,235.2" fill="none"/><path d="M520.2,235.2 521.5,237.6 522.1,237.3 523.6,237.9 523.8,238.9 524.5,240.4" fill="none"/><path d="M524.5,240.4 525.1,241.2 524,241.4" fill="none"/><path d="M481.3,230.3 480.5,227.1 479.7,224 478.8,220.8 481.2,220 483.7,219.3 486.7,220.8 489.8,222.3 492.5,224.6 494.9,224.3 496.6,224.2 498.4,224.1 501.4,225.9 502.1,228.5 503.1,228.5 504.1,230.7 506.9,230.7 507.8,232 508.6,232 508.9,230.1 511.2,228.3 512.2,227.8" fill="none"/><path d="M512.2,227.8 512.3,226.7 513.6,226.3 515.5,226.8 517.3,227.2 517.2,225.7 518.1,225.2 521.5,226.2 522.2,226 523.9,226 525.7,226 528.8,226.3 530.2,227.2 531.7,227.6" fill="none"/><path d="M473.7,229.1 474.5,228.2 476.7,227.7 478.3,228.4 480.3,230.4 481.3,230.3" fill="none"/><path d="M495.9,245 495.2,242.8 493.6,242.7 490.6,240.4 488.9,240.1 486.2,238.8 484.6,238.6 483.8,239 482.3,239 481.1,240.5 479.3,241" fill="none"/><path d="M495.9,245 495.7,248.3 495.5,250.2 496.5,250.5 495.9,252 497,254.1 497.4,255.7 499.2,256.2 499.6,257.8 498,260.2" fill="none"/><path d="M498,260.2 499.4,261.6 500.5,263.2 502.8,264.3 503.2,266.6 504.3,267 504.7,268.2 501.6,269.6 501.2,272.6" fill="none"/><path d="M542.7,259.3 541.5,260.5 541.2,262.9 543.5,263.9 545.9,265.2 549,266.7 552.2,267 553.7,268.3 555.5,268.6 558.3,269.2 560.1,269.1 560.2,268.1 559.6,266.4 559.5,265.3" fill="none"/><path d="M542.7,259.3 543.5,258.7 545.4,259.4 548,261.2 549.3,261.5 550.3,262.8 552.2,263.3 554.2,264.5 556.9,265.1 559.5,265.3" fill="none"/><path d="M561.4,266.8 561.5,267.3 563.7,268.3 565.1,267.9 567,268.1 568.8,268 568.6,266.4 567.6,265.6" fill="none"/><path d="M561.4,266.8 562.4,264.9 563.5,264.2 565.2,264.8 566.4,264.9 567.6,265.6" fill="none"/><path d="M589.8,284.8 590.2,283.8 591.8,282.1" fill="none"/><path d="M579.8,264.3 581,264.1 582.2,265.6 583.3,266.3 583.8,268.3 584.1,270.4 582.4,272.6 582.7,275.7 585,275.3 586,277.7 587.5,278.2 587.2,280.3 589,281.3 590,281.8 591.6,281" fill="none"/><path d="M591.6,281 591.8,282.1 592.1,282.7 593.3,282.8 592.5,279.8 593.6,279.5" fill="none"/><path d="M593.6,279.5 595.3,281.5 596.7,283.9 599.5,283.9 600.7,286.2 599.4,286.9 598.9,287.8 601.8,289.3 604.2,292.4 606,294.8 607.9,296.6 608.7,298.4 608.6,301" fill="none"/><path d="M608.6,301 606.5,300.1 605.7,301.9 603.7,300.8" fill="none"/><path d="M608.6,301 609.4,302.7 609.4,305.9 607.6,306.9 605.8,307.9 606.9,309.5 604.5,309.7 602.6,310.7" fill="none"/><path d="M603.7,300.8 601.5,300.4 598.6,300.9 597.4,303.1 598.2,306.3" fill="none"/><path d="M572.4,280.5 572.6,282.4 571.7,282 572.2,284.1" fill="none"/><path d="M572.4,280.5 573.4,279.9 573,278.8 573.4,277.9 573,275.2 574.9,275.8 575.5,273.7 575.4,272.4 576.2,270.2 575.8,268.7 578.4,266.9 580.1,267.4 579.5,265.8 580.2,265.3 579.8,264.3" fill="none"/><path d="M458.5,234.4 457.6,233.7 455.9,233 455.8,231.8 455.3,230.9 453,229.6 450.8,229.7" fill="none"/><path d="M440.1,251.7 440.9,251.7" fill="none"/><path d="M455.3,230.9 458.1,230.5 458.6,230 460.3,230.8 461.5,230.9 461.7,230.6 460.4,229.2 460.8,228.9" fill="none"/><path d="M458.1,230.5 458.7,231.1 459.6,231.6 459.3,232.2 460.6,233.1 460.2,234 461.2,234.7 462.2,235.1 462.6,236.9" fill="none"/><path d="M458.5,234.4 459,234.4 459.7,235.1 460.7,235.1 460.7,235.5 461.9,237" fill="none"/><path d="M481.3,230.3 483.7,230.3 483,229 484.6,228.1 486,226.6 489.2,227.9 489.9,230 490.9,230.5 493.2,230.4 494,230.9 495.7,233.6 498.6,235.4 500.3,236.6 502.9,237.9 506,239 506.4,240.6" fill="none"/><path d="M506.4,240.6 507.6,240.6 509.3,241.1" fill="none"/><path d="M509.3,241.1 510.1,241.4 509.8,238.5 508.9,236.6 507.1,235.9 507.4,234.8 509.2,234.9 509.8,233.5 510,231.8 512.7,231.2 512.6,232.4 513.1,233.1 513.9,233.1" fill="none"/><path d="M513.9,233.1 515.6,233.3 517.8,231.4 514.9,230.1 513.6,230.7 511.7,229.8 512.9,228.1 512.2,227.8" fill="none"/><path d="M513.9,233.1 513.4,233.8 511,233.4 511.2,234.9 513.4,234.7 516.3,235.6 518.3,235.4 520.2,235.2" fill="none"/><path d="M510.1,241.4 511.4,240.6 512.3,241.1 512.6,239.9 514,240 514.2,239.6 514.1,238.5 516.1,238.2 516.1,239 516.8,239.1 517.2,241.3 518.2,242.2 518.8,241.6 519.8,241.4 520.8,240.2 522.3,240.4 524.5,240.4" fill="none"/><path d="M506.4,240.6 505.7,240.5 504.5,239.8 504.4,240.7 502.7,241.2 502.8,243.3 501.7,244.1 500.1,244.5 499.9,245.7 498.3,246 495.9,245" fill="none"/><path d="M498,260.2 500,260.9 502,261.5 504.1,261.1 505.5,261.5 505.9,260.9 507.4,261.1 510.1,260 509.8,257.8 510.8,256.4 512.4,256.4 512.5,255.6 514.1,255.3 515,255.5 515.7,254.8 515.2,253.2 515.8,251.6 517.1,251 515.8,249.3 517.9,249.3 518.3,248.4 518,247.4 518.8,246.3 518.2,245 517.4,243.9 518.4,242.8 520.6,242.2 523,241.9 524,241.4" fill="none"/></g><path d="M459.9,221.8 461.4,219.1 463.2,218.7 463.8,217.2 465.6,216.7 467.7,215.5 469.6,216.2 471.6,216 472.4,217.6 472.6,220.1 470.7,219.7 469.1,220.1 469.5,222 467.4,221.8 467.7,222.6 469,223.3 470.5,225.6 473.1,226.5 473.7,227.4 473.5,228.4 473.7,229.1 474.8,230.7 474.6,228.9 476.1,228.2 477.1,229.7 479,231.2 477.3,232.1 475.2,231.4 475.2,233.6 476.6,233.7 476.4,235.5 478.3,236.4 478.6,239.1 479.3,241 479.2,241.6 477.6,241.9 476,242.3 472.8,241.8 471.1,240.5 469,240 467.9,238.1 467.6,236.8 468.3,236.2 468.5,235.3 468.4,233.2 470.1,233 469.3,232.3 468.3,232.2 466.9,230.4 465.5,229 462.5,226 462.3,224.2Z" fill="#fff"/><path d="M438.8,256.6 439.3,255.7 439.6,254.4 439.8,252.4 440.1,251.7 440.7,249.6 441.5,247.7 441.1,245.6 441.5,244.6 440.6,243.4 441.3,242.4 440,242.6 438.1,242 436.8,243.5 435.2,243.7 433.5,243.8 431.6,242.4 429.3,242.3 428.9,243.4 427.4,243.7 425.2,242.3 422.9,242.4 421.3,239.8 419.6,238.3 420.4,236.3 419,235.1 421,232.6 422.7,232.6 424.3,232.5 424.9,230.5 427,230.7 429,230.9 431.3,229.2 433.7,228.5 435.4,228.4 437.1,228.4 439.1,229.3 441.1,230.2 444.3,231.2 446.7,230.8 448.5,231.1 450.8,229.7 450.9,228.6 450,226.8 448.7,225.9 447.4,225.6 446.6,224.8 443.5,222.6 440.9,221.7 438.9,220.2 440.3,219.8 441.6,217.6 440.3,216.6 443.1,215.6 442.9,215 441.2,215.4 439.6,215.6 438.4,216.4 436.5,216.6 434.9,217.5 435.3,219.1 436.4,219.7 438.5,219.6 438.2,220.5 436,220.9 433.5,222.4 432.3,221.9 432.5,220.7 430.1,219.9 430.4,219.4 432.3,218.6 431.6,218 429.9,217.7 428.3,217.4 428,216.4 426.1,216.7 425.6,218.1 424.3,220 424.4,220.7 423.5,221.2 422.8,221 422.7,224.1 421.7,225.2 421.2,227 422.1,228.5 422.4,229.5 424.4,230.3 424.1,231 421.6,231.1 420.8,231.9 419.2,233.3 418.4,232.1 418.3,231.6 417,231.5 415.9,231.2 413.4,231.9 415,233.4 414,233.8 412.8,233.8 411.5,232.4 411.2,233 411.8,234.6 413,235.8 412.2,236.4 413.6,237.6 414.7,238.3 414.8,239.8 412.8,239.1 413.6,240.4 412.2,240.7 413.2,243 411.8,243 409.9,241.9 409,239.8 408.4,238.1 407.5,236.9 406.3,235.4 406.1,234.7 405.7,234.5 405.6,233.9 404.4,233 404.1,231.8 404.1,230 404.3,229.2 403.9,228.8 403.5,228.6 402.8,227.8 401.9,227.3 399.8,226.3 398.5,225.4 396.6,224.6 394.7,222.7 395.1,222.5 394.1,221.5 394,220.6 392.6,220.2 392,221.3 391.4,220.4 391.4,219.6 391.9,219.3 390.2,218.9 388.6,219.8 388.8,221.1 388.6,221.8 389.3,223.1 391.4,224.4 392.6,226.6 395,228.6 396.7,228.6 397.2,229.2 396.7,229.7 398.6,230.6 400.2,231.4 402.2,232.8 402.4,233.3 402.1,234.2 400.8,233 399,232.6 398.2,234.2 399.8,235.2 399.6,236.6 398.7,236.7 397.7,238.9 396.8,239.1 396.8,238.3 397.2,236.9 397.6,236.4 396.7,234.9 395.9,233.6 395,233.3 394.3,232.1 392.9,231.6 392,230.6 390.4,230.5 388.7,229.3 386.7,227.6 385.2,226.1 384.4,223.6 383.3,223.3 381.6,222.4 380.7,222.8 379.5,223.9 378.7,224.2 376.8,225.6 374.8,225.3 372.7,224.9 369.7,225.7 369.4,227.3 369.6,228.8 367.6,230.5 364.9,231.1 364.7,231.9 363.4,233.4 362.6,235.5 363.4,237 362.2,238.1 361.7,239.8 360.1,240.3 358.5,242.4 355.8,242.4 353.7,242.3 352.4,243.3 351.5,244.2 350.5,244 349.7,243.1 349.1,241.7 347.1,241.2 346.2,241.9 345.1,241.5 344,241.8 344.4,239.8 344.2,238.2 343.3,238 342.8,237 343,235.3 343.9,234.3 344.1,233.3 344.6,231.7 344.6,230.6 344.2,229.7 344.2,228.8 344.3,227 343.5,225.9 346.5,224 349.1,224.5 351.9,224.5 354.1,224.9 355.8,224.7 357.5,224.8 359.2,224.9 360.3,223.3 360.5,220.7 360.7,218.2 358.6,215.5 357.1,214.2 355.6,213.7 354.1,213.2 353.9,211.4 356.5,210.8 358.2,211.2 359.9,211.5 359.3,208.6 361.2,209.7 363.5,208.7 365.9,207.7 366.4,205.7 368.2,205.1 369.7,204.6 370.7,204 372.4,200.3 375,199.2 376.6,199.3 377,198.8 378.6,198.7 379,199.2 380.3,198 379.8,197 379.6,195.7 378.7,194.3 378.5,191.8 378.8,191.1 379.3,190.4 381,190.2 381.6,189.6 383.1,188.9 383.1,190.1 382.6,190.9 382.9,191.6 383.9,192 383.5,192.9 382.9,192.6 381.7,194.4 382.3,195.6 382.4,196.5 384.4,197.1 384.4,198 386.4,197.5 387.4,196.9 389.7,197.8 390.6,198.6 391.9,197.9 393.4,197.3 394.8,196.8 397.1,195.9 399.1,196.3 399.4,196.9 401.2,197 401.5,195.9 404.1,195.1 403.4,193 403.2,191.2 403.9,189.7 405.5,188.8 407.3,190.6 408.8,190.6 408.9,188.7 408.9,187.3 408.2,187.6 406.9,186.7 406.5,185.3 408.7,184.7 411,184.3 413.1,184.7 415,184.7 416.8,183.3 414.6,182.2 413,182.3 411.4,182.4 409.8,182.8 408.3,183.3 406.8,183.5 405.4,183.8 404.1,182.5 402.2,181.7 402.2,179.3 401,177.2 401.6,175.9 403,174.4 404.8,173.2 406.6,171.9 407.6,171.4 407.2,170.5 404.6,169.4 403.2,169.7 401.7,170 400.3,171.6 400.9,173 399.6,174 398.3,174.9 396.8,175.9 395.2,176.9 394.3,180.2 395.8,181.9 397.8,183.2 396.4,185.9 394.5,186.5 394.4,188.5 394.3,190.6 393.5,192.9 391.1,192.6 390.2,194.5 388,194.7 387.2,192.3 385.4,189.6 383.7,186.1 382.4,184.7 380.6,186.1 378.9,187.5 376.4,188 373.8,186.8 373,184.2 372.6,181.5 372.2,178.7 373.8,177.2 376.1,176.2 378.4,175.3 380.1,174.1 381.7,172.9 383.2,171.3 384.6,169.7 386.5,167.5 388.3,165.3 389.6,164.5 390.9,163.6 393,162.3 395,160.9 396.8,160.4 398.5,159.9 399.9,160 401.2,160 402.3,159.1 403.4,158.2 404.9,158.3 406.4,158.3 407.8,158.1 409.2,157.9 411,158.4 412.9,159 414.8,159.5 412.8,160.1 415,161.4 416.5,160.7 418,161.3 419.6,162 422,162.3 424.4,162.5 426.7,163.4 429.1,164.2 431.6,165 433.2,166.1 433.9,167.6 432.4,168.8 431,169.1 429.7,169.4 427,168.8 424.2,168.2 421.5,167.7 420.3,168 421.9,168.8 423.6,169.6 424,170.7 424.8,173 427.3,173.7 428.8,174.3 428.7,173.2 427.4,172.2 428.2,171.4 430.6,172.1 432.9,172.8 434.2,172.2 432.5,170.5 434.1,169.4 435.8,168.3 437.4,168.4 439.3,169.2 439.7,167.7 437.8,166.3 438.2,165 436.4,163.6 438.9,164 441.4,164.3 442.9,165.6 440.8,165.8 441.3,167.1 442.9,167.9 444.2,167.6 445.4,167.4 445.3,166 446.8,165.4 448.4,164.9 450.1,164.3 451.7,163.6 453.4,163 454.7,163.1 453.7,164.4 455.9,164.7 456.7,163.9 458.3,163.9 459.9,163.8 461.9,162.9 464.5,164.3 465.7,162.8 463.2,161.5 463.7,160.8 466.3,161.1 469,161.5 471.7,162.2 474.2,163 476.7,163.8 479.3,164.7 479.7,163.5 477.3,162.4 477,161.9 474.8,161.7 474.7,160.6 472.8,158.9 472.3,158.2 473.2,157.3 474.1,156.3 473.8,154.4 474.7,154 477,154.3 479.4,154.5 480.5,155.7 480.2,157.4 481.7,158.1 483.3,159.6 484.8,162.6 487.5,164 487.8,165.5 487.1,167.1 486.3,168.7 488.5,169 488.7,168.2 490.2,167.6 490,166.5 490.8,165.4 489,164.2 488.9,162.7 486.9,162.5 485.7,161.3 485.6,159.1 482.2,157.3 483.1,156.6 484.1,155.9 482.6,154.4 483.4,154.4 485.1,155.5 485.9,157.6 488,158 486.1,156.4 487.1,156 488.2,155.6 489.8,155.5 491.4,155.5 493.4,156.1 495.4,156.7 492.5,154.9 490.5,152.7 491.7,152.5 492.9,152.3 494.9,152.3 496.8,152.4 498.4,152.2 500,152.1 497.7,151 498.3,149.7 500,149.6 501,149.1 502,148.6 503.9,148.5 505.8,148.4 505.7,147.8 507.6,147.7 509.5,147.6 511.3,148.1 512.4,147.6 513.5,147 514.9,147 516.3,147.1 515.7,146.2 516.1,145.4 517.4,145 518.7,144.6 520.4,144.9 522.1,145.2 520.6,145.7 522.5,145.9 524.4,146 526.1,147 526.8,146.5 529.1,146.5 531.3,146.5 533.6,147 536,147.5 538.2,148.2 539.2,149.3 538.2,149.9 536.9,150.4 535.5,151 535,151.6 537.3,151.9 540.2,152.4 541.2,152 543.5,153.4 543.6,152.8 544.7,152.7 545.8,152.5 547.6,152.6 549.4,152.7 551.2,152.8 552.8,153.8 555.2,153.9 557.5,154 559.9,154.1 557.9,152.5 559.9,152.7 561.8,152.9 563,152.9 564.3,152.9 566.3,153.4 568.3,154 570.7,155.3 570.9,156.2 575.1,157.9 576.9,158.3 578.7,158.8 577.4,156.5 579.4,157 581.3,157.5 582.3,157.2 583.3,156.9 585.3,157.2 587.3,157.6 587.7,157 589.3,157.1 590.8,157.3 586.9,155.3 587.8,154.4 590.1,154.6 592.5,154.8 594.8,155 597.2,155.2 599.5,155.4 601.9,155.6 604.3,155.7 607.5,157 610.8,157.8 614.1,158.7 616.2,158.5 618.2,158.4 620.2,158.2 622,158.4 623.9,158.6 626.7,159.5 628.8,161.1 631.7,161.7 633.3,161.3 634.7,161.2 636.1,161.2 638,161.4 639.9,161.6 641.3,161.5 642.7,161.4 645.6,162.4 648.6,163.4 649.6,162.6 646.1,161.2 645.4,160.3 647.4,160.5 649.5,160.7 651.6,160.9 653.2,160.8 654.8,160.7 658.1,161.3 661.3,161.8 665.2,162.8 669.7,165.7 674.2,168.7 678.7,171.7 677.9,172.8 675.3,172.6 678.7,173.8 682.4,175.7 684.1,176.4 685.7,177.3 686.1,178 684,177.7 682,177.4 680.7,178.3 679.3,179.2 678.1,179.5 677.8,180.3 677.4,181.1 676.6,182.6 677.3,183.7 672.6,182 671.4,183 670.1,183.9 668.2,183 667.7,184.1 664.8,183.7 666.1,185.3 666.6,187.6 667.7,188.6 670.5,189.1 674.2,192.7 672.5,192.8 673.9,194.8 675.8,195.9 674.8,196.5 673.8,197.2 675.9,200 673.6,200.6 675.5,203.2 674.8,205.5 672.5,203.8 668.2,200.1 664.9,197.4 661.6,194.6 659,191.2 659,189.8 657.9,188.6 659,188.4 660.2,188.1 660.2,186.6 660.1,185.1 660.3,183.8 660.4,182.6 660.9,181.6 661.4,180.7 658.7,177.4 656.8,177.6 658.1,179.5 657.4,180.8 656.6,182.1 651.7,179.2 649.8,179.6 647.9,180 647.9,182 647.9,184 651.1,185.5 649.4,185.8 647.6,186.1 646.3,186.2 645,186.3 643.3,184.6 641.6,184.4 640,184.2 639,185.4 636.9,185.3 634.9,185.1 632.9,185 631.1,185.2 629.3,185.5 627.5,185.7 627.1,187.3 626.6,188.9 626.1,190.4 625.4,192.4 624.8,194.3 624,196.2 625.7,196.4 627.3,196.5 629.6,198.1 632,198.6 632.2,197.4 634.4,197.6 639.7,200.3 641.6,202.4 642.1,204.9 644.4,207.9 645.4,209.9 646.5,212 646.3,213.8 646.1,215.7 646.6,217.4 645.8,220.4 645,223.4 644.6,224.9 642.8,226.4 641.5,226.4 639.4,225.2 637.8,227.1 637.9,227.9 637,227.8 636.7,228.7 636.5,229.5 637.7,231.4 636.9,232 636.7,232.4 636.3,233.2 635.2,233.6 634.6,234.3 635.1,235.5 635,235.7 636.1,236.2 637.9,237.3 641.2,240.4 642.6,242.1 644,245.1 643.8,246.5 642,247 640.8,248.1 638.9,248.3 638,246.9 637.6,244.9 635.4,242.2 636.8,241.8 634.3,239.5 633,239 633,239.5 632.5,239.8 632.1,239.3 631.5,239 630.7,238.6 630.7,237.5 631.1,237.1 630.7,236.7 630.5,235.3 630.2,234.9 628.8,234.6 627.4,233.9 624.8,234.6 623.9,235.8 621.9,236.6 622.5,235.4 621.5,234.3 622.3,232.6 620.5,231.2 619.1,232.2 617.6,234 617.1,235.6 615.1,235.8 614.6,237 616.5,238.7 618.4,239.2 619,240.3 621.1,241.1 622.6,239.2 625,240.2 626.5,240.3 627.4,241.7 624.7,242.4 624.3,243.8 622.7,245.1 622.4,246.9 625.3,248.4 627.1,250.9 629.4,253.3 631.6,255.3 632.2,257.3 631.1,258 632.1,259.4 633.7,260.2 634,262.3 634,264.4 632.9,264.6 632,267.5 631.1,270.9 629.7,274 627.1,276.4 624.4,278.6 621.9,278.9 620.8,280.1 619.8,279.2 618.8,280.5 615.9,281.8 613.6,282.2 613.2,285 612,285.1 611.1,283.2 611.4,282.2 608.3,281.4 607.3,281.8 604.7,284 603.2,286.5 603,288.3 605.1,291.1 607.7,294.5 610,296.1 611.7,298.2 612.5,300.6 613.3,303 613.4,305.3 613.5,307.6 611.8,309.3 609.3,311 607.6,313.2 604.9,315.6 603.9,314 604.5,312.2 602.6,310.7 600.7,310.3 599.6,309 598.2,306.3 596,305.1 594.1,305.1 594.2,303.1 592.2,303.1 592.3,306 591.4,309.8 590.8,312.1 591.1,314 592.6,314.1 593.7,316.4 594.3,318.7 595.6,320.2 597,320.5 598.3,321.9 598.8,322.1 600.3,323.7 601.3,325.4 601.5,327.2 601.3,328.4 601.6,329.3 601.8,330.8 602.6,331.5 603.6,333.8 603.6,334.7 601.9,334.9 599.7,333 596.9,330.9 596.6,329.6 595.2,327.8 594.8,325.6 593.9,324.2 594.1,322.3 593.5,321.2 592.6,320.2 592.1,318.9 590.8,317.4 589.6,316.2 589.3,317.8 588.8,316.3 589,314.7 589.5,312.2 589.1,310.2 589.6,308.2 588.7,306.7 588.6,303.8 587.6,302.5 586.5,299.3 585.7,296.1 584.4,293.9 583.1,295.2 580.7,297.1 579.4,296.8 577.9,296.2 578.3,293 577.5,290.5 575.3,287.5 575.5,286.6 574.1,286.2 572.2,284.1 571.3,282.8 571,281.4 570.4,280.2 569.3,278.6 567.2,278.5 567.5,279.6 567,281.1 566,280.5 565.7,281 565,280.7 564.1,280.5 564,281.5 562.4,281.4 559.7,282 560.1,283.9 559.1,285.5 556.1,287.2 553.9,290.3 552.4,292 550.3,293.7 550.4,294.9 549.4,295.5 547.4,296.5 546.4,296.6 545.9,298.6 546.6,302 547,304.1 546.2,306.6 546.3,308.8 546.5,311 545.3,311.2 544.4,313.2 545.1,314 543.1,314.8 542.4,316.6 541.5,317.3 539.2,314.9 537.9,311.2 536.9,308.6 536,307.3 534.6,304.8 533.8,301.6 533.2,299.9 530.9,296.3 530.1,293.8 529.4,291.3 528.4,287.9 528,284.8 527.3,282.3 524.2,283.9 522.6,283.6 519.3,280.4 520.2,279.5 519.5,278.5 516.6,276.2 514.9,275.6 514,273.7 512,271.7 509.9,271.9 507.9,272.2 506.1,272.2 504.3,272.2 501.2,272.6 499,272.2 496.9,271.8 494.3,271.2 491.8,270.9 490.4,267.7 489.3,267.2 487.6,267.7 485.5,269 482.7,268.1 480.2,266.1 478,265.3 476.2,262.9 474.1,259.4 473,259.8 471.4,258.9 470.7,259.9 469.4,259.8 470,261 469.9,261.6 470.9,263.5 472,265.8 473.1,266.4 473.6,267.3 475.3,268.4 475.5,269.5 475.4,270.4 475.8,271.2 476.5,272 476.9,272.8 477.3,273.5 476.9,271.6 477.4,270.2 478,269.9 478.7,270.7 478.9,272.2 478.6,273.8 479.1,274.8 479.5,274.7 479.6,275.4 481.4,275 483.2,275 484.6,275.1 486,273.3 487.5,271.7 488.7,270.1 489.2,269.2 489.6,269.4 489.5,270.5 489.2,271 489.8,273 491,274.8 492.3,275.7 494,276.1 495.4,276.6 496.5,278.1 497.2,278.9 498.1,279.3 498.1,279.8 497.4,281.4 497.1,282.1 496.3,283 495.6,284.8 494.5,284.6 494.1,285.2 493.9,286.6 494.3,288.3 494.1,288.6 493.1,288.6 491.7,289.6 491.6,290.9 491.1,291.4 489.7,291.4 488.9,292.1 489,293.1 487.9,293.8 486.7,293.6 485.2,294.5 484.2,294.6 482.6,295.3 482.2,296.5 482.2,297.4 480,298.5 478.2,299.1 476.4,299.7 474.5,301.5 473.5,301.7 472.8,301.5 471.5,302.6 470.1,303.1 468.2,303.2 467.6,303.4 467.1,304.1 466.5,304.3 466.2,304.9 465,304.9 464.4,305.2 462.7,305.1 462.1,303.6 462.1,302.1 461.7,301.4 461.1,299.5 460.4,298.4 460.9,298.3 460.6,297.1 460.8,296.6 460.7,295.4 460.3,294.3 459.6,293.5 459.3,292.5 458.1,291.5 456.8,289.3 456,287.2 454.3,285.4 453.3,285 451.6,282.5 451.3,280.7 451.3,279.1 449.8,276.2 448.7,275.2 447.4,274.7 446.6,273.2 446.7,272.6 445.9,271.3 445.2,270.7 444.2,268.7 442.7,266.6 441.4,264.8 440.3,264.8 440.5,263.4 440.5,262.5 440.7,261.4 440.6,261.1 439.7,258.8Z M459.9,221.8 461.4,219.1 463.2,218.7 463.8,217.2 465.6,216.7 467.7,215.5 469.6,216.2 471.6,216 472.4,217.6 472.6,220.1 470.7,219.7 469.1,220.1 469.5,222 467.4,221.8 467.7,222.6 469,223.3 470.5,225.6 473.1,226.5 473.7,227.4 473.5,228.4 473.7,229.1 474.8,230.7 474.6,228.9 476.1,228.2 477.1,229.7 479,231.2 477.3,232.1 475.2,231.4 475.2,233.6 476.6,233.7 476.4,235.5 478.3,236.4 478.6,239.1 479.3,241 479.2,241.6 477.6,241.9 476,242.3 472.8,241.8 471.1,240.5 469,240 467.9,238.1 467.6,236.8 468.3,236.2 468.5,235.3 468.4,233.2 470.1,233 469.3,232.3 468.3,232.2 466.9,230.4 465.5,229 462.5,226 462.3,224.2Z" fill="none" stroke="#7c7c7c" stroke-width="0.5" stroke-linejoin="round"/><clipPath id="k4"><path d="M690.1,366 690.7,367.2 690.7,368.9 691.2,369.2 691.1,370.3 691.8,371.6 691.7,373.1 691.5,374 692,376.1 693.6,375.1 694.2,376.2 695.1,377.2 694.7,378.4 694.8,380.6 694.9,381.9 695.4,382.3 695.6,384.5 695.1,385.8 695.4,387.6 697.6,389 698.9,390.2 700.2,391.3 699.7,392 700.6,393.6 700.9,396.4 701.9,395.9 702.5,397 703.2,396.6 702.9,399.4 704.1,401 704.8,402 706,404.1 706,406.2 705.6,407.7 704.8,409.3 705.1,411.5 704.1,413.8 703.3,415 701.7,417.4 701.2,418.8 699.9,420.7 697.8,423.1 695.6,424.4 693.8,426.4 692.5,427.7 690.7,429.9 689.2,431.2 687.6,433.2 686.3,435 685.9,435.8 684.2,436.7 681.7,436.8 679.2,437.9 677.6,438.9 675.7,440 674.6,438.8 673.5,438.4 674.6,437 673.2,437.5 670.2,439.4 668.8,438.7 667.8,438.3 666.7,438.1 665,437.4 664.5,435.7 665.1,433.8 665.4,432.1 664.7,431.4 662.8,431.1 664.1,429.8 664.5,427.9 662.5,429.7 660.4,430.2 662.2,428.7 663.2,427.2 664.6,425.9 665.3,424 662.6,426.2 660.8,427.1 659,429.2 657.8,428.1 658.5,426.8 657.9,424.8 657.2,423.9 657.9,423.3 655.7,421.7 654.2,421.6 652.5,420.4 650.5,420.5 648.5,420.6 645.3,421.5 642.5,422.4 640.4,422.2 637.6,423.6 635.5,424.2 634.5,425.5 633.3,426.6 631.4,426.6 629.9,426.9 628.2,426.4 626.5,426.7 624.9,426.8 623.1,428.2 622.5,428.1 621.1,428.8 619.7,429.7 618.2,429.6 616.7,429.6 615.1,427.9 614.1,427.4 614.7,425.9 615.9,425.6 616.5,425 616.8,424 617.7,422.2 618,420.6 617.7,418 617.8,416.5 618.3,415 617.9,413.3 618.1,412.6 617.4,411.5 617.7,409.5 616.9,407.4 616.9,406.3 617.6,407.4 617.4,405 618.3,405.8 618.7,406.8 619,405.4 618.4,403.4 618.4,402.5 618,401.8 618.5,400.3 619.1,399.6 619.6,398.3 619.7,396.8 621,394.9 620.8,396.9 622.1,395.1 624.1,394.2 625.4,393.1 627.3,392.2 628.3,391.9 628.9,392.3 630.9,391.3 632.3,391 632.7,390.4 633.4,390.2 634.6,390.3 637.1,389.5 638.6,388.3 639.4,387 641,385.6 641.3,384.6 641.6,383.1 643.5,381 644.1,383.2 645.2,382.7 644.6,381.4 645.5,380.2 646.4,380.7 647,378.8 648.4,377.5 649.1,376.4 650.3,376 650.5,375.3 651.4,375.6 651.5,374.9 652.6,374.5 653.8,374.2 655.3,375.4 656.3,376.9 657.8,377 659.2,377.2 658.9,375.8 660.3,373.7 661.4,373 661.1,372.3 662.3,370.8 663.8,369.9 665,370.2 667,369.7 667.1,368.4 665.5,367.5 666.8,367.2 668.2,367.8 669.3,368.9 671.1,369.5 671.8,369.3 673.1,370.1 674.6,369.3 675.4,369.6 676,369.1 676.9,370.3 676.1,371.8 675.1,372.8 674.3,372.9 674.4,373.9 673.5,375.2 672.5,376.5 672.6,377.3 674.2,378.7 675.8,379.5 676.8,380.5 678.2,382 678.8,382 679.9,382.6 680.1,383.5 682.1,384.3 683.8,383.5 684.5,382 685.1,380.9 685.7,379.5 686.7,377.4 686.6,376.1 686.9,375.4 686.9,373.9 687.5,371.9 688,371.4 687.7,370.5 688.5,369.1 689.1,367.7 689.2,366.9Z M671,444.6 672.5,445.5 673.9,445.1 675.8,444.6 677,444.8 675.1,447.8 673.8,448.7 672.2,450.8 671.9,450.1 669.3,451.9 668.9,451.8 667.7,451.7 667.9,449.5 668.8,447.8 669,445.5 669.8,444.3Z"/></clipPath><path d="M690.1,366 690.7,367.2 690.7,368.9 691.2,369.2 691.1,370.3 691.8,371.6 691.7,373.1 691.5,374 692,376.1 693.6,375.1 694.2,376.2 695.1,377.2 694.7,378.4 694.8,380.6 694.9,381.9 695.4,382.3 695.6,384.5 695.1,385.8 695.4,387.6 697.6,389 698.9,390.2 700.2,391.3 699.7,392 700.6,393.6 700.9,396.4 701.9,395.9 702.5,397 703.2,396.6 702.9,399.4 704.1,401 704.8,402 706,404.1 706,406.2 705.6,407.7 704.8,409.3 705.1,411.5 704.1,413.8 703.3,415 701.7,417.4 701.2,418.8 699.9,420.7 697.8,423.1 695.6,424.4 693.8,426.4 692.5,427.7 690.7,429.9 689.2,431.2 687.6,433.2 686.3,435 685.9,435.8 684.2,436.7 681.7,436.8 679.2,437.9 677.6,438.9 675.7,440 674.6,438.8 673.5,438.4 674.6,437 673.2,437.5 670.2,439.4 668.8,438.7 667.8,438.3 666.7,438.1 665,437.4 664.5,435.7 665.1,433.8 665.4,432.1 664.7,431.4 662.8,431.1 664.1,429.8 664.5,427.9 662.5,429.7 660.4,430.2 662.2,428.7 663.2,427.2 664.6,425.9 665.3,424 662.6,426.2 660.8,427.1 659,429.2 657.8,428.1 658.5,426.8 657.9,424.8 657.2,423.9 657.9,423.3 655.7,421.7 654.2,421.6 652.5,420.4 650.5,420.5 648.5,420.6 645.3,421.5 642.5,422.4 640.4,422.2 637.6,423.6 635.5,424.2 634.5,425.5 633.3,426.6 631.4,426.6 629.9,426.9 628.2,426.4 626.5,426.7 624.9,426.8 623.1,428.2 622.5,428.1 621.1,428.8 619.7,429.7 618.2,429.6 616.7,429.6 615.1,427.9 614.1,427.4 614.7,425.9 615.9,425.6 616.5,425 616.8,424 617.7,422.2 618,420.6 617.7,418 617.8,416.5 618.3,415 617.9,413.3 618.1,412.6 617.4,411.5 617.7,409.5 616.9,407.4 616.9,406.3 617.6,407.4 617.4,405 618.3,405.8 618.7,406.8 619,405.4 618.4,403.4 618.4,402.5 618,401.8 618.5,400.3 619.1,399.6 619.6,398.3 619.7,396.8 621,394.9 620.8,396.9 622.1,395.1 624.1,394.2 625.4,393.1 627.3,392.2 628.3,391.9 628.9,392.3 630.9,391.3 632.3,391 632.7,390.4 633.4,390.2 634.6,390.3 637.1,389.5 638.6,388.3 639.4,387 641,385.6 641.3,384.6 641.6,383.1 643.5,381 644.1,383.2 645.2,382.7 644.6,381.4 645.5,380.2 646.4,380.7 647,378.8 648.4,377.5 649.1,376.4 650.3,376 650.5,375.3 651.4,375.6 651.5,374.9 652.6,374.5 653.8,374.2 655.3,375.4 656.3,376.9 657.8,377 659.2,377.2 658.9,375.8 660.3,373.7 661.4,373 661.1,372.3 662.3,370.8 663.8,369.9 665,370.2 667,369.7 667.1,368.4 665.5,367.5 666.8,367.2 668.2,367.8 669.3,368.9 671.1,369.5 671.8,369.3 673.1,370.1 674.6,369.3 675.4,369.6 676,369.1 676.9,370.3 676.1,371.8 675.1,372.8 674.3,372.9 674.4,373.9 673.5,375.2 672.5,376.5 672.6,377.3 674.2,378.7 675.8,379.5 676.8,380.5 678.2,382 678.8,382 679.9,382.6 680.1,383.5 682.1,384.3 683.8,383.5 684.5,382 685.1,380.9 685.7,379.5 686.7,377.4 686.6,376.1 686.9,375.4 686.9,373.9 687.5,371.9 688,371.4 687.7,370.5 688.5,369.1 689.1,367.7 689.2,366.9Z M671,444.6 672.5,445.5 673.9,445.1 675.8,444.6 677,444.8 675.1,447.8 673.8,448.7 672.2,450.8 671.9,450.1 669.3,451.9 668.9,451.8 667.7,451.7 667.9,449.5 668.8,447.8 669,445.5 669.8,444.3Z" fill="#7fcdbb"/><g clip-path="url(#k4)" stroke="#6a6c6a" stroke-width="0.56" stroke-linejoin="round"></g><path d="M690.1,366 690.7,367.2 690.7,368.9 691.2,369.2 691.1,370.3 691.8,371.6 691.7,373.1 691.5,374 692,376.1 693.6,375.1 694.2,376.2 695.1,377.2 694.7,378.4 694.8,380.6 694.9,381.9 695.4,382.3 695.6,384.5 695.1,385.8 695.4,387.6 697.6,389 698.9,390.2 700.2,391.3 699.7,392 700.6,393.6 700.9,396.4 701.9,395.9 702.5,397 703.2,396.6 702.9,399.4 704.1,401 704.8,402 706,404.1 706,406.2 705.6,407.7 704.8,409.3 705.1,411.5 704.1,413.8 703.3,415 701.7,417.4 701.2,418.8 699.9,420.7 697.8,423.1 695.6,424.4 693.8,426.4 692.5,427.7 690.7,429.9 689.2,431.2 687.6,433.2 686.3,435 685.9,435.8 684.2,436.7 681.7,436.8 679.2,437.9 677.6,438.9 675.7,440 674.6,438.8 673.5,438.4 674.6,437 673.2,437.5 670.2,439.4 668.8,438.7 667.8,438.3 666.7,438.1 665,437.4 664.5,435.7 665.1,433.8 665.4,432.1 664.7,431.4 662.8,431.1 664.1,429.8 664.5,427.9 662.5,429.7 660.4,430.2 662.2,428.7 663.2,427.2 664.6,425.9 665.3,424 662.6,426.2 660.8,427.1 659,429.2 657.8,428.1 658.5,426.8 657.9,424.8 657.2,423.9 657.9,423.3 655.7,421.7 654.2,421.6 652.5,420.4 650.5,420.5 648.5,420.6 645.3,421.5 642.5,422.4 640.4,422.2 637.6,423.6 635.5,424.2 634.5,425.5 633.3,426.6 631.4,426.6 629.9,426.9 628.2,426.4 626.5,426.7 624.9,426.8 623.1,428.2 622.5,428.1 621.1,428.8 619.7,429.7 618.2,429.6 616.7,429.6 615.1,427.9 614.1,427.4 614.7,425.9 615.9,425.6 616.5,425 616.8,424 617.7,422.2 618,420.6 617.7,418 617.8,416.5 618.3,415 617.9,413.3 618.1,412.6 617.4,411.5 617.7,409.5 616.9,407.4 616.9,406.3 617.6,407.4 617.4,405 618.3,405.8 618.7,406.8 619,405.4 618.4,403.4 618.4,402.5 618,401.8 618.5,400.3 619.1,399.6 619.6,398.3 619.7,396.8 621,394.9 620.8,396.9 622.1,395.1 624.1,394.2 625.4,393.1 627.3,392.2 628.3,391.9 628.9,392.3 630.9,391.3 632.3,391 632.7,390.4 633.4,390.2 634.6,390.3 637.1,389.5 638.6,388.3 639.4,387 641,385.6 641.3,384.6 641.6,383.1 643.5,381 644.1,383.2 645.2,382.7 644.6,381.4 645.5,380.2 646.4,380.7 647,378.8 648.4,377.5 649.1,376.4 650.3,376 650.5,375.3 651.4,375.6 651.5,374.9 652.6,374.5 653.8,374.2 655.3,375.4 656.3,376.9 657.8,377 659.2,377.2 658.9,375.8 660.3,373.7 661.4,373 661.1,372.3 662.3,370.8 663.8,369.9 665,370.2 667,369.7 667.1,368.4 665.5,367.5 666.8,367.2 668.2,367.8 669.3,368.9 671.1,369.5 671.8,369.3 673.1,370.1 674.6,369.3 675.4,369.6 676,369.1 676.9,370.3 676.1,371.8 675.1,372.8 674.3,372.9 674.4,373.9 673.5,375.2 672.5,376.5 672.6,377.3 674.2,378.7 675.8,379.5 676.8,380.5 678.2,382 678.8,382 679.9,382.6 680.1,383.5 682.1,384.3 683.8,383.5 684.5,382 685.1,380.9 685.7,379.5 686.7,377.4 686.6,376.1 686.9,375.4 686.9,373.9 687.5,371.9 688,371.4 687.7,370.5 688.5,369.1 689.1,367.7 689.2,366.9Z M671,444.6 672.5,445.5 673.9,445.1 675.8,444.6 677,444.8 675.1,447.8 673.8,448.7 672.2,450.8 671.9,450.1 669.3,451.9 668.9,451.8 667.7,451.7 667.9,449.5 668.8,447.8 669,445.5 669.8,444.3Z" fill="none" stroke="#7c7c7c" stroke-width="0.5" stroke-linejoin="round"/><clipPath id="k5"><path d="M739.3,428.3 740.2,428.1 740.5,429.5 741.8,430.2 741,432.5 740.9,435.3 742,433.5 742.6,434.2 741.6,436.2 742.8,437 744.1,437.2 746,436.2 746.9,436.5 744.8,438.8 743,440.4 741.5,440.3 740.3,441.1 739.7,442.2 739.1,442.7 737.2,444.1 734.8,445.8 732.4,446.9 732.6,446.2 732,445.8 734.8,443.7 735.1,442.3 733.6,441.2 734.3,440.3 736.4,439.4 738.2,437.4 739.2,435.7 739.4,433.9 739.8,433.5 739.4,432.4 739.1,430.1 739.3,428.3Z M729.6,443.8 729.2,444.9 728.9,446 731.2,444.9 731,446 730.2,447.1 728.5,448.3 725.6,450.2 723.7,451.2 723.4,452.5 721.8,452.5 719.2,453.5 717.3,455.2 713.9,457.7 711.3,458.9 709.7,459.6 707.9,459.6 707.2,458.7 705.2,458.5 705.6,457.6 708.3,455.7 712.9,453.2 714.7,452.7 716.9,451.7 719.8,450.3 722.1,449 724.5,447.1 725.8,446.4 727.2,445 729.6,443.8Z"/></clipPath><path d="M739.3,428.3 740.2,428.1 740.5,429.5 741.8,430.2 741,432.5 740.9,435.3 742,433.5 742.6,434.2 741.6,436.2 742.8,437 744.1,437.2 746,436.2 746.9,436.5 744.8,438.8 743,440.4 741.5,440.3 740.3,441.1 739.7,442.2 739.1,442.7 737.2,444.1 734.8,445.8 732.4,446.9 732.6,446.2 732,445.8 734.8,443.7 735.1,442.3 733.6,441.2 734.3,440.3 736.4,439.4 738.2,437.4 739.2,435.7 739.4,433.9 739.8,433.5 739.4,432.4 739.1,430.1 739.3,428.3Z M729.6,443.8 729.2,444.9 728.9,446 731.2,444.9 731,446 730.2,447.1 728.5,448.3 725.6,450.2 723.7,451.2 723.4,452.5 721.8,452.5 719.2,453.5 717.3,455.2 713.9,457.7 711.3,458.9 709.7,459.6 707.9,459.6 707.2,458.7 705.2,458.5 705.6,457.6 708.3,455.7 712.9,453.2 714.7,452.7 716.9,451.7 719.8,450.3 722.1,449 724.5,447.1 725.8,446.4 727.2,445 729.6,443.8Z" fill="#c7e9b4"/><g clip-path="url(#k5)" stroke="#6a6c6a" stroke-width="0.56" stroke-linejoin="round"></g><path d="M739.3,428.3 740.2,428.1 740.5,429.5 741.8,430.2 741,432.5 740.9,435.3 742,433.5 742.6,434.2 741.6,436.2 742.8,437 744.1,437.2 746,436.2 746.9,436.5 744.8,438.8 743,440.4 741.5,440.3 740.3,441.1 739.7,442.2 739.1,442.7 737.2,444.1 734.8,445.8 732.4,446.9 732.6,446.2 732,445.8 734.8,443.7 735.1,442.3 733.6,441.2 734.3,440.3 736.4,439.4 738.2,437.4 739.2,435.7 739.4,433.9 739.8,433.5 739.4,432.4 739.1,430.1 739.3,428.3Z M729.6,443.8 729.2,444.9 728.9,446 731.2,444.9 731,446 730.2,447.1 728.5,448.3 725.6,450.2 723.7,451.2 723.4,452.5 721.8,452.5 719.2,453.5 717.3,455.2 713.9,457.7 711.3,458.9 709.7,459.6 707.9,459.6 707.2,458.7 705.2,458.5 705.6,457.6 708.3,455.7 712.9,453.2 714.7,452.7 716.9,451.7 719.8,450.3 722.1,449 724.5,447.1 725.8,446.4 727.2,445 729.6,443.8Z" fill="none" stroke="#7c7c7c" stroke-width="0.5" stroke-linejoin="round"/><clipPath id="k6"><path d="M476.6,370.7 477.2,371.8 477.7,373.5 477.9,376.6 478.4,377.9 478.1,379.1 477.6,379.9 477,378.3 476.5,379.1 476.8,381.1 476.5,382.2 475.9,382.8 475.6,385 474.4,388 473.1,391.6 472.2,394.1 471.3,396.6 470.1,400.2 468.9,403.2 467,403.9 464.9,404.9 463.7,404.3 462,403.4 461.5,402 461.5,399.6 460.9,397.6 460.8,395.7 461.3,393.8 462.4,393.4 462.5,392.5 463.7,390.5 464,388.9 463.6,387.6 463.2,386 463.2,383.6 464.1,382.1 464.5,380.5 465.6,380.4 466.9,379.8 467.8,379.3 468.8,379.3 470.2,377.8 472.2,376.2 472.9,374.9 472.7,373.8 473.6,374.1 475,372.3 475.1,370.7 475.9,369.5Z"/></clipPath><path d="M476.6,370.7 477.2,371.8 477.7,373.5 477.9,376.6 478.4,377.9 478.1,379.1 477.6,379.9 477,378.3 476.5,379.1 476.8,381.1 476.5,382.2 475.9,382.8 475.6,385 474.4,388 473.1,391.6 472.2,394.1 471.3,396.6 470.1,400.2 468.9,403.2 467,403.9 464.9,404.9 463.7,404.3 462,403.4 461.5,402 461.5,399.6 460.9,397.6 460.8,395.7 461.3,393.8 462.4,393.4 462.5,392.5 463.7,390.5 464,388.9 463.6,387.6 463.2,386 463.2,383.6 464.1,382.1 464.5,380.5 465.6,380.4 466.9,379.8 467.8,379.3 468.8,379.3 470.2,377.8 472.2,376.2 472.9,374.9 472.7,373.8 473.6,374.1 475,372.3 475.1,370.7 475.9,369.5Z" fill="#ffffcc"/><g clip-path="url(#k6)" stroke="#6a6c6a" stroke-width="0.56" stroke-linejoin="round"></g><path d="M476.6,370.7 477.2,371.8 477.7,373.5 477.9,376.6 478.4,377.9 478.1,379.1 477.6,379.9 477,378.3 476.5,379.1 476.8,381.1 476.5,382.2 475.9,382.8 475.6,385 474.4,388 473.1,391.6 472.2,394.1 471.3,396.6 470.1,400.2 468.9,403.2 467,403.9 464.9,404.9 463.7,404.3 462,403.4 461.5,402 461.5,399.6 460.9,397.6 460.8,395.7 461.3,393.8 462.4,393.4 462.5,392.5 463.7,390.5 464,388.9 463.6,387.6 463.2,386 463.2,383.6 464.1,382.1 464.5,380.5 465.6,380.4 466.9,379.8 467.8,379.3 468.8,379.3 470.2,377.8 472.2,376.2 472.9,374.9 472.7,373.8 473.6,374.1 475,372.3 475.1,370.7 475.9,369.5Z" fill="none" stroke="#7c7c7c" stroke-width="0.5" stroke-linejoin="round"/><clipPath id="k7"><path d="M228.4,474.8 229.7,475.9 231.4,477.8 234.6,479.3 237.6,479.9 237.2,481.1 235.5,481.3 234.1,480.4 232.9,480.3 230.8,480.3 230.6,481.4 228.6,481.1 226.5,480.8 223.4,479.4 220.8,478.1 216.8,475.3 218.7,475.8 222.2,477.5 225.2,478.3 225.6,477.2 225.5,475.5 226.9,474.5Z"/></clipPath><path d="M228.4,474.8 229.7,475.9 231.4,477.8 234.6,479.3 237.6,479.9 237.2,481.1 235.5,481.3 234.1,480.4 232.9,480.3 230.8,480.3 230.6,481.4 228.6,481.1 226.5,480.8 223.4,479.4 220.8,478.1 216.8,475.3 218.7,475.8 222.2,477.5 225.2,478.3 225.6,477.2 225.5,475.5 226.9,474.5Z" fill="#c7e9b4"/><g clip-path="url(#k7)" stroke="#6a6c6a" stroke-width="0.56" stroke-linejoin="round"></g><path d="M228.4,474.8 229.7,475.9 231.4,477.8 234.6,479.3 237.6,479.9 237.2,481.1 235.5,481.3 234.1,480.4 232.9,480.3 230.8,480.3 230.6,481.4 228.6,481.1 226.5,480.8 223.4,479.4 220.8,478.1 216.8,475.3 218.7,475.8 222.2,477.5 225.2,478.3 225.6,477.2 225.5,475.5 226.9,474.5Z" fill="none" stroke="#7c7c7c" stroke-width="0.5" stroke-linejoin="round"/><clipPath id="k8"><path d="M113.4,211.8 112.3,212.1 110.9,211.6 109.5,211.1 109.7,210.1 108.4,209.3 108.5,208.5 106.8,208 107,206.8 107.6,206.1 109.3,206.7 110.2,207 111.9,207.3 112,208.2 112.3,209.3 113.6,210.3Z M243.5,178.8 241.3,178.4 239.1,177.9 237.6,177.2 236,176.5 234.5,175.4 235.5,174.7 233.5,173.5 231.6,172.4 231.2,173.1 228.6,173.3 225.9,173.5 224.9,172.7 227.1,171 228.8,170.9 230.4,170.9 232.3,170.8 234.2,170.6 234.1,169.8 235.4,168.7 239,166.5 239.1,165.5 238.9,164.7 238,164.2 237,163.7 235.6,163.3 234.1,162.9 235.6,162.3 234.7,161 233.3,160.8 232.6,160.1 231.2,160.8 229.6,160.9 228,161 226.1,160.9 224.2,160.7 222.3,160.5 220.8,160.2 219.3,159.9 218.1,159.7 216.9,159.6 216.2,158.8 218.7,157.8 216.4,157.8 217.8,155.7 220.7,153.8 223.1,152.9 225.4,152.7 227.7,152.4 225.3,153.7 225.4,155.1 228.4,153.4 230.7,152.9 233.1,152.5 233.6,153.6 234.1,154.7 232.7,156 234.6,155.7 236.4,155.4 238.6,154.6 239.9,155.1 241.3,155.7 242.8,156.7 242.3,157.6 244,157.4 245.7,157.1 246.5,158.5 248.2,158.9 249.9,159.3 250.8,160.2 251.1,162.3 249.3,162.8 247.4,163.3 249,164 250.6,164.7 251.8,165 253,165.2 254.3,167.3 255.6,167.4 256.9,167.4 255.6,169 253.4,170.3 251.2,171.7 249.5,170.7 248.7,169.6 248,168.5 245.6,168.8 244.6,170.1 245.7,171.4 247.6,172.5 248,173.1 247.9,175.4 246.5,177.1 244.5,176.4 242.8,175.5 241.1,174.6 242.5,176.6 243.7,178Z M185.1,164 183,163.8 180.9,163.6 178.7,163.6 176.5,163.6 174.3,163.7 172.2,163.7 171.3,162.9 170.4,162.1 168.8,162.3 168.6,160.6 169.9,160.3 171.4,160.1 172.9,159.9 175.1,160.1 177.7,159.7 176.3,159.4 175,159.2 173.2,159.3 171.3,159.3 169,159.3 169,158.5 171.4,158.1 173.8,157.6 172.5,157.7 171.2,157.7 170.1,157.4 169,157.1 172.2,155.5 174.3,154.7 177.2,154 180.1,153.4 181.3,153.8 179.3,154.8 181.5,154.5 183.6,154.1 184.7,155.2 187.7,154.1 188.4,154.8 187.5,156.9 189.2,156 190.4,153.9 192.1,153.6 193.4,153.9 194.2,154.8 193.1,156.8 192.1,158.3 193,158.9 193.8,159.4 194.8,159.9 195.8,160.4 194.8,161.4 193.3,161.5 191.9,161.6 192.2,162.4 190.9,163.2 189.5,163 188.2,162.9Z M167.2,151.4 169.1,151.3 171.1,151.2 173,151 174.9,151.2 176.7,151.4 178.5,151.6 179.3,152.3 180.1,153 177.3,153.7 174.5,154.4 171.7,155.1 166.8,157.5 164.2,157.9 161.6,158.3 160.5,157.3 159.3,156.4 161,155.5 164,154.1 167.3,151.4Z M277.8,136.4 275.9,136.7 273.9,137.1 272,137.2 270.1,137.4 268.6,137.8 270.1,137.7 271.6,137.7 269.5,138.2 267.4,138.7 266,139 264.6,139.2 262.7,139.9 260.8,140.6 259.2,140.8 257.5,141 256.2,141.3 254.7,141.4 253.2,141.5 251.6,141.5 253.4,141.8 252.1,142.1 252.4,143 250.3,143.7 248.9,143.9 247.5,144.2 246.1,145 243.4,145.5 243.2,146 244.5,146 245.8,145.9 245.4,146.4 242.8,147 240.2,147.6 238.5,147.3 236.8,147 234.4,147.2 232,147.3 230,147.1 228.6,147 227.2,147 228,146.1 229.7,145.8 231.3,145.6 232.1,144.2 233.1,144.1 234.7,144.5 236.2,144.9 235.5,143.7 234.5,143.5 233.5,143.3 235.6,142.6 237.1,142.4 238.7,142.1 239.8,141.5 238.6,140.8 239.1,139.8 241,139.9 242.9,139.9 243.8,140.1 245.3,139.8 246.7,139.5 245.3,139.4 243.8,139.3 242.1,139.3 240.4,139.3 238.7,139.4 237.8,139.1 236.9,138.8 236.5,138.1 235.5,137.7 235.9,137.1 238.4,136.8 240.1,136.8 241.6,136.6 243.1,136.5 245.8,135.9 247.4,136 248.4,136.5 250.5,135.6 252.6,135.4 253.9,135.3 255.2,135.2 256.6,135.2 258,135.2 259.4,135.2 260,135.3 262.1,135.2 264.2,135.1 265.6,135.1 267,135.2 268.4,135.2 269.9,135.2 271.6,135.3 273.4,135.4 274.8,135.5 276.1,135.6 277.2,135.8 278.3,136Z M221.6,146.4 223.2,146.4 224.7,146.4 225.3,147 224.1,147.8 225.4,148.2 225.9,148.7 227.9,148.8 230,149 231.4,148.7 232.9,148.5 234.5,148.4 236.1,148.4 237.3,148.4 238.5,148.5 239.5,149.2 239.1,150.1 237.6,150.6 234.9,151.1 233.1,150.8 230.7,151 228.4,151.1 226.7,151.2 225.1,151.2 224,151 222.8,150.9 221.1,150.6 219.3,150.2 219.9,149.1 220.8,148.2 220.2,147.3 218.8,147.2 217.3,147 216.3,146.4 217.8,145.6 219.2,145.7 220.7,145.8Z M221.2,143.9 218.5,144.3 217.9,143.9 218.1,143.1 219,142.4 220.8,142.5 221.5,142.6 222.5,143.2Z M226.2,143.4 225.6,142.6 226.4,141.9 228.2,141.4 226.9,141.4 225.6,141.4 224.8,140.8 224.9,140 226.9,139.2 228.6,138.7 230.2,138.6 230.1,138.2 231.7,138.2 233.4,138.1 234.1,139 235.1,139.2 236,139.4 237,139.6 238,139.7 237.7,140.9 238.8,141.5 236.1,142.1 233.9,142.8 231.8,143.5 230.4,143.5 229,143.6 227.6,143.5Z M197.4,146.4 198.8,146.6 198.1,147.5 197.8,148.2 199.6,147.9 201.1,148 200.2,149 198.1,149.9 196.2,150 194.4,150.1 192.5,150.2 190,150.7 187.5,151.1 186.3,151.1 185,151.2 185.7,150.5 187.8,150 190,149.6 188.2,149.7 186.3,149.7 184.5,149.8 182.7,149.8 181,149.5 185.7,147.5 187.9,147 189.6,147.3 191.3,147.6 191.9,148.2 192.5,148.8 193.7,148.9 195,149 195.2,147.1Z M204.7,152.3 206.2,152.7 207.8,152.6 209.3,152.5 209.1,153.1 206.7,154.1 207.4,154.5 208.2,155 206.1,156.9 204.4,157.3 202.7,157.7 201.3,157.5 200.9,156.7 199.7,155.9 198.5,155.1 199.3,154.4 200.8,154.5 202.3,154.7 201.9,153.3Z M214,154.5 210.8,156.1 209,156 209.8,154.2 210.8,153.1 212.5,152.3 214.6,151.7 216.2,151.7 217.8,151.8 219.1,152 220.4,152.3 216.3,154.1Z M215,170.2 214.6,171.2 215.7,170.8 216.4,171.4 217.7,172.2 219.3,172.9 218.7,174 220.1,173.8 220.9,174.6 218.9,175.4 217.7,175.1 216.5,174.8 216.2,173.8 213.6,175 210.3,176.2 210.6,174.8 208,175.1 210.3,173.9 211.8,172.1 213.9,170Z M233.3,166.8 231.3,166.9 231.6,165.8 233.1,164.6 234.9,164.2 235.8,164.9 235.2,165.8 234.8,166.1Z M203,162.4 201.3,163.2 199.6,162.5 198,162.8 196.6,161.8 198.6,161.1 200.6,160.2 201.9,160.8 202.5,161.2 202.7,161.6Z M251.4,206.3 249.3,208.5 250.9,207.7 252.1,208.2 251.1,209.1 252.7,209.8 253.8,209.2 255.6,209.9 254.4,211.8 255.9,211.4 255.8,212.7 256,214.3 254.6,216.5 253.6,216.6 252.4,216.2 253.4,214.1 252.9,213.8 250,216 248.8,215.9 250.6,214.7 248.8,214.1 246.5,214.2 244.6,214.2 242.6,214.1 242.5,213.4 244.1,212.5 243.4,211.8 245.6,210.2 247.2,208.2 248.9,206.2 250.6,204.8 252.6,203.9 253.5,204 252.9,204.7Z M233.9,208.4 234.7,208.1 237.1,208.8 238.8,209.8 238.7,210.3 237.7,210.3 235.3,209.6 233.9,208.4Z M232.5,215.6 232.8,216.8 234.2,217.1 236.1,217.1 234.8,218.1 234,218.3 231.7,217.2 231.5,216.4Z M104.9,197.6 105.5,197.9 107.6,197.7 104.6,200.6 104.7,202.6 103.9,202.6 103.7,201.4 103.9,200.3 103.5,199.5 104.1,198.4Z M189.9,144.7 187.5,146.2 185.4,146.9 183.9,147 181.9,147.4 179.9,147.8 178.4,148 177,148.1 175.5,147.7 177.9,147 180.2,146.2 182.7,145.6 185.2,145 186.3,145 187.4,145Z M199,144.6 197.2,144.9 195.4,145.2 194.1,144.5 196.2,143.9 198.6,143.7 200.3,144Z M202.2,142.9 199.9,143.2 198.6,143.2 197.4,143.2 197.8,143 200.2,142.4 200.8,142.5Z M215.6,143.4 215.2,144.2 214.1,144.1 213,144 212.2,143.7 211.4,143.4 209.8,143.3 208.2,143.3 210.4,142.7 209.2,142.3 210.1,141.6 211.4,141.7 212.6,141.8 214.1,142.2 215.6,142.5Z M214.1,146.5 214.2,147.4 213.1,148.4 210.7,149.9 209.4,150 208,150.1 206.7,149.8 208,148.6 206.7,148.7 205.3,148.8 207,147.2 208.6,147.3 210.2,147 211.7,146.6Z M217.3,148.6 217.9,149.3 216.1,150.8 214,150.6 212.7,150.1 214.5,149.2Z M216.5,176.5 213.3,178.3 212.1,178.2 212.1,177.6 214.1,176.5Z M219.3,177.7 220,177.8 220.2,178.3 218.7,179.5 218,179.3 218,178.6Z"/></clipPath><path d="M113.4,211.8 112.3,212.1 110.9,211.6 109.5,211.1 109.7,210.1 108.4,209.3 108.5,208.5 106.8,208 107,206.8 107.6,206.1 109.3,206.7 110.2,207 111.9,207.3 112,208.2 112.3,209.3 113.6,210.3Z M243.5,178.8 241.3,178.4 239.1,177.9 237.6,177.2 236,176.5 234.5,175.4 235.5,174.7 233.5,173.5 231.6,172.4 231.2,173.1 228.6,173.3 225.9,173.5 224.9,172.7 227.1,171 228.8,170.9 230.4,170.9 232.3,170.8 234.2,170.6 234.1,169.8 235.4,168.7 239,166.5 239.1,165.5 238.9,164.7 238,164.2 237,163.7 235.6,163.3 234.1,162.9 235.6,162.3 234.7,161 233.3,160.8 232.6,160.1 231.2,160.8 229.6,160.9 228,161 226.1,160.9 224.2,160.7 222.3,160.5 220.8,160.2 219.3,159.9 218.1,159.7 216.9,159.6 216.2,158.8 218.7,157.8 216.4,157.8 217.8,155.7 220.7,153.8 223.1,152.9 225.4,152.7 227.7,152.4 225.3,153.7 225.4,155.1 228.4,153.4 230.7,152.9 233.1,152.5 233.6,153.6 234.1,154.7 232.7,156 234.6,155.7 236.4,155.4 238.6,154.6 239.9,155.1 241.3,155.7 242.8,156.7 242.3,157.6 244,157.4 245.7,157.1 246.5,158.5 248.2,158.9 249.9,159.3 250.8,160.2 251.1,162.3 249.3,162.8 247.4,163.3 249,164 250.6,164.7 251.8,165 253,165.2 254.3,167.3 255.6,167.4 256.9,167.4 255.6,169 253.4,170.3 251.2,171.7 249.5,170.7 248.7,169.6 248,168.5 245.6,168.8 244.6,170.1 245.7,171.4 247.6,172.5 248,173.1 247.9,175.4 246.5,177.1 244.5,176.4 242.8,175.5 241.1,174.6 242.5,176.6 243.7,178Z M185.1,164 183,163.8 180.9,163.6 178.7,163.6 176.5,163.6 174.3,163.7 172.2,163.7 171.3,162.9 170.4,162.1 168.8,162.3 168.6,160.6 169.9,160.3 171.4,160.1 172.9,159.9 175.1,160.1 177.7,159.7 176.3,159.4 175,159.2 173.2,159.3 171.3,159.3 169,159.3 169,158.5 171.4,158.1 173.8,157.6 172.5,157.7 171.2,157.7 170.1,157.4 169,157.1 172.2,155.5 174.3,154.7 177.2,154 180.1,153.4 181.3,153.8 179.3,154.8 181.5,154.5 183.6,154.1 184.7,155.2 187.7,154.1 188.4,154.8 187.5,156.9 189.2,156 190.4,153.9 192.1,153.6 193.4,153.9 194.2,154.8 193.1,156.8 192.1,158.3 193,158.9 193.8,159.4 194.8,159.9 195.8,160.4 194.8,161.4 193.3,161.5 191.9,161.6 192.2,162.4 190.9,163.2 189.5,163 188.2,162.9Z M167.2,151.4 169.1,151.3 171.1,151.2 173,151 174.9,151.2 176.7,151.4 178.5,151.6 179.3,152.3 180.1,153 177.3,153.7 174.5,154.4 171.7,155.1 166.8,157.5 164.2,157.9 161.6,158.3 160.5,157.3 159.3,156.4 161,155.5 164,154.1 167.3,151.4Z M277.8,136.4 275.9,136.7 273.9,137.1 272,137.2 270.1,137.4 268.6,137.8 270.1,137.7 271.6,137.7 269.5,138.2 267.4,138.7 266,139 264.6,139.2 262.7,139.9 260.8,140.6 259.2,140.8 257.5,141 256.2,141.3 254.7,141.4 253.2,141.5 251.6,141.5 253.4,141.8 252.1,142.1 252.4,143 250.3,143.7 248.9,143.9 247.5,144.2 246.1,145 243.4,145.5 243.2,146 244.5,146 245.8,145.9 245.4,146.4 242.8,147 240.2,147.6 238.5,147.3 236.8,147 234.4,147.2 232,147.3 230,147.1 228.6,147 227.2,147 228,146.1 229.7,145.8 231.3,145.6 232.1,144.2 233.1,144.1 234.7,144.5 236.2,144.9 235.5,143.7 234.5,143.5 233.5,143.3 235.6,142.6 237.1,142.4 238.7,142.1 239.8,141.5 238.6,140.8 239.1,139.8 241,139.9 242.9,139.9 243.8,140.1 245.3,139.8 246.7,139.5 245.3,139.4 243.8,139.3 242.1,139.3 240.4,139.3 238.7,139.4 237.8,139.1 236.9,138.8 236.5,138.1 235.5,137.7 235.9,137.1 238.4,136.8 240.1,136.8 241.6,136.6 243.1,136.5 245.8,135.9 247.4,136 248.4,136.5 250.5,135.6 252.6,135.4 253.9,135.3 255.2,135.2 256.6,135.2 258,135.2 259.4,135.2 260,135.3 262.1,135.2 264.2,135.1 265.6,135.1 267,135.2 268.4,135.2 269.9,135.2 271.6,135.3 273.4,135.4 274.8,135.5 276.1,135.6 277.2,135.8 278.3,136Z M221.6,146.4 223.2,146.4 224.7,146.4 225.3,147 224.1,147.8 225.4,148.2 225.9,148.7 227.9,148.8 230,149 231.4,148.7 232.9,148.5 234.5,148.4 236.1,148.4 237.3,148.4 238.5,148.5 239.5,149.2 239.1,150.1 237.6,150.6 234.9,151.1 233.1,150.8 230.7,151 228.4,151.1 226.7,151.2 225.1,151.2 224,151 222.8,150.9 221.1,150.6 219.3,150.2 219.9,149.1 220.8,148.2 220.2,147.3 218.8,147.2 217.3,147 216.3,146.4 217.8,145.6 219.2,145.7 220.7,145.8Z M221.2,143.9 218.5,144.3 217.9,143.9 218.1,143.1 219,142.4 220.8,142.5 221.5,142.6 222.5,143.2Z M226.2,143.4 225.6,142.6 226.4,141.9 228.2,141.4 226.9,141.4 225.6,141.4 224.8,140.8 224.9,140 226.9,139.2 228.6,138.7 230.2,138.6 230.1,138.2 231.7,138.2 233.4,138.1 234.1,139 235.1,139.2 236,139.4 237,139.6 238,139.7 237.7,140.9 238.8,141.5 236.1,142.1 233.9,142.8 231.8,143.5 230.4,143.5 229,143.6 227.6,143.5Z M197.4,146.4 198.8,146.6 198.1,147.5 197.8,148.2 199.6,147.9 201.1,148 200.2,149 198.1,149.9 196.2,150 194.4,150.1 192.5,150.2 190,150.7 187.5,151.1 186.3,151.1 185,151.2 185.7,150.5 187.8,150 190,149.6 188.2,149.7 186.3,149.7 184.5,149.8 182.7,149.8 181,149.5 185.7,147.5 187.9,147 189.6,147.3 191.3,147.6 191.9,148.2 192.5,148.8 193.7,148.9 195,149 195.2,147.1Z M204.7,152.3 206.2,152.7 207.8,152.6 209.3,152.5 209.1,153.1 206.7,154.1 207.4,154.5 208.2,155 206.1,156.9 204.4,157.3 202.7,157.7 201.3,157.5 200.9,156.7 199.7,155.9 198.5,155.1 199.3,154.4 200.8,154.5 202.3,154.7 201.9,153.3Z M214,154.5 210.8,156.1 209,156 209.8,154.2 210.8,153.1 212.5,152.3 214.6,151.7 216.2,151.7 217.8,151.8 219.1,152 220.4,152.3 216.3,154.1Z M215,170.2 214.6,171.2 215.7,170.8 216.4,171.4 217.7,172.2 219.3,172.9 218.7,174 220.1,173.8 220.9,174.6 218.9,175.4 217.7,175.1 216.5,174.8 216.2,173.8 213.6,175 210.3,176.2 210.6,174.8 208,175.1 210.3,173.9 211.8,172.1 213.9,170Z M233.3,166.8 231.3,166.9 231.6,165.8 233.1,164.6 234.9,164.2 235.8,164.9 235.2,165.8 234.8,166.1Z M203,162.4 201.3,163.2 199.6,162.5 198,162.8 196.6,161.8 198.6,161.1 200.6,160.2 201.9,160.8 202.5,161.2 202.7,161.6Z M251.4,206.3 249.3,208.5 250.9,207.7 252.1,208.2 251.1,209.1 252.7,209.8 253.8,209.2 255.6,209.9 254.4,211.8 255.9,211.4 255.8,212.7 256,214.3 254.6,216.5 253.6,216.6 252.4,216.2 253.4,214.1 252.9,213.8 250,216 248.8,215.9 250.6,214.7 248.8,214.1 246.5,214.2 244.6,214.2 242.6,214.1 242.5,213.4 244.1,212.5 243.4,211.8 245.6,210.2 247.2,208.2 248.9,206.2 250.6,204.8 252.6,203.9 253.5,204 252.9,204.7Z M233.9,208.4 234.7,208.1 237.1,208.8 238.8,209.8 238.7,210.3 237.7,210.3 235.3,209.6 233.9,208.4Z M232.5,215.6 232.8,216.8 234.2,217.1 236.1,217.1 234.8,218.1 234,218.3 231.7,217.2 231.5,216.4Z M104.9,197.6 105.5,197.9 107.6,197.7 104.6,200.6 104.7,202.6 103.9,202.6 103.7,201.4 103.9,200.3 103.5,199.5 104.1,198.4Z M189.9,144.7 187.5,146.2 185.4,146.9 183.9,147 181.9,147.4 179.9,147.8 178.4,148 177,148.1 175.5,147.7 177.9,147 180.2,146.2 182.7,145.6 185.2,145 186.3,145 187.4,145Z M199,144.6 197.2,144.9 195.4,145.2 194.1,144.5 196.2,143.9 198.6,143.7 200.3,144Z M202.2,142.9 199.9,143.2 198.6,143.2 197.4,143.2 197.8,143 200.2,142.4 200.8,142.5Z M215.6,143.4 215.2,144.2 214.1,144.1 213,144 212.2,143.7 211.4,143.4 209.8,143.3 208.2,143.3 210.4,142.7 209.2,142.3 210.1,141.6 211.4,141.7 212.6,141.8 214.1,142.2 215.6,142.5Z M214.1,146.5 214.2,147.4 213.1,148.4 210.7,149.9 209.4,150 208,150.1 206.7,149.8 208,148.6 206.7,148.7 205.3,148.8 207,147.2 208.6,147.3 210.2,147 211.7,146.6Z M217.3,148.6 217.9,149.3 216.1,150.8 214,150.6 212.7,150.1 214.5,149.2Z M216.5,176.5 213.3,178.3 212.1,178.2 212.1,177.6 214.1,176.5Z M219.3,177.7 220,177.8 220.2,178.3 218.7,179.5 218,179.3 218,178.6Z" fill="#41b6c4"/><g clip-path="url(#k8)" stroke="#6a6c6a" stroke-width="0.56" stroke-linejoin="round"></g><path d="M113.4,211.8 112.3,212.1 110.9,211.6 109.5,211.1 109.7,210.1 108.4,209.3 108.5,208.5 106.8,208 107,206.8 107.6,206.1 109.3,206.7 110.2,207 111.9,207.3 112,208.2 112.3,209.3 113.6,210.3Z M243.5,178.8 241.3,178.4 239.1,177.9 237.6,177.2 236,176.5 234.5,175.4 235.5,174.7 233.5,173.5 231.6,172.4 231.2,173.1 228.6,173.3 225.9,173.5 224.9,172.7 227.1,171 228.8,170.9 230.4,170.9 232.3,170.8 234.2,170.6 234.1,169.8 235.4,168.7 239,166.5 239.1,165.5 238.9,164.7 238,164.2 237,163.7 235.6,163.3 234.1,162.9 235.6,162.3 234.7,161 233.3,160.8 232.6,160.1 231.2,160.8 229.6,160.9 228,161 226.1,160.9 224.2,160.7 222.3,160.5 220.8,160.2 219.3,159.9 218.1,159.7 216.9,159.6 216.2,158.8 218.7,157.8 216.4,157.8 217.8,155.7 220.7,153.8 223.1,152.9 225.4,152.7 227.7,152.4 225.3,153.7 225.4,155.1 228.4,153.4 230.7,152.9 233.1,152.5 233.6,153.6 234.1,154.7 232.7,156 234.6,155.7 236.4,155.4 238.6,154.6 239.9,155.1 241.3,155.7 242.8,156.7 242.3,157.6 244,157.4 245.7,157.1 246.5,158.5 248.2,158.9 249.9,159.3 250.8,160.2 251.1,162.3 249.3,162.8 247.4,163.3 249,164 250.6,164.7 251.8,165 253,165.2 254.3,167.3 255.6,167.4 256.9,167.4 255.6,169 253.4,170.3 251.2,171.7 249.5,170.7 248.7,169.6 248,168.5 245.6,168.8 244.6,170.1 245.7,171.4 247.6,172.5 248,173.1 247.9,175.4 246.5,177.1 244.5,176.4 242.8,175.5 241.1,174.6 242.5,176.6 243.7,178Z M185.1,164 183,163.8 180.9,163.6 178.7,163.6 176.5,163.6 174.3,163.7 172.2,163.7 171.3,162.9 170.4,162.1 168.8,162.3 168.6,160.6 169.9,160.3 171.4,160.1 172.9,159.9 175.1,160.1 177.7,159.7 176.3,159.4 175,159.2 173.2,159.3 171.3,159.3 169,159.3 169,158.5 171.4,158.1 173.8,157.6 172.5,157.7 171.2,157.7 170.1,157.4 169,157.1 172.2,155.5 174.3,154.7 177.2,154 180.1,153.4 181.3,153.8 179.3,154.8 181.5,154.5 183.6,154.1 184.7,155.2 187.7,154.1 188.4,154.8 187.5,156.9 189.2,156 190.4,153.9 192.1,153.6 193.4,153.9 194.2,154.8 193.1,156.8 192.1,158.3 193,158.9 193.8,159.4 194.8,159.9 195.8,160.4 194.8,161.4 193.3,161.5 191.9,161.6 192.2,162.4 190.9,163.2 189.5,163 188.2,162.9Z M167.2,151.4 169.1,151.3 171.1,151.2 173,151 174.9,151.2 176.7,151.4 178.5,151.6 179.3,152.3 180.1,153 177.3,153.7 174.5,154.4 171.7,155.1 166.8,157.5 164.2,157.9 161.6,158.3 160.5,157.3 159.3,156.4 161,155.5 164,154.1 167.3,151.4Z M277.8,136.4 275.9,136.7 273.9,137.1 272,137.2 270.1,137.4 268.6,137.8 270.1,137.7 271.6,137.7 269.5,138.2 267.4,138.7 266,139 264.6,139.2 262.7,139.9 260.8,140.6 259.2,140.8 257.5,141 256.2,141.3 254.7,141.4 253.2,141.5 251.6,141.5 253.4,141.8 252.1,142.1 252.4,143 250.3,143.7 248.9,143.9 247.5,144.2 246.1,145 243.4,145.5 243.2,146 244.5,146 245.8,145.9 245.4,146.4 242.8,147 240.2,147.6 238.5,147.3 236.8,147 234.4,147.2 232,147.3 230,147.1 228.6,147 227.2,147 228,146.1 229.7,145.8 231.3,145.6 232.1,144.2 233.1,144.1 234.7,144.5 236.2,144.9 235.5,143.7 234.5,143.5 233.5,143.3 235.6,142.6 237.1,142.4 238.7,142.1 239.8,141.5 238.6,140.8 239.1,139.8 241,139.9 242.9,139.9 243.8,140.1 245.3,139.8 246.7,139.5 245.3,139.4 243.8,139.3 242.1,139.3 240.4,139.3 238.7,139.4 237.8,139.1 236.9,138.8 236.5,138.1 235.5,137.7 235.9,137.1 238.4,136.8 240.1,136.8 241.6,136.6 243.1,136.5 245.8,135.9 247.4,136 248.4,136.5 250.5,135.6 252.6,135.4 253.9,135.3 255.2,135.2 256.6,135.2 258,135.2 259.4,135.2 260,135.3 262.1,135.2 264.2,135.1 265.6,135.1 267,135.2 268.4,135.2 269.9,135.2 271.6,135.3 273.4,135.4 274.8,135.5 276.1,135.6 277.2,135.8 278.3,136Z M221.6,146.4 223.2,146.4 224.7,146.4 225.3,147 224.1,147.8 225.4,148.2 225.9,148.7 227.9,148.8 230,149 231.4,148.7 232.9,148.5 234.5,148.4 236.1,148.4 237.3,148.4 238.5,148.5 239.5,149.2 239.1,150.1 237.6,150.6 234.9,151.1 233.1,150.8 230.7,151 228.4,151.1 226.7,151.2 225.1,151.2 224,151 222.8,150.9 221.1,150.6 219.3,150.2 219.9,149.1 220.8,148.2 220.2,147.3 218.8,147.2 217.3,147 216.3,146.4 217.8,145.6 219.2,145.7 220.7,145.8Z M221.2,143.9 218.5,144.3 217.9,143.9 218.1,143.1 219,142.4 220.8,142.5 221.5,142.6 222.5,143.2Z M226.2,143.4 225.6,142.6 226.4,141.9 228.2,141.4 226.9,141.4 225.6,141.4 224.8,140.8 224.9,140 226.9,139.2 228.6,138.7 230.2,138.6 230.1,138.2 231.7,138.2 233.4,138.1 234.1,139 235.1,139.2 236,139.4 237,139.6 238,139.7 237.7,140.9 238.8,141.5 236.1,142.1 233.9,142.8 231.8,143.5 230.4,143.5 229,143.6 227.6,143.5Z M197.4,146.4 198.8,146.6 198.1,147.5 197.8,148.2 199.6,147.9 201.1,148 200.2,149 198.1,149.9 196.2,150 194.4,150.1 192.5,150.2 190,150.7 187.5,151.1 186.3,151.1 185,151.2 185.7,150.5 187.8,150 190,149.6 188.2,149.7 186.3,149.7 184.5,149.8 182.7,149.8 181,149.5 185.7,147.5 187.9,147 189.6,147.3 191.3,147.6 191.9,148.2 192.5,148.8 193.7,148.9 195,149 195.2,147.1Z M204.7,152.3 206.2,152.7 207.8,152.6 209.3,152.5 209.1,153.1 206.7,154.1 207.4,154.5 208.2,155 206.1,156.9 204.4,157.3 202.7,157.7 201.3,157.5 200.9,156.7 199.7,155.9 198.5,155.1 199.3,154.4 200.8,154.5 202.3,154.7 201.9,153.3Z M214,154.5 210.8,156.1 209,156 209.8,154.2 210.8,153.1 212.5,152.3 214.6,151.7 216.2,151.7 217.8,151.8 219.1,152 220.4,152.3 216.3,154.1Z M215,170.2 214.6,171.2 215.7,170.8 216.4,171.4 217.7,172.2 219.3,172.9 218.7,174 220.1,173.8 220.9,174.6 218.9,175.4 217.7,175.1 216.5,174.8 216.2,173.8 213.6,175 210.3,176.2 210.6,174.8 208,175.1 210.3,173.9 211.8,172.1 213.9,170Z M233.3,166.8 231.3,166.9 231.6,165.8 233.1,164.6 234.9,164.2 235.8,164.9 235.2,165.8 234.8,166.1Z M203,162.4 201.3,163.2 199.6,162.5 198,162.8 196.6,161.8 198.6,161.1 200.6,160.2 201.9,160.8 202.5,161.2 202.7,161.6Z M251.4,206.3 249.3,208.5 250.9,207.7 252.1,208.2 251.1,209.1 252.7,209.8 253.8,209.2 255.6,209.9 254.4,211.8 255.9,211.4 255.8,212.7 256,214.3 254.6,216.5 253.6,216.6 252.4,216.2 253.4,214.1 252.9,213.8 250,216 248.8,215.9 250.6,214.7 248.8,214.1 246.5,214.2 244.6,214.2 242.6,214.1 242.5,213.4 244.1,212.5 243.4,211.8 245.6,210.2 247.2,208.2 248.9,206.2 250.6,204.8 252.6,203.9 253.5,204 252.9,204.7Z M233.9,208.4 234.7,208.1 237.1,208.8 238.8,209.8 238.7,210.3 237.7,210.3 235.3,209.6 233.9,208.4Z M232.5,215.6 232.8,216.8 234.2,217.1 236.1,217.1 234.8,218.1 234,218.3 231.7,217.2 231.5,216.4Z M104.9,197.6 105.5,197.9 107.6,197.7 104.6,200.6 104.7,202.6 103.9,202.6 103.7,201.4 103.9,200.3 103.5,199.5 104.1,198.4Z M189.9,144.7 187.5,146.2 185.4,146.9 183.9,147 181.9,147.4 179.9,147.8 178.4,148 177,148.1 175.5,147.7 177.9,147 180.2,146.2 182.7,145.6 185.2,145 186.3,145 187.4,145Z M199,144.6 197.2,144.9 195.4,145.2 194.1,144.5 196.2,143.9 198.6,143.7 200.3,144Z M202.2,142.9 199.9,143.2 198.6,143.2 197.4,143.2 197.8,143 200.2,142.4 200.8,142.5Z M215.6,143.4 215.2,144.2 214.1,144.1 213,144 212.2,143.7 211.4,143.4 209.8,143.3 208.2,143.3 210.4,142.7 209.2,142.3 210.1,141.6 211.4,141.7 212.6,141.8 214.1,142.2 215.6,142.5Z M214.1,146.5 214.2,147.4 213.1,148.4 210.7,149.9 209.4,150 208,150.1 206.7,149.8 208,148.6 206.7,148.7 205.3,148.8 207,147.2 208.6,147.3 210.2,147 211.7,146.6Z M217.3,148.6 217.9,149.3 216.1,150.8 214,150.6 212.7,150.1 214.5,149.2Z M216.5,176.5 213.3,178.3 212.1,178.2 212.1,177.6 214.1,176.5Z M219.3,177.7 220,177.8 220.2,178.3 218.7,179.5 218,179.3 218,178.6Z" fill="none" stroke="#7c7c7c" stroke-width="0.5" stroke-linejoin="round"/><clipPath id="k9"><path d="M10.2,288.3 9.8,288.7 9.3,288.3 9.5,287.6 9.4,286.7 9.6,286.4 10.1,285.9 10,285.4 10.2,285.2 11.1,285.7 11.5,285.9 11.8,286.2 12.1,287.2 11,287.9Z M10,284.2 9.2,284.4 8.9,283.8 8.7,283.6 9,283.2 9.7,283.5 10.2,283.9Z M6.8,282.4 6.7,282.6 5.7,282.5 5.6,281.9 6.2,281.4 6.4,281.6Z M3.4,280.7 3.1,281 2.5,280.5 2.6,280.3 3,280 3.5,280.1Z M75.5,188.3 76.6,188.5 76.6,189.2 73.8,190.4 70.9,191.3 70.6,190.7 71.5,189.5 74.2,188.7Z M58.4,174.5 58.9,174.9 60.3,174.7 60.9,175.3 62.3,175.6 61.8,175.9 59.8,176.4 59.1,175.9 59,175.4 57.3,175.6 57.1,175.4Z M57.6,182.5 58.8,182.7 57.9,183.6 56.3,184 55.6,183.5 55.3,182.9Z"/></clipPath><path d="M10.2,288.3 9.8,288.7 9.3,288.3 9.5,287.6 9.4,286.7 9.6,286.4 10.1,285.9 10,285.4 10.2,285.2 11.1,285.7 11.5,285.9 11.8,286.2 12.1,287.2 11,287.9Z M10,284.2 9.2,284.4 8.9,283.8 8.7,283.6 9,283.2 9.7,283.5 10.2,283.9Z M6.8,282.4 6.7,282.6 5.7,282.5 5.6,281.9 6.2,281.4 6.4,281.6Z M3.4,280.7 3.1,281 2.5,280.5 2.6,280.3 3,280 3.5,280.1Z M75.5,188.3 76.6,188.5 76.6,189.2 73.8,190.4 70.9,191.3 70.6,190.7 71.5,189.5 74.2,188.7Z M58.4,174.5 58.9,174.9 60.3,174.7 60.9,175.3 62.3,175.6 61.8,175.9 59.8,176.4 59.1,175.9 59,175.4 57.3,175.6 57.1,175.4Z M57.6,182.5 58.8,182.7 57.9,183.6 56.3,184 55.6,183.5 55.3,182.9Z" fill="#253494"/><g clip-path="url(#k9)" stroke="#6a6c6a" stroke-width="0.56" stroke-linejoin="round"></g><path d="M10.2,288.3 9.8,288.7 9.3,288.3 9.5,287.6 9.4,286.7 9.6,286.4 10.1,285.9 10,285.4 10.2,285.2 11.1,285.7 11.5,285.9 11.8,286.2 12.1,287.2 11,287.9Z M10,284.2 9.2,284.4 8.9,283.8 8.7,283.6 9,283.2 9.7,283.5 10.2,283.9Z M6.8,282.4 6.7,282.6 5.7,282.5 5.6,281.9 6.2,281.4 6.4,281.6Z M3.4,280.7 3.1,281 2.5,280.5 2.6,280.3 3,280 3.5,280.1Z M75.5,188.3 76.6,188.5 76.6,189.2 73.8,190.4 70.9,191.3 70.6,190.7 71.5,189.5 74.2,188.7Z M58.4,174.5 58.9,174.9 60.3,174.7 60.9,175.3 62.3,175.6 61.8,175.9 59.8,176.4 59.1,175.9 59,175.4 57.3,175.6 57.1,175.4Z M57.6,182.5 58.8,182.7 57.9,183.6 56.3,184 55.6,183.5 55.3,182.9Z" fill="none" stroke="#7c7c7c" stroke-width="0.5" stroke-linejoin="round"/><clipPath id="k10"><path d="M299,136 300.7,135.7 302.4,135.4 304.2,135.1 305.7,135.1 307.3,135.1 308.9,135.1 311,134.6 312.6,134.5 314.2,134.5 315.8,134.4 317.6,134.5 319.4,134.5 321.2,134.5 322.9,134.6 324.7,134.6 326.5,134.6 328.1,134.9 329.7,135.1 331.3,135.3 333,135.6 334.6,135.8 333.2,136.1 331.9,136.4 330.1,136.4 328.3,136.5 326.6,136.5 324.7,136.5 322.8,136.6 320.9,136.6 319.1,136.6 319.6,136.9 321.3,136.9 323,136.8 324.6,136.7 325.9,136.9 327.3,137.1 328.6,137.3 330,137 331.5,136.8 332.4,137.4 330.6,138.3 332.5,138 334.3,137.7 336.1,137.6 337.8,137.4 339.5,137.3 341.3,137.1 342.6,137.2 344,137.3 345.4,137.4 346,138.1 344.1,138.5 342.1,138.9 340,139.3 339.2,139.7 337.6,139.8 336.1,139.9 334.5,140 336.2,140 337.8,140.1 335.8,141.4 334.3,142.6 333.8,144.7 335.3,146 334.1,146 332.9,146.1 331.6,146.4 330.3,146.7 331.6,147.2 332.9,147.7 332.8,149.4 331.1,149.6 332.8,151.4 331,151.4 329.3,151.5 330.9,152.4 330.2,153.1 327.9,153.4 325.7,153.4 327.4,154.8 327.2,155.8 325.7,155.3 324.2,154.9 323.3,155.5 325.3,156 327.1,157.3 327.4,159 325.9,159.2 324.4,159.5 323.3,158.6 321.6,157.4 321.8,158.8 319.6,160 321.8,160 323.9,160.1 326.2,160.2 323.8,161.1 321.3,162.1 318.8,163 316.4,163.8 313.8,164.2 311.2,164.6 309.3,164.6 307.4,165.5 304.3,167.9 302.2,168.6 300.1,169.4 298.9,169.5 296.4,170.1 293.7,170.6 291.8,172 291.2,173.7 289.8,175.2 288.1,176.1 286.3,177.1 286.4,178.9 285,180.9 283.3,183.2 280.7,183.3 278.6,181.4 276.8,181.4 275,181.4 273.7,180.1 273.3,177.8 272.4,176.3 271.4,174.8 271.1,173.3 271.7,171.3 270.2,169.2 271.6,167.5 270.8,166.7 273.7,164.1 275.1,163.7 276.6,163.3 277.7,162.3 278.8,160.6 276.5,161.4 275.5,161.7 273.8,162.1 272.1,161.3 272.7,159.8 274,158.7 275.5,158.7 277,158.9 278.6,159.2 277.5,158.6 276.4,157.9 275.4,157.1 273.6,157.4 272.5,156.9 275.4,154.9 274.8,154.1 274.4,152.7 273.8,150.5 272.3,149.7 272.9,148.9 271.2,148.3 269.6,147.7 268,147.6 266.4,147.6 264.4,147.6 262.3,147.7 260.4,147.7 258.5,147.8 257.2,147.2 256.4,146.5 255.6,145.9 257.8,145.6 260.1,145.3 261.6,145.3 263.2,145.2 261.2,145 259.2,144.9 257.2,144.7 255.9,144.3 254.6,143.9 255.5,143.2 257.6,142.9 259.7,142.6 261.9,142.3 263.9,142 266,141.7 268,141.4 269.2,140.7 267.5,140.4 265.9,140.1 267.7,139.4 269.7,139 271.7,138.6 273.7,138.2 275.9,138 275.9,137.3 277.8,137.1 279.6,136.9 281.1,136.8 282.6,136.7 284.1,136.7 285.5,136.6 286.9,136.6 288.3,136.6 289.5,137.1 291.6,136.7 293.8,136.3 295.2,136.6 296.7,136.9Z"/></clipPath><path d="M299,136 300.7,135.7 302.4,135.4 304.2,135.1 305.7,135.1 307.3,135.1 308.9,135.1 311,134.6 312.6,134.5 314.2,134.5 315.8,134.4 317.6,134.5 319.4,134.5 321.2,134.5 322.9,134.6 324.7,134.6 326.5,134.6 328.1,134.9 329.7,135.1 331.3,135.3 333,135.6 334.6,135.8 333.2,136.1 331.9,136.4 330.1,136.4 328.3,136.5 326.6,136.5 324.7,136.5 322.8,136.6 320.9,136.6 319.1,136.6 319.6,136.9 321.3,136.9 323,136.8 324.6,136.7 325.9,136.9 327.3,137.1 328.6,137.3 330,137 331.5,136.8 332.4,137.4 330.6,138.3 332.5,138 334.3,137.7 336.1,137.6 337.8,137.4 339.5,137.3 341.3,137.1 342.6,137.2 344,137.3 345.4,137.4 346,138.1 344.1,138.5 342.1,138.9 340,139.3 339.2,139.7 337.6,139.8 336.1,139.9 334.5,140 336.2,140 337.8,140.1 335.8,141.4 334.3,142.6 333.8,144.7 335.3,146 334.1,146 332.9,146.1 331.6,146.4 330.3,146.7 331.6,147.2 332.9,147.7 332.8,149.4 331.1,149.6 332.8,151.4 331,151.4 329.3,151.5 330.9,152.4 330.2,153.1 327.9,153.4 325.7,153.4 327.4,154.8 327.2,155.8 325.7,155.3 324.2,154.9 323.3,155.5 325.3,156 327.1,157.3 327.4,159 325.9,159.2 324.4,159.5 323.3,158.6 321.6,157.4 321.8,158.8 319.6,160 321.8,160 323.9,160.1 326.2,160.2 323.8,161.1 321.3,162.1 318.8,163 316.4,163.8 313.8,164.2 311.2,164.6 309.3,164.6 307.4,165.5 304.3,167.9 302.2,168.6 300.1,169.4 298.9,169.5 296.4,170.1 293.7,170.6 291.8,172 291.2,173.7 289.8,175.2 288.1,176.1 286.3,177.1 286.4,178.9 285,180.9 283.3,183.2 280.7,183.3 278.6,181.4 276.8,181.4 275,181.4 273.7,180.1 273.3,177.8 272.4,176.3 271.4,174.8 271.1,173.3 271.7,171.3 270.2,169.2 271.6,167.5 270.8,166.7 273.7,164.1 275.1,163.7 276.6,163.3 277.7,162.3 278.8,160.6 276.5,161.4 275.5,161.7 273.8,162.1 272.1,161.3 272.7,159.8 274,158.7 275.5,158.7 277,158.9 278.6,159.2 277.5,158.6 276.4,157.9 275.4,157.1 273.6,157.4 272.5,156.9 275.4,154.9 274.8,154.1 274.4,152.7 273.8,150.5 272.3,149.7 272.9,148.9 271.2,148.3 269.6,147.7 268,147.6 266.4,147.6 264.4,147.6 262.3,147.7 260.4,147.7 258.5,147.8 257.2,147.2 256.4,146.5 255.6,145.9 257.8,145.6 260.1,145.3 261.6,145.3 263.2,145.2 261.2,145 259.2,144.9 257.2,144.7 255.9,144.3 254.6,143.9 255.5,143.2 257.6,142.9 259.7,142.6 261.9,142.3 263.9,142 266,141.7 268,141.4 269.2,140.7 267.5,140.4 265.9,140.1 267.7,139.4 269.7,139 271.7,138.6 273.7,138.2 275.9,138 275.9,137.3 277.8,137.1 279.6,136.9 281.1,136.8 282.6,136.7 284.1,136.7 285.5,136.6 286.9,136.6 288.3,136.6 289.5,137.1 291.6,136.7 293.8,136.3 295.2,136.6 296.7,136.9Z" fill="#fff"/><path d="M299,136 300.7,135.7 302.4,135.4 304.2,135.1 305.7,135.1 307.3,135.1 308.9,135.1 311,134.6 312.6,134.5 314.2,134.5 315.8,134.4 317.6,134.5 319.4,134.5 321.2,134.5 322.9,134.6 324.7,134.6 326.5,134.6 328.1,134.9 329.7,135.1 331.3,135.3 333,135.6 334.6,135.8 333.2,136.1 331.9,136.4 330.1,136.4 328.3,136.5 326.6,136.5 324.7,136.5 322.8,136.6 320.9,136.6 319.1,136.6 319.6,136.9 321.3,136.9 323,136.8 324.6,136.7 325.9,136.9 327.3,137.1 328.6,137.3 330,137 331.5,136.8 332.4,137.4 330.6,138.3 332.5,138 334.3,137.7 336.1,137.6 337.8,137.4 339.5,137.3 341.3,137.1 342.6,137.2 344,137.3 345.4,137.4 346,138.1 344.1,138.5 342.1,138.9 340,139.3 339.2,139.7 337.6,139.8 336.1,139.9 334.5,140 336.2,140 337.8,140.1 335.8,141.4 334.3,142.6 333.8,144.7 335.3,146 334.1,146 332.9,146.1 331.6,146.4 330.3,146.7 331.6,147.2 332.9,147.7 332.8,149.4 331.1,149.6 332.8,151.4 331,151.4 329.3,151.5 330.9,152.4 330.2,153.1 327.9,153.4 325.7,153.4 327.4,154.8 327.2,155.8 325.7,155.3 324.2,154.9 323.3,155.5 325.3,156 327.1,157.3 327.4,159 325.9,159.2 324.4,159.5 323.3,158.6 321.6,157.4 321.8,158.8 319.6,160 321.8,160 323.9,160.1 326.2,160.2 323.8,161.1 321.3,162.1 318.8,163 316.4,163.8 313.8,164.2 311.2,164.6 309.3,164.6 307.4,165.5 304.3,167.9 302.2,168.6 300.1,169.4 298.9,169.5 296.4,170.1 293.7,170.6 291.8,172 291.2,173.7 289.8,175.2 288.1,176.1 286.3,177.1 286.4,178.9 285,180.9 283.3,183.2 280.7,183.3 278.6,181.4 276.8,181.4 275,181.4 273.7,180.1 273.3,177.8 272.4,176.3 271.4,174.8 271.1,173.3 271.7,171.3 270.2,169.2 271.6,167.5 270.8,166.7 273.7,164.1 275.1,163.7 276.6,163.3 277.7,162.3 278.8,160.6 276.5,161.4 275.5,161.7 273.8,162.1 272.1,161.3 272.7,159.8 274,158.7 275.5,158.7 277,158.9 278.6,159.2 277.5,158.6 276.4,157.9 275.4,157.1 273.6,157.4 272.5,156.9 275.4,154.9 274.8,154.1 274.4,152.7 273.8,150.5 272.3,149.7 272.9,148.9 271.2,148.3 269.6,147.7 268,147.6 266.4,147.6 264.4,147.6 262.3,147.7 260.4,147.7 258.5,147.8 257.2,147.2 256.4,146.5 255.6,145.9 257.8,145.6 260.1,145.3 261.6,145.3 263.2,145.2 261.2,145 259.2,144.9 257.2,144.7 255.9,144.3 254.6,143.9 255.5,143.2 257.6,142.9 259.7,142.6 261.9,142.3 263.9,142 266,141.7 268,141.4 269.2,140.7 267.5,140.4 265.9,140.1 267.7,139.4 269.7,139 271.7,138.6 273.7,138.2 275.9,138 275.9,137.3 277.8,137.1 279.6,136.9 281.1,136.8 282.6,136.7 284.1,136.7 285.5,136.6 286.9,136.6 288.3,136.6 289.5,137.1 291.6,136.7 293.8,136.3 295.2,136.6 296.7,136.9Z" fill="url(#hatch)"/><g clip-path="url(#k10)" stroke="#6a6c6a" stroke-width="0.56" stroke-linejoin="round"></g><path d="M299,136 300.7,135.7 302.4,135.4 304.2,135.1 305.7,135.1 307.3,135.1 308.9,135.1 311,134.6 312.6,134.5 314.2,134.5 315.8,134.4 317.6,134.5 319.4,134.5 321.2,134.5 322.9,134.6 324.7,134.6 326.5,134.6 328.1,134.9 329.7,135.1 331.3,135.3 333,135.6 334.6,135.8 333.2,136.1 331.9,136.4 330.1,136.4 328.3,136.5 326.6,136.5 324.7,136.5 322.8,136.6 320.9,136.6 319.1,136.6 319.6,136.9 321.3,136.9 323,136.8 324.6,136.7 325.9,136.9 327.3,137.1 328.6,137.3 330,137 331.5,136.8 332.4,137.4 330.6,138.3 332.5,138 334.3,137.7 336.1,137.6 337.8,137.4 339.5,137.3 341.3,137.1 342.6,137.2 344,137.3 345.4,137.4 346,138.1 344.1,138.5 342.1,138.9 340,139.3 339.2,139.7 337.6,139.8 336.1,139.9 334.5,140 336.2,140 337.8,140.1 335.8,141.4 334.3,142.6 333.8,144.7 335.3,146 334.1,146 332.9,146.1 331.6,146.4 330.3,146.7 331.6,147.2 332.9,147.7 332.8,149.4 331.1,149.6 332.8,151.4 331,151.4 329.3,151.5 330.9,152.4 330.2,153.1 327.9,153.4 325.7,153.4 327.4,154.8 327.2,155.8 325.7,155.3 324.2,154.9 323.3,155.5 325.3,156 327.1,157.3 327.4,159 325.9,159.2 324.4,159.5 323.3,158.6 321.6,157.4 321.8,158.8 319.6,160 321.8,160 323.9,160.1 326.2,160.2 323.8,161.1 321.3,162.1 318.8,163 316.4,163.8 313.8,164.2 311.2,164.6 309.3,164.6 307.4,165.5 304.3,167.9 302.2,168.6 300.1,169.4 298.9,169.5 296.4,170.1 293.7,170.6 291.8,172 291.2,173.7 289.8,175.2 288.1,176.1 286.3,177.1 286.4,178.9 285,180.9 283.3,183.2 280.7,183.3 278.6,181.4 276.8,181.4 275,181.4 273.7,180.1 273.3,177.8 272.4,176.3 271.4,174.8 271.1,173.3 271.7,171.3 270.2,169.2 271.6,167.5 270.8,166.7 273.7,164.1 275.1,163.7 276.6,163.3 277.7,162.3 278.8,160.6 276.5,161.4 275.5,161.7 273.8,162.1 272.1,161.3 272.7,159.8 274,158.7 275.5,158.7 277,158.9 278.6,159.2 277.5,158.6 276.4,157.9 275.4,157.1 273.6,157.4 272.5,156.9 275.4,154.9 274.8,154.1 274.4,152.7 273.8,150.5 272.3,149.7 272.9,148.9 271.2,148.3 269.6,147.7 268,147.6 266.4,147.6 264.4,147.6 262.3,147.7 260.4,147.7 258.5,147.8 257.2,147.2 256.4,146.5 255.6,145.9 257.8,145.6 260.1,145.3 261.6,145.3 263.2,145.2 261.2,145 259.2,144.9 257.2,144.7 255.9,144.3 254.6,143.9 255.5,143.2 257.6,142.9 259.7,142.6 261.9,142.3 263.9,142 266,141.7 268,141.4 269.2,140.7 267.5,140.4 265.9,140.1 267.7,139.4 269.7,139 271.7,138.6 273.7,138.2 275.9,138 275.9,137.3 277.8,137.1 279.6,136.9 281.1,136.8 282.6,136.7 284.1,136.7 285.5,136.6 286.9,136.6 288.3,136.6 289.5,137.1 291.6,136.7 293.8,136.3 295.2,136.6 296.7,136.9Z" fill="none" stroke="#d2d2d2" stroke-width="0.5" stroke-linejoin="round"/><clipPath id="k11"><path d="M338.1,168.3 337.6,169.8 339.4,171.4 336.9,173.2 334.2,173.9 331.6,174.7 330,175.1 327.7,174.8 325.3,174.5 322.9,174.1 324.8,173.1 322.9,172.5 321.1,171.9 322.7,171.7 324.3,171.5 324.4,170.8 322.6,170.5 320.8,170.3 322.3,168.8 323.6,168.6 325,168.5 326.2,169.2 327.4,170 328.8,169.4 330.2,168.8 332.3,169.4 333.8,168.8 335.3,168.2 336.7,168.3Z"/></clipPath><path d="M338.1,168.3 337.6,169.8 339.4,171.4 336.9,173.2 334.2,173.9 331.6,174.7 330,175.1 327.7,174.8 325.3,174.5 322.9,174.1 324.8,173.1 322.9,172.5 321.1,171.9 322.7,171.7 324.3,171.5 324.4,170.8 322.6,170.5 320.8,170.3 322.3,168.8 323.6,168.6 325,168.5 326.2,169.2 327.4,170 328.8,169.4 330.2,168.8 332.3,169.4 333.8,168.8 335.3,168.2 336.7,168.3Z" fill="#ffffcc"/><g clip-path="url(#k11)" stroke="#6a6c6a" stroke-width="0.56" stroke-linejoin="round"></g><path d="M338.1,168.3 337.6,169.8 339.4,171.4 336.9,173.2 334.2,173.9 331.6,174.7 330,175.1 327.7,174.8 325.3,174.5 322.9,174.1 324.8,173.1 322.9,172.5 321.1,171.9 322.7,171.7 324.3,171.5 324.4,170.8 322.6,170.5 320.8,170.3 322.3,168.8 323.6,168.6 325,168.5 326.2,169.2 327.4,170 328.8,169.4 330.2,168.8 332.3,169.4 333.8,168.8 335.3,168.2 336.7,168.3Z" fill="none" stroke="#7c7c7c" stroke-width="0.5" stroke-linejoin="round"/><clipPath id="k12"><path d="M177.9,277.5 179.8,277.7 181.6,277.8 183.6,278.6 184.3,279.6 186.5,279.3 187.2,279.9 188.9,281.5 190.2,282.7 190.9,282.7 192.2,283.2 192,283.9 193.6,284.1 195.2,285.1 194.9,285.7 193.3,286.1 191.8,286.2 190.2,286 187,286.2 188.6,284.8 187.8,284.1 186.4,283.9 185.7,283.2 185.3,281.7 184.1,281.8 182,281.1 181.4,280.5 178.5,280.2 177.8,279.6 178.7,279 176.5,278.9 174.8,280.2 173.8,280.3 173.4,280.9 172.2,281.2 171.3,280.9 172.6,280.1 173.2,279.2 174.3,278.6 175.5,278.1Z"/></clipPath><path d="M177.9,277.5 179.8,277.7 181.6,277.8 183.6,278.6 184.3,279.6 186.5,279.3 187.2,279.9 188.9,281.5 190.2,282.7 190.9,282.7 192.2,283.2 192,283.9 193.6,284.1 195.2,285.1 194.9,285.7 193.3,286.1 191.8,286.2 190.2,286 187,286.2 188.6,284.8 187.8,284.1 186.4,283.9 185.7,283.2 185.3,281.7 184.1,281.8 182,281.1 181.4,280.5 178.5,280.2 177.8,279.6 178.7,279 176.5,278.9 174.8,280.2 173.8,280.3 173.4,280.9 172.2,281.2 171.3,280.9 172.6,280.1 173.2,279.2 174.3,278.6 175.5,278.1Z" fill="#c7e9b4"/><g clip-path="url(#k12)" stroke="#6a6c6a" stroke-width="0.56" stroke-linejoin="round"></g><path d="M177.9,277.5 179.8,277.7 181.6,277.8 183.6,278.6 184.3,279.6 186.5,279.3 187.2,279.9 188.9,281.5 190.2,282.7 190.9,282.7 192.2,283.2 192,283.9 193.6,284.1 195.2,285.1 194.9,285.7 193.3,286.1 191.8,286.2 190.2,286 187,286.2 188.6,284.8 187.8,284.1 186.4,283.9 185.7,283.2 185.3,281.7 184.1,281.8 182,281.1 181.4,280.5 178.5,280.2 177.8,279.6 178.7,279 176.5,278.9 174.8,280.2 173.8,280.3 173.4,280.9 172.2,281.2 171.3,280.9 172.6,280.1 173.2,279.2 174.3,278.6 175.5,278.1Z" fill="none" stroke="#7c7c7c" stroke-width="0.5" stroke-linejoin="round"/><clipPath id="k13"><path d="M187,289.8 188.5,290.1 189.6,290.7 189.9,291.4 188.3,291.4 187.6,291.9 186.3,291.5 185.1,290.5 185.5,289.9Z"/></clipPath><path d="M187,289.8 188.5,290.1 189.6,290.7 189.9,291.4 188.3,291.4 187.6,291.9 186.3,291.5 185.1,290.5 185.5,289.9Z" fill="#ffffcc"/><g clip-path="url(#k13)" stroke="#6a6c6a" stroke-width="0.56" stroke-linejoin="round"></g><path d="M187,289.8 188.5,290.1 189.6,290.7 189.9,291.4 188.3,291.4 187.6,291.9 186.3,291.5 185.1,290.5 185.5,289.9Z" fill="none" stroke="#7c7c7c" stroke-width="0.5" stroke-linejoin="round"/><clipPath id="k14"><path d="M212.6,289.8 213.8,290 214.1,290.5 213.5,291.1 211.8,291.1 210.4,291.2 210.4,290.1 210.8,289.7Z"/></clipPath><path d="M212.6,289.8 213.8,290 214.1,290.5 213.5,291.1 211.8,291.1 210.4,291.2 210.4,290.1 210.8,289.7Z" fill="#fff"/><path d="M212.6,289.8 213.8,290 214.1,290.5 213.5,291.1 211.8,291.1 210.4,291.2 210.4,290.1 210.8,289.7Z" fill="url(#hatch)"/><g clip-path="url(#k14)" stroke="#6a6c6a" stroke-width="0.56" stroke-linejoin="round"></g><path d="M212.6,289.8 213.8,290 214.1,290.5 213.5,291.1 211.8,291.1 210.4,291.2 210.4,290.1 210.8,289.7Z" fill="none" stroke="#d2d2d2" stroke-width="0.5" stroke-linejoin="round"/><clipPath id="k15"><path d="M188.7,276.1 188.2,276.2 187.8,274.7 187,273.9 187.8,272.3 188.4,272.4 188.9,274.5Z M189.2,268.7 186.7,269.1 186.7,268.1 187.8,267.9 189.2,268Z M191,268.7 190.3,270.5 190,270.2 190.2,268.8 189.4,267.8 189.5,267.5Z M221.6,310 223,309.7 223.5,309.7 223.3,311.7 221.3,312 220.9,311.8 221.6,311Z"/></clipPath><path d="M188.7,276.1 188.2,276.2 187.8,274.7 187,273.9 187.8,272.3 188.4,272.4 188.9,274.5Z M189.2,268.7 186.7,269.1 186.7,268.1 187.8,267.9 189.2,268Z M191,268.7 190.3,270.5 190,270.2 190.2,268.8 189.4,267.8 189.5,267.5Z M221.6,310 223,309.7 223.5,309.7 223.3,311.7 221.3,312 220.9,311.8 221.6,311Z" fill="#ffffcc"/><g clip-path="url(#k15)" stroke="#6a6c6a" stroke-width="0.56" stroke-linejoin="round"></g><path d="M188.7,276.1 188.2,276.2 187.8,274.7 187,273.9 187.8,272.3 188.4,272.4 188.9,274.5Z M189.2,268.7 186.7,269.1 186.7,268.1 187.8,267.9 189.2,268Z M191,268.7 190.3,270.5 190,270.2 190.2,268.8 189.4,267.8 189.5,267.5Z M221.6,310 223,309.7 223.5,309.7 223.3,311.7 221.3,312 220.9,311.8 221.6,311Z" fill="none" stroke="#7c7c7c" stroke-width="0.5" stroke-linejoin="round"/><clipPath id="k16"><path d="M466,146.1 467.7,146.9 467.1,147.5 465.6,147.8 464,148.1 462.5,148.4 461.1,148.8 459.8,149.1 458.4,149.4 457.3,150 456.1,150.7 454.9,151.3 453.7,153.4 453,154.4 452.3,155.4 453.6,157.2 455.7,158 457.7,158.9 456.8,159.1 455,159 453.2,158.9 451.3,158.8 450.4,157.9 448.8,157.6 447.2,157.3 446.4,156.2 447.8,155.7 447.1,154.5 448.2,153.6 449.3,152.7 447.7,152.5 449.1,151.6 450.4,150.7 449.5,149.8 450.9,149.2 452.2,148.7 453.6,148.3 455,147.8 456.4,147.4 458,147.3 459.6,147.2 461.2,147 462.2,146.7 463.2,146.3 464.6,146.2Z M509.2,142.4 507.8,142.5 506.3,142.6 503.9,142.3 501.6,142.1 499.9,141.7 498.2,141.3 495.5,140 493.1,139.7 494.2,139.1 495.4,138.5 496.6,138.4 497.9,138.2 499.8,138.6 501.7,139 504.5,139.8 507.3,140.7 509.2,141.1 511.2,141.5 512.4,141.6 515,142.1 517.6,142.7 518.2,143.4 516.4,143.6 514.5,143.8 512.7,144 510.8,144.2 510.6,142.9 510.3,141.7Z M575.1,147.6 577.2,147.7 579.3,147.7 581.8,148.1 584.2,148.4 586.6,148.8 587.8,150.3 585.9,150.3 583.9,150.2 582,150.2 581.1,150.5 580.1,150.7 577.6,150.1 575.1,149.4 573.7,148Z M589.5,149.6 588.8,148.9 590.5,149.1 592.2,149.2 594.6,149.5 597,149.8 596.5,150.6 595.1,150.5 593.7,150.4 591.6,150Z M658.5,158.7 656.9,158.8 655.5,158.1 656,157.2Z M649.2,206.2 652,208.4 654.8,210.6 651.1,209.8 652.7,213.5 656.5,216.1 657.8,217.9 655.1,216.3 655.2,218.3 653.3,216.2 651.7,213.7 649.4,210.9 648.5,209 645.9,205.7 642.6,203.2 639.9,199.8 640.7,198.6 638.8,197.5 639.4,197.1 641.4,198.8 644.2,201.2 646.3,203.6Z M61.2,162.8 61.9,163.6 62.7,164.4 63.3,165.5 63.9,166.7 61.6,168.1 62,168.6 64,167 66.1,167.2 68.1,167.3 68.3,168.4 68.5,169.4 65.4,170.4 63.8,170.6 62.2,170.7 59.1,172.9 57.7,173.4 56.1,173.3 55.9,172.5 54.5,171.9 55.6,170.8 54.3,170.5 51.9,170.8 52.1,170 53.7,169.1 50.9,169.7 50.1,170.8 47.7,171.7 52.1,168.7 56.6,165.7Z M70.4,157.2 70.7,157.1 72.1,157.1 73.4,157.7 72.7,158 70.2,158.5 67.8,158.7Z"/></clipPath><path d="M466,146.1 467.7,146.9 467.1,147.5 465.6,147.8 464,148.1 462.5,148.4 461.1,148.8 459.8,149.1 458.4,149.4 457.3,150 456.1,150.7 454.9,151.3 453.7,153.4 453,154.4 452.3,155.4 453.6,157.2 455.7,158 457.7,158.9 456.8,159.1 455,159 453.2,158.9 451.3,158.8 450.4,157.9 448.8,157.6 447.2,157.3 446.4,156.2 447.8,155.7 447.1,154.5 448.2,153.6 449.3,152.7 447.7,152.5 449.1,151.6 450.4,150.7 449.5,149.8 450.9,149.2 452.2,148.7 453.6,148.3 455,147.8 456.4,147.4 458,147.3 459.6,147.2 461.2,147 462.2,146.7 463.2,146.3 464.6,146.2Z M509.2,142.4 507.8,142.5 506.3,142.6 503.9,142.3 501.6,142.1 499.9,141.7 498.2,141.3 495.5,140 493.1,139.7 494.2,139.1 495.4,138.5 496.6,138.4 497.9,138.2 499.8,138.6 501.7,139 504.5,139.8 507.3,140.7 509.2,141.1 511.2,141.5 512.4,141.6 515,142.1 517.6,142.7 518.2,143.4 516.4,143.6 514.5,143.8 512.7,144 510.8,144.2 510.6,142.9 510.3,141.7Z M575.1,147.6 577.2,147.7 579.3,147.7 581.8,148.1 584.2,148.4 586.6,148.8 587.8,150.3 585.9,150.3 583.9,150.2 582,150.2 581.1,150.5 580.1,150.7 577.6,150.1 575.1,149.4 573.7,148Z M589.5,149.6 588.8,148.9 590.5,149.1 592.2,149.2 594.6,149.5 597,149.8 596.5,150.6 595.1,150.5 593.7,150.4 591.6,150Z M658.5,158.7 656.9,158.8 655.5,158.1 656,157.2Z M649.2,206.2 652,208.4 654.8,210.6 651.1,209.8 652.7,213.5 656.5,216.1 657.8,217.9 655.1,216.3 655.2,218.3 653.3,216.2 651.7,213.7 649.4,210.9 648.5,209 645.9,205.7 642.6,203.2 639.9,199.8 640.7,198.6 638.8,197.5 639.4,197.1 641.4,198.8 644.2,201.2 646.3,203.6Z M61.2,162.8 61.9,163.6 62.7,164.4 63.3,165.5 63.9,166.7 61.6,168.1 62,168.6 64,167 66.1,167.2 68.1,167.3 68.3,168.4 68.5,169.4 65.4,170.4 63.8,170.6 62.2,170.7 59.1,172.9 57.7,173.4 56.1,173.3 55.9,172.5 54.5,171.9 55.6,170.8 54.3,170.5 51.9,170.8 52.1,170 53.7,169.1 50.9,169.7 50.1,170.8 47.7,171.7 52.1,168.7 56.6,165.7Z M70.4,157.2 70.7,157.1 72.1,157.1 73.4,157.7 72.7,158 70.2,158.5 67.8,158.7Z" fill="#7fcdbb"/><g clip-path="url(#k16)" stroke="#6a6c6a" stroke-width="0.56" stroke-linejoin="round"></g><path d="M466,146.1 467.7,146.9 467.1,147.5 465.6,147.8 464,148.1 462.5,148.4 461.1,148.8 459.8,149.1 458.4,149.4 457.3,150 456.1,150.7 454.9,151.3 453.7,153.4 453,154.4 452.3,155.4 453.6,157.2 455.7,158 457.7,158.9 456.8,159.1 455,159 453.2,158.9 451.3,158.8 450.4,157.9 448.8,157.6 447.2,157.3 446.4,156.2 447.8,155.7 447.1,154.5 448.2,153.6 449.3,152.7 447.7,152.5 449.1,151.6 450.4,150.7 449.5,149.8 450.9,149.2 452.2,148.7 453.6,148.3 455,147.8 456.4,147.4 458,147.3 459.6,147.2 461.2,147 462.2,146.7 463.2,146.3 464.6,146.2Z M509.2,142.4 507.8,142.5 506.3,142.6 503.9,142.3 501.6,142.1 499.9,141.7 498.2,141.3 495.5,140 493.1,139.7 494.2,139.1 495.4,138.5 496.6,138.4 497.9,138.2 499.8,138.6 501.7,139 504.5,139.8 507.3,140.7 509.2,141.1 511.2,141.5 512.4,141.6 515,142.1 517.6,142.7 518.2,143.4 516.4,143.6 514.5,143.8 512.7,144 510.8,144.2 510.6,142.9 510.3,141.7Z M575.1,147.6 577.2,147.7 579.3,147.7 581.8,148.1 584.2,148.4 586.6,148.8 587.8,150.3 585.9,150.3 583.9,150.2 582,150.2 581.1,150.5 580.1,150.7 577.6,150.1 575.1,149.4 573.7,148Z M589.5,149.6 588.8,148.9 590.5,149.1 592.2,149.2 594.6,149.5 597,149.8 596.5,150.6 595.1,150.5 593.7,150.4 591.6,150Z M658.5,158.7 656.9,158.8 655.5,158.1 656,157.2Z M649.2,206.2 652,208.4 654.8,210.6 651.1,209.8 652.7,213.5 656.5,216.1 657.8,217.9 655.1,216.3 655.2,218.3 653.3,216.2 651.7,213.7 649.4,210.9 648.5,209 645.9,205.7 642.6,203.2 639.9,199.8 640.7,198.6 638.8,197.5 639.4,197.1 641.4,198.8 644.2,201.2 646.3,203.6Z M61.2,162.8 61.9,163.6 62.7,164.4 63.3,165.5 63.9,166.7 61.6,168.1 62,168.6 64,167 66.1,167.2 68.1,167.3 68.3,168.4 68.5,169.4 65.4,170.4 63.8,170.6 62.2,170.7 59.1,172.9 57.7,173.4 56.1,173.3 55.9,172.5 54.5,171.9 55.6,170.8 54.3,170.5 51.9,170.8 52.1,170 53.7,169.1 50.9,169.7 50.1,170.8 47.7,171.7 52.1,168.7 56.6,165.7Z M70.4,157.2 70.7,157.1 72.1,157.1 73.4,157.7 72.7,158 70.2,158.5 67.8,158.7Z" fill="none" stroke="#7c7c7c" stroke-width="0.5" stroke-linejoin="round"/><clipPath id="k17"><path d="M385,140.9 385.4,140.2 387.5,140.2 389.5,140.8 391.2,141.3 392.9,141.7 394.6,142.2 392.9,142.6 391.1,143 390.6,144.4 389.4,144.7 389,146.3 387.2,146.4 385.5,145.8 383.8,145.2 385,144.5 383.9,144.3 382.7,144 381.1,143.2 379.6,142.4 378.2,140.9 380.1,140.6 382,140.3 383,140.9Z M402.4,140.2 400.6,141.2 398.6,141.3 396.5,141.4 394.3,141.2 392.2,141.1 391.8,140.6 389.7,140.5 387.9,139.7 389.4,139.6 390.8,139.4 392.2,139.2 394.4,139.7 395.7,139.1 397.5,139.4 399.4,139.6 400.9,139.9Z"/></clipPath><path d="M385,140.9 385.4,140.2 387.5,140.2 389.5,140.8 391.2,141.3 392.9,141.7 394.6,142.2 392.9,142.6 391.1,143 390.6,144.4 389.4,144.7 389,146.3 387.2,146.4 385.5,145.8 383.8,145.2 385,144.5 383.9,144.3 382.7,144 381.1,143.2 379.6,142.4 378.2,140.9 380.1,140.6 382,140.3 383,140.9Z M402.4,140.2 400.6,141.2 398.6,141.3 396.5,141.4 394.3,141.2 392.2,141.1 391.8,140.6 389.7,140.5 387.9,139.7 389.4,139.6 390.8,139.4 392.2,139.2 394.4,139.7 395.7,139.1 397.5,139.4 399.4,139.6 400.9,139.9Z" fill="#7fcdbb"/><g clip-path="url(#k17)" stroke="#6a6c6a" stroke-width="0.56" stroke-linejoin="round"></g><path d="M385,140.9 385.4,140.2 387.5,140.2 389.5,140.8 391.2,141.3 392.9,141.7 394.6,142.2 392.9,142.6 391.1,143 390.6,144.4 389.4,144.7 389,146.3 387.2,146.4 385.5,145.8 383.8,145.2 385,144.5 383.9,144.3 382.7,144 381.1,143.2 379.6,142.4 378.2,140.9 380.1,140.6 382,140.3 383,140.9Z M402.4,140.2 400.6,141.2 398.6,141.3 396.5,141.4 394.3,141.2 392.2,141.1 391.8,140.6 389.7,140.5 387.9,139.7 389.4,139.6 390.8,139.4 392.2,139.2 394.4,139.7 395.7,139.1 397.5,139.4 399.4,139.6 400.9,139.9Z" fill="none" stroke="#7c7c7c" stroke-width="0.5" stroke-linejoin="round"/><clipPath id="k18"><path d="M666.9,241.1 667.2,243.2 668.2,244.5 668,246.3 665.8,247.6 663.9,247.6 662,247.7 660.3,250.7 658.3,249.7 657.4,247.8 655.6,248 653.8,248.3 651.8,249.6 649.3,249.6 652.3,251.5 652.5,253.8 652.6,256 651.6,257.1 650.1,256.1 649.8,253.7 648.1,252.9 646.5,251.1 648.2,250.4 648.7,248.7 650.2,247.4 651,245.6 653,245.2 655,244.8 657.6,245.3 657.6,243 657.5,240.7 659.6,241.9 661.4,239.3 662.1,238.3 661.7,235.1 659.7,232.2 659.6,230.6 661.5,230.1 664.9,233.7 666,235.8 665.5,238.4Z M656.9,248.9 657.6,249.8 657.1,251.4 655.8,250.6 654.9,251.2 655,252.7 653.3,252 652.8,250.7 653.3,249.2 654.7,249.5 655.1,248.4Z M662.2,222.9 664,223.5 664.7,222.4 667.2,225.3 664.5,226 664.4,228.5 662.1,227.6 659.9,226.8 660.6,229.6 658.3,229.6 656.4,227.1 656.1,225.1 658.3,224.9 656.4,221.4 655.7,219.4 660,222Z"/></clipPath><path d="M666.9,241.1 667.2,243.2 668.2,244.5 668,246.3 665.8,247.6 663.9,247.6 662,247.7 660.3,250.7 658.3,249.7 657.4,247.8 655.6,248 653.8,248.3 651.8,249.6 649.3,249.6 652.3,251.5 652.5,253.8 652.6,256 651.6,257.1 650.1,256.1 649.8,253.7 648.1,252.9 646.5,251.1 648.2,250.4 648.7,248.7 650.2,247.4 651,245.6 653,245.2 655,244.8 657.6,245.3 657.6,243 657.5,240.7 659.6,241.9 661.4,239.3 662.1,238.3 661.7,235.1 659.7,232.2 659.6,230.6 661.5,230.1 664.9,233.7 666,235.8 665.5,238.4Z M656.9,248.9 657.6,249.8 657.1,251.4 655.8,250.6 654.9,251.2 655,252.7 653.3,252 652.8,250.7 653.3,249.2 654.7,249.5 655.1,248.4Z M662.2,222.9 664,223.5 664.7,222.4 667.2,225.3 664.5,226 664.4,228.5 662.1,227.6 659.9,226.8 660.6,229.6 658.3,229.6 656.4,227.1 656.1,225.1 658.3,224.9 656.4,221.4 655.7,219.4 660,222Z" fill="#41b6c4"/><g clip-path="url(#k18)" stroke="#6a6c6a" stroke-width="0.56" stroke-linejoin="round"></g><path d="M666.9,241.1 667.2,243.2 668.2,244.5 668,246.3 665.8,247.6 663.9,247.6 662,247.7 660.3,250.7 658.3,249.7 657.4,247.8 655.6,248 653.8,248.3 651.8,249.6 649.3,249.6 652.3,251.5 652.5,253.8 652.6,256 651.6,257.1 650.1,256.1 649.8,253.7 648.1,252.9 646.5,251.1 648.2,250.4 648.7,248.7 650.2,247.4 651,245.6 653,245.2 655,244.8 657.6,245.3 657.6,243 657.5,240.7 659.6,241.9 661.4,239.3 662.1,238.3 661.7,235.1 659.7,232.2 659.6,230.6 661.5,230.1 664.9,233.7 666,235.8 665.5,238.4Z M656.9,248.9 657.6,249.8 657.1,251.4 655.8,250.6 654.9,251.2 655,252.7 653.3,252 652.8,250.7 653.3,249.2 654.7,249.5 655.1,248.4Z M662.2,222.9 664,223.5 664.7,222.4 667.2,225.3 664.5,226 664.4,228.5 662.1,227.6 659.9,226.8 660.6,229.6 658.3,229.6 656.4,227.1 656.1,225.1 658.3,224.9 656.4,221.4 655.7,219.4 660,222Z" fill="none" stroke="#7c7c7c" stroke-width="0.5" stroke-linejoin="round"/><clipPath id="k19"><path d="M636.8,274.4 636.6,276.5 636.3,278.6 635.8,280.7 634.2,278.5 633.5,276.6 634.3,274 635.7,272 636.9,272.8Z"/></clipPath><path d="M636.8,274.4 636.6,276.5 636.3,278.6 635.8,280.7 634.2,278.5 633.5,276.6 634.3,274 635.7,272 636.9,272.8Z" fill="#fff"/><path d="M636.8,274.4 636.6,276.5 636.3,278.6 635.8,280.7 634.2,278.5 633.5,276.6 634.3,274 635.7,272 636.9,272.8Z" fill="url(#hatch)"/><g clip-path="url(#k19)" stroke="#6a6c6a" stroke-width="0.56" stroke-linejoin="round"></g><path d="M636.8,274.4 636.6,276.5 636.3,278.6 635.8,280.7 634.2,278.5 633.5,276.6 634.3,274 635.7,272 636.9,272.8Z" fill="none" stroke="#d2d2d2" stroke-width="0.5" stroke-linejoin="round"/><clipPath id="k20"><path d="M613.7,289.3 612,290.6 610,289.8 609.6,287.5 610.5,286.3 612.8,285.6 614.1,285.7 614.8,286.7 614,287.8Z"/></clipPath><path d="M613.7,289.3 612,290.6 610,289.8 609.6,287.5 610.5,286.3 612.8,285.6 614.1,285.7 614.8,286.7 614,287.8Z" fill="#2c7fb8"/><g clip-path="url(#k20)" stroke="#6a6c6a" stroke-width="0.56" stroke-linejoin="round"></g><path d="M613.7,289.3 612,290.6 610,289.8 609.6,287.5 610.5,286.3 612.8,285.6 614.1,285.7 614.8,286.7 614,287.8Z" fill="none" stroke="#7c7c7c" stroke-width="0.5" stroke-linejoin="round"/><clipPath id="k21"><path d="M551.3,318.5 551.1,321.2 550.1,321.9 548.2,322.5 547,320.4 546.4,316.7 546.8,314.6 547.2,312.5 548.9,313.9 550,315.7Z"/></clipPath><path d="M551.3,318.5 551.1,321.2 550.1,321.9 548.2,322.5 547,320.4 546.4,316.7 546.8,314.6 547.2,312.5 548.9,313.9 550,315.7Z" fill="#ffffcc"/><g clip-path="url(#k21)" stroke="#6a6c6a" stroke-width="0.56" stroke-linejoin="round"></g><path d="M551.3,318.5 551.1,321.2 550.1,321.9 548.2,322.5 547,320.4 546.4,316.7 546.8,314.6 547.2,312.5 548.9,313.9 550,315.7Z" fill="none" stroke="#7c7c7c" stroke-width="0.5" stroke-linejoin="round"/><clipPath id="k22"><path d="M582.6,323.8 585.1,324.1 587.7,324.4 589.8,326.9 591.7,328.7 593,329.8 595.3,332.6 597.6,332.7 599.6,334.4 600.9,336.6 602.7,337.8 601.8,340 603.1,340.9 603.9,340.9 604.3,342.7 605,344.2 606.7,344.4 607.8,346.1 607.1,349.4 607,351.4 606.8,353.4 604.3,353.4 602.4,351.3 599.5,349.1 598.6,347.5 597,345.4 595.9,343.5 594.2,339.8 592.1,337.6 591.4,335.4 590.6,333.3 588.5,331.7 587.2,329.5 585.4,328 582.9,325.1Z M605.6,356 607.3,353.5 610.1,353.6 611.9,354.7 612.9,354.9 613.1,355.8 615.3,355.9 617.5,356.1 618.1,355 620.2,355.6 622.3,356.2 623,357.9 624.7,358.2 626.5,358.4 629.2,360 626.5,360.9 624,359.9 621.9,360 619.6,359.8 617.4,359.3 614.8,358.3 613.2,358.1 612.2,358.4 610.1,357.8 608.1,357.3 607.7,356.2Z M640.1,339.5 642.1,341.8 643.4,340.6 645.5,340.2 647.7,339.7 647.5,340.9 646.5,340.5 645.4,342.1 643.4,343.1 645.5,346.4 645,347.3 646.9,350.3 646.8,352 645.5,352.8 644.7,351.9 645.9,349.7 643.6,350.8 643.1,350 643.4,349 641.8,347.5 642.1,345 640.5,345.8 640.6,348.8 640.5,352.5 639,352.9 638.1,352.1 638.9,349.7 638.6,347.2 637.7,347.2 637,345.4 638,343.7 638.4,341.6 639,339.7 639.6,337.7 640.1,336.6 642,334.7 643.8,335.5 646.7,335.8 649.4,335.7 651.6,333.8 652,334.4 650.2,337 648.5,337.5 646.2,337 644.3,337 642.4,337.1 640.4,337.5Z M631.5,359.8 634.3,359.3 635.1,359.9 636.8,359.8 638.8,360.2 640.7,359.6 642,360.4 643.6,360.2 645.8,359.2 645.3,360.7 643.6,361.1 641.8,361.4 638.8,361.1 636.9,360.8 634.3,361.4 632.7,361.7 631.4,361.7Z M640.5,364.1 639.8,363.4 638.6,362.5 636.4,363.1 639.3,364.9Z M658.2,332.4 658.4,333.8 659.7,334.1 660,335.1 659.9,337.4 658.7,337.2 658.3,338.8 659.3,340.1 658.6,340.5 657.7,338.8 657,335.5 657.4,333.4Z M661.4,345.4 664,346.2 664.7,348.2 662.8,347.1 660.9,346.9 659.6,347.1 658,347 658.6,345.5Z M656.5,347.1 655.6,348 654,347.5 653.6,346.4 656,346.3Z"/></clipPath><path d="M582.6,323.8 585.1,324.1 587.7,324.4 589.8,326.9 591.7,328.7 593,329.8 595.3,332.6 597.6,332.7 599.6,334.4 600.9,336.6 602.7,337.8 601.8,340 603.1,340.9 603.9,340.9 604.3,342.7 605,344.2 606.7,344.4 607.8,346.1 607.1,349.4 607,351.4 606.8,353.4 604.3,353.4 602.4,351.3 599.5,349.1 598.6,347.5 597,345.4 595.9,343.5 594.2,339.8 592.1,337.6 591.4,335.4 590.6,333.3 588.5,331.7 587.2,329.5 585.4,328 582.9,325.1Z M605.6,356 607.3,353.5 610.1,353.6 611.9,354.7 612.9,354.9 613.1,355.8 615.3,355.9 617.5,356.1 618.1,355 620.2,355.6 622.3,356.2 623,357.9 624.7,358.2 626.5,358.4 629.2,360 626.5,360.9 624,359.9 621.9,360 619.6,359.8 617.4,359.3 614.8,358.3 613.2,358.1 612.2,358.4 610.1,357.8 608.1,357.3 607.7,356.2Z M640.1,339.5 642.1,341.8 643.4,340.6 645.5,340.2 647.7,339.7 647.5,340.9 646.5,340.5 645.4,342.1 643.4,343.1 645.5,346.4 645,347.3 646.9,350.3 646.8,352 645.5,352.8 644.7,351.9 645.9,349.7 643.6,350.8 643.1,350 643.4,349 641.8,347.5 642.1,345 640.5,345.8 640.6,348.8 640.5,352.5 639,352.9 638.1,352.1 638.9,349.7 638.6,347.2 637.7,347.2 637,345.4 638,343.7 638.4,341.6 639,339.7 639.6,337.7 640.1,336.6 642,334.7 643.8,335.5 646.7,335.8 649.4,335.7 651.6,333.8 652,334.4 650.2,337 648.5,337.5 646.2,337 644.3,337 642.4,337.1 640.4,337.5Z M631.5,359.8 634.3,359.3 635.1,359.9 636.8,359.8 638.8,360.2 640.7,359.6 642,360.4 643.6,360.2 645.8,359.2 645.3,360.7 643.6,361.1 641.8,361.4 638.8,361.1 636.9,360.8 634.3,361.4 632.7,361.7 631.4,361.7Z M640.5,364.1 639.8,363.4 638.6,362.5 636.4,363.1 639.3,364.9Z M658.2,332.4 658.4,333.8 659.7,334.1 660,335.1 659.9,337.4 658.7,337.2 658.3,338.8 659.3,340.1 658.6,340.5 657.7,338.8 657,335.5 657.4,333.4Z M661.4,345.4 664,346.2 664.7,348.2 662.8,347.1 660.9,346.9 659.6,347.1 658,347 658.6,345.5Z M656.5,347.1 655.6,348 654,347.5 653.6,346.4 656,346.3Z" fill="#7fcdbb"/><g clip-path="url(#k22)" stroke="#6a6c6a" stroke-width="0.56" stroke-linejoin="round"></g><path d="M582.6,323.8 585.1,324.1 587.7,324.4 589.8,326.9 591.7,328.7 593,329.8 595.3,332.6 597.6,332.7 599.6,334.4 600.9,336.6 602.7,337.8 601.8,340 603.1,340.9 603.9,340.9 604.3,342.7 605,344.2 606.7,344.4 607.8,346.1 607.1,349.4 607,351.4 606.8,353.4 604.3,353.4 602.4,351.3 599.5,349.1 598.6,347.5 597,345.4 595.9,343.5 594.2,339.8 592.1,337.6 591.4,335.4 590.6,333.3 588.5,331.7 587.2,329.5 585.4,328 582.9,325.1Z M605.6,356 607.3,353.5 610.1,353.6 611.9,354.7 612.9,354.9 613.1,355.8 615.3,355.9 617.5,356.1 618.1,355 620.2,355.6 622.3,356.2 623,357.9 624.7,358.2 626.5,358.4 629.2,360 626.5,360.9 624,359.9 621.9,360 619.6,359.8 617.4,359.3 614.8,358.3 613.2,358.1 612.2,358.4 610.1,357.8 608.1,357.3 607.7,356.2Z M640.1,339.5 642.1,341.8 643.4,340.6 645.5,340.2 647.7,339.7 647.5,340.9 646.5,340.5 645.4,342.1 643.4,343.1 645.5,346.4 645,347.3 646.9,350.3 646.8,352 645.5,352.8 644.7,351.9 645.9,349.7 643.6,350.8 643.1,350 643.4,349 641.8,347.5 642.1,345 640.5,345.8 640.6,348.8 640.5,352.5 639,352.9 638.1,352.1 638.9,349.7 638.6,347.2 637.7,347.2 637,345.4 638,343.7 638.4,341.6 639,339.7 639.6,337.7 640.1,336.6 642,334.7 643.8,335.5 646.7,335.8 649.4,335.7 651.6,333.8 652,334.4 650.2,337 648.5,337.5 646.2,337 644.3,337 642.4,337.1 640.4,337.5Z M631.5,359.8 634.3,359.3 635.1,359.9 636.8,359.8 638.8,360.2 640.7,359.6 642,360.4 643.6,360.2 645.8,359.2 645.3,360.7 643.6,361.1 641.8,361.4 638.8,361.1 636.9,360.8 634.3,361.4 632.7,361.7 631.4,361.7Z M640.5,364.1 639.8,363.4 638.6,362.5 636.4,363.1 639.3,364.9Z M658.2,332.4 658.4,333.8 659.7,334.1 660,335.1 659.9,337.4 658.7,337.2 658.3,338.8 659.3,340.1 658.6,340.5 657.7,338.8 657,335.5 657.4,333.4Z M661.4,345.4 664,346.2 664.7,348.2 662.8,347.1 660.9,346.9 659.6,347.1 658,347 658.6,345.5Z M656.5,347.1 655.6,348 654,347.5 653.6,346.4 656,346.3Z" fill="none" stroke="#7c7c7c" stroke-width="0.5" stroke-linejoin="round"/><clipPath id="k23"><path d="M638.8,289.8 640.3,290.5 640.9,289.8 641.2,290.5 641,291.6 642.1,293.5 641.8,295.6 640.6,296.5 640.6,298.6 641.4,300.7 642.6,301 643.6,300.7 646.7,302.1 646.6,303.5 647.4,304.2 647.4,305.4 645.4,304.1 644.4,302.7 643.9,303.7 642.3,302.1 640.2,302.5 639,301.9 639,300.8 639.6,300.2 638.9,299.6 638.7,300.5 637.4,299 636.9,297.9 636.4,295.4 637.5,296.2 637.3,294.2 637,292.1 637.4,289.8Z M653.7,316.1 654.1,317.9 654.3,319.3 653.7,321.7 652.6,319.1 651.7,320.4 652.5,322.3 651.9,323.5 649.1,322 648.4,320.1 649,318.9 647.4,317.7 646.8,318.7 645.7,318.6 644.1,320.1 643.7,319.3 644.4,317.1 645.8,316.4 647,315.4 647.9,316.6 649.6,315.9 649.9,314.7 651.5,314.6 651.2,312.6Z M647.6,309.4 649.3,308.3 649.9,305.5 650.7,306.2 651.7,309.4 649.8,308.6 650.2,312 648.8,309.6 647.8,311.2 647,312.2 646.4,313.8 644.7,312 645.1,309.6 645.4,307.8 644,307.8 642.6,307 643.2,310.7 642.8,309.6 644.3,310.9 645.8,314.6 646.9,311.2Z M637.2,308.4 637.8,310.6 636.5,312 635.4,313.8 632.5,316.2 633.5,314.4 635.1,312.8 636.3,311Z"/></clipPath><path d="M638.8,289.8 640.3,290.5 640.9,289.8 641.2,290.5 641,291.6 642.1,293.5 641.8,295.6 640.6,296.5 640.6,298.6 641.4,300.7 642.6,301 643.6,300.7 646.7,302.1 646.6,303.5 647.4,304.2 647.4,305.4 645.4,304.1 644.4,302.7 643.9,303.7 642.3,302.1 640.2,302.5 639,301.9 639,300.8 639.6,300.2 638.9,299.6 638.7,300.5 637.4,299 636.9,297.9 636.4,295.4 637.5,296.2 637.3,294.2 637,292.1 637.4,289.8Z M653.7,316.1 654.1,317.9 654.3,319.3 653.7,321.7 652.6,319.1 651.7,320.4 652.5,322.3 651.9,323.5 649.1,322 648.4,320.1 649,318.9 647.4,317.7 646.8,318.7 645.7,318.6 644.1,320.1 643.7,319.3 644.4,317.1 645.8,316.4 647,315.4 647.9,316.6 649.6,315.9 649.9,314.7 651.5,314.6 651.2,312.6Z M647.6,309.4 649.3,308.3 649.9,305.5 650.7,306.2 651.7,309.4 649.8,308.6 650.2,312 648.8,309.6 647.8,311.2 647,312.2 646.4,313.8 644.7,312 645.1,309.6 645.4,307.8 644,307.8 642.6,307 643.2,310.7 642.8,309.6 644.3,310.9 645.8,314.6 646.9,311.2Z M637.2,308.4 637.8,310.6 636.5,312 635.4,313.8 632.5,316.2 633.5,314.4 635.1,312.8 636.3,311Z" fill="#7fcdbb"/><g clip-path="url(#k23)" stroke="#6a6c6a" stroke-width="0.56" stroke-linejoin="round"></g><path d="M638.8,289.8 640.3,290.5 640.9,289.8 641.2,290.5 641,291.6 642.1,293.5 641.8,295.6 640.6,296.5 640.6,298.6 641.4,300.7 642.6,301 643.6,300.7 646.7,302.1 646.6,303.5 647.4,304.2 647.4,305.4 645.4,304.1 644.4,302.7 643.9,303.7 642.3,302.1 640.2,302.5 639,301.9 639,300.8 639.6,300.2 638.9,299.6 638.7,300.5 637.4,299 636.9,297.9 636.4,295.4 637.5,296.2 637.3,294.2 637,292.1 637.4,289.8Z M653.7,316.1 654.1,317.9 654.3,319.3 653.7,321.7 652.6,319.1 651.7,320.4 652.5,322.3 651.9,323.5 649.1,322 648.4,320.1 649,318.9 647.4,317.7 646.8,318.7 645.7,318.6 644.1,320.1 643.7,319.3 644.4,317.1 645.8,316.4 647,315.4 647.9,316.6 649.6,315.9 649.9,314.7 651.5,314.6 651.2,312.6Z M647.6,309.4 649.3,308.3 649.9,305.5 650.7,306.2 651.7,309.4 649.8,308.6 650.2,312 648.8,309.6 647.8,311.2 647,312.2 646.4,313.8 644.7,312 645.1,309.6 645.4,307.8 644,307.8 642.6,307 643.2,310.7 642.8,309.6 644.3,310.9 645.8,314.6 646.9,311.2Z M637.2,308.4 637.8,310.6 636.5,312 635.4,313.8 632.5,316.2 633.5,314.4 635.1,312.8 636.3,311Z" fill="none" stroke="#7c7c7c" stroke-width="0.5" stroke-linejoin="round"/><clipPath id="k24"><path d="M357.6,186.7 355.5,189.3 357.4,189 359.5,189 359,191 357.2,193.2 359.2,193.3 361,196.5 362.3,196.9 363.5,199.7 364.1,200.7 366.5,201.2 366.2,202.8 365.2,203.5 366,204.8 364.3,206.1 361.6,206.1 359.9,206.4 358.2,206.8 357.3,206.3 355.9,207.5 354.1,207.2 352.7,208.1 351.6,207.6 354.6,205 356.4,204.4 354.9,204.2 353.3,204 352.8,203 354.9,202.3 353.8,200.9 354.2,199.3 357.1,199.5 357.4,198.1 356.2,196.5 353.8,196.1 353.4,195.4 354.1,194.3 353.5,193.6 352.4,194.8 352.4,192.4 351.5,191.2 352.3,188.7 353.8,186.7 355.3,186.9Z"/></clipPath><path d="M357.6,186.7 355.5,189.3 357.4,189 359.5,189 359,191 357.2,193.2 359.2,193.3 361,196.5 362.3,196.9 363.5,199.7 364.1,200.7 366.5,201.2 366.2,202.8 365.2,203.5 366,204.8 364.3,206.1 361.6,206.1 359.9,206.4 358.2,206.8 357.3,206.3 355.9,207.5 354.1,207.2 352.7,208.1 351.6,207.6 354.6,205 356.4,204.4 354.9,204.2 353.3,204 352.8,203 354.9,202.3 353.8,200.9 354.2,199.3 357.1,199.5 357.4,198.1 356.2,196.5 353.8,196.1 353.4,195.4 354.1,194.3 353.5,193.6 352.4,194.8 352.4,192.4 351.5,191.2 352.3,188.7 353.8,186.7 355.3,186.9Z" fill="#2c7fb8"/><g clip-path="url(#k24)" stroke="#6a6c6a" stroke-width="0.56" stroke-linejoin="round"></g><path d="M357.6,186.7 355.5,189.3 357.4,189 359.5,189 359,191 357.2,193.2 359.2,193.3 361,196.5 362.3,196.9 363.5,199.7 364.1,200.7 366.5,201.2 366.2,202.8 365.2,203.5 366,204.8 364.3,206.1 361.6,206.1 359.9,206.4 358.2,206.8 357.3,206.3 355.9,207.5 354.1,207.2 352.7,208.1 351.6,207.6 354.6,205 356.4,204.4 354.9,204.2 353.3,204 352.8,203 354.9,202.3 353.8,200.9 354.2,199.3 357.1,199.5 357.4,198.1 356.2,196.5 353.8,196.1 353.4,195.4 354.1,194.3 353.5,193.6 352.4,194.8 352.4,192.4 351.5,191.2 352.3,188.7 353.8,186.7 355.3,186.9Z" fill="none" stroke="#7c7c7c" stroke-width="0.5" stroke-linejoin="round"/><clipPath id="k25"><path d="M396.4,238.3 395.8,240.3 396.2,241.2 395.8,242.5 394.1,241.5 393,241.2 389.9,239.9 390.1,238.6 392.7,238.8 394.8,238.5Z M382.6,230.6 384,232.4 383.8,235.8 382.8,235.7 382,236.5 381.2,235.8 381,232.7 380.4,231.2 381.6,231.4Z"/></clipPath><path d="M396.4,238.3 395.8,240.3 396.2,241.2 395.8,242.5 394.1,241.5 393,241.2 389.9,239.9 390.1,238.6 392.7,238.8 394.8,238.5Z M382.6,230.6 384,232.4 383.8,235.8 382.8,235.7 382,236.5 381.2,235.8 381,232.7 380.4,231.2 381.6,231.4Z" fill="#41b6c4"/><g clip-path="url(#k25)" stroke="#6a6c6a" stroke-width="0.56" stroke-linejoin="round"></g><path d="M396.4,238.3 395.8,240.3 396.2,241.2 395.8,242.5 394.1,241.5 393,241.2 389.9,239.9 390.1,238.6 392.7,238.8 394.8,238.5Z M382.6,230.6 384,232.4 383.8,235.8 382.8,235.7 382,236.5 381.2,235.8 381,232.7 380.4,231.2 381.6,231.4Z" fill="none" stroke="#7c7c7c" stroke-width="0.5" stroke-linejoin="round"/><clipPath id="k26"><path d="M383.3,228.1 382.7,230.1 381.7,229.6 381.1,227.8 381.5,226.9 382.8,225.9Z"/></clipPath><path d="M383.3,228.1 382.7,230.1 381.7,229.6 381.1,227.8 381.5,226.9 382.8,225.9Z" fill="#2c7fb8"/><g clip-path="url(#k26)" stroke="#6a6c6a" stroke-width="0.56" stroke-linejoin="round"></g><path d="M383.3,228.1 382.7,230.1 381.7,229.6 381.1,227.8 381.5,226.9 382.8,225.9Z" fill="none" stroke="#7c7c7c" stroke-width="0.5" stroke-linejoin="round"/><clipPath id="k27"><path d="M414.6,244.9 415.8,245.7 417.5,245.6 419.1,245.8 420.3,245.9 420.1,246.7 416.9,246.9 416.9,246.5 414.2,246Z"/></clipPath><path d="M414.6,244.9 415.8,245.7 417.5,245.6 419.1,245.8 420.3,245.9 420.1,246.7 416.9,246.9 416.9,246.5 414.2,246Z" fill="#7fcdbb"/><g clip-path="url(#k27)" stroke="#6a6c6a" stroke-width="0.56" stroke-linejoin="round"></g><path d="M414.6,244.9 415.8,245.7 417.5,245.6 419.1,245.8 420.3,245.9 420.1,246.7 416.9,246.9 416.9,246.5 414.2,246Z" fill="none" stroke="#7c7c7c" stroke-width="0.5" stroke-linejoin="round"/><clipPath id="k28"><path d="M434.3,246.3 434.7,245.7 436.3,245.7 438.2,245 436.8,246.1 437.1,246.8 435.1,247.8 433.9,247.5 433.3,246.4Z"/></clipPath><path d="M434.3,246.3 434.7,245.7 436.3,245.7 438.2,245 436.8,246.1 437.1,246.8 435.1,247.8 433.9,247.5 433.3,246.4Z" fill="#c7e9b4"/><g clip-path="url(#k28)" stroke="#6a6c6a" stroke-width="0.56" stroke-linejoin="round"></g><path d="M434.3,246.3 434.7,245.7 436.3,245.7 438.2,245 436.8,246.1 437.1,246.8 435.1,247.8 433.9,247.5 433.3,246.4Z" fill="none" stroke="#7c7c7c" stroke-width="0.5" stroke-linejoin="round"/><clipPath id="k29"><path d="M386.8,192.8 387.5,194.1 386.5,196 384.4,194.7 384,193.6 385.9,193.3Z"/></clipPath><path d="M386.8,192.8 387.5,194.1 386.5,196 384.4,194.7 384,193.6 385.9,193.3Z" fill="#41b6c4"/><g clip-path="url(#k29)" stroke="#6a6c6a" stroke-width="0.56" stroke-linejoin="round"></g><path d="M386.8,192.8 387.5,194.1 386.5,196 384.4,194.7 384,193.6 385.9,193.3Z" fill="none" stroke="#7c7c7c" stroke-width="0.5" stroke-linejoin="round"/><clipPath id="k30"><path d="M715,347.7 715.8,348.5 716,349.9 715.2,350.6 714.9,349 714.4,348 713.4,347.1 712.2,346 710.5,345.3 711.2,344.6 712.4,345.4 713.2,345.9 714.1,346.6Z M711.5,353.3 710.2,354 709,354.6 707.8,354.6 705.9,353.8 704.7,353.1 704.9,352.3 707,352.7 708.2,352.5 708.7,351.2 709,351.2 709.1,352.5 710.5,352.4 711.2,351.4 712.5,350.5 712.4,349 713.8,348.9 714.2,349.4 714,350.8 713.2,352.4 711.9,352.6Z M721.9,355.9 721.2,356.2 720.3,355.2 719.4,353.5 719,351.5 719.4,351.3 719.6,352 720.2,352.6 721.2,354.3 722.3,355.2Z M734.5,363.2 734.1,363.6 732.7,361.4 732.3,359.8 733.1,359.8 733.7,361.9Z M732.5,363.9 731.6,364 730.3,363.7 729.8,363.3 730.1,362.2 731.5,362.6 732.2,363.2Z M730.3,359 730.7,359.9 730.8,360.4 729.1,359.3 727.9,358.3 727.1,357.5 727.5,357.2 728.5,357.8Z M724.7,356.4 725.6,357.3 725.1,357.4 724.1,356.8 723.3,355.8 723.4,355.3Z M735.2,365.5 735.8,366.4 734.2,366.4 733.5,364.7 734.8,365.4Z M744.6,379.6 745.7,381.1 744.8,381.4 744.3,380.3Z M743.7,379 743.5,378.3 743.9,376.3 744.8,377.1 744.8,379.2 744.2,378.9Z M769.1,383.4 769.7,384.1 769,385.5 767.5,385.9 766.3,385.5 766.4,384.4 767.5,383.5Z M771.7,382 770.1,382.5 770.1,381.6 771.3,381 772.1,380.9 773.6,380.1 773.3,381.3Z"/></clipPath><path d="M715,347.7 715.8,348.5 716,349.9 715.2,350.6 714.9,349 714.4,348 713.4,347.1 712.2,346 710.5,345.3 711.2,344.6 712.4,345.4 713.2,345.9 714.1,346.6Z M711.5,353.3 710.2,354 709,354.6 707.8,354.6 705.9,353.8 704.7,353.1 704.9,352.3 707,352.7 708.2,352.5 708.7,351.2 709,351.2 709.1,352.5 710.5,352.4 711.2,351.4 712.5,350.5 712.4,349 713.8,348.9 714.2,349.4 714,350.8 713.2,352.4 711.9,352.6Z M721.9,355.9 721.2,356.2 720.3,355.2 719.4,353.5 719,351.5 719.4,351.3 719.6,352 720.2,352.6 721.2,354.3 722.3,355.2Z M734.5,363.2 734.1,363.6 732.7,361.4 732.3,359.8 733.1,359.8 733.7,361.9Z M732.5,363.9 731.6,364 730.3,363.7 729.8,363.3 730.1,362.2 731.5,362.6 732.2,363.2Z M730.3,359 730.7,359.9 730.8,360.4 729.1,359.3 727.9,358.3 727.1,357.5 727.5,357.2 728.5,357.8Z M724.7,356.4 725.6,357.3 725.1,357.4 724.1,356.8 723.3,355.8 723.4,355.3Z M735.2,365.5 735.8,366.4 734.2,366.4 733.5,364.7 734.8,365.4Z M744.6,379.6 745.7,381.1 744.8,381.4 744.3,380.3Z M743.7,379 743.5,378.3 743.9,376.3 744.8,377.1 744.8,379.2 744.2,378.9Z M769.1,383.4 769.7,384.1 769,385.5 767.5,385.9 766.3,385.5 766.4,384.4 767.5,383.5Z M771.7,382 770.1,382.5 770.1,381.6 771.3,381 772.1,380.9 773.6,380.1 773.3,381.3Z" fill="#ffffcc"/><g clip-path="url(#k30)" stroke="#6a6c6a" stroke-width="0.56" stroke-linejoin="round"></g><path d="M715,347.7 715.8,348.5 716,349.9 715.2,350.6 714.9,349 714.4,348 713.4,347.1 712.2,346 710.5,345.3 711.2,344.6 712.4,345.4 713.2,345.9 714.1,346.6Z M711.5,353.3 710.2,354 709,354.6 707.8,354.6 705.9,353.8 704.7,353.1 704.9,352.3 707,352.7 708.2,352.5 708.7,351.2 709,351.2 709.1,352.5 710.5,352.4 711.2,351.4 712.5,350.5 712.4,349 713.8,348.9 714.2,349.4 714,350.8 713.2,352.4 711.9,352.6Z M721.9,355.9 721.2,356.2 720.3,355.2 719.4,353.5 719,351.5 719.4,351.3 719.6,352 720.2,352.6 721.2,354.3 722.3,355.2Z M734.5,363.2 734.1,363.6 732.7,361.4 732.3,359.8 733.1,359.8 733.7,361.9Z M732.5,363.9 731.6,364 730.3,363.7 729.8,363.3 730.1,362.2 731.5,362.6 732.2,363.2Z M730.3,359 730.7,359.9 730.8,360.4 729.1,359.3 727.9,358.3 727.1,357.5 727.5,357.2 728.5,357.8Z M724.7,356.4 725.6,357.3 725.1,357.4 724.1,356.8 723.3,355.8 723.4,355.3Z M735.2,365.5 735.8,366.4 734.2,366.4 733.5,364.7 734.8,365.4Z M744.6,379.6 745.7,381.1 744.8,381.4 744.3,380.3Z M743.7,379 743.5,378.3 743.9,376.3 744.8,377.1 744.8,379.2 744.2,378.9Z M769.1,383.4 769.7,384.1 769,385.5 767.5,385.9 766.3,385.5 766.4,384.4 767.5,383.5Z M771.7,382 770.1,382.5 770.1,381.6 771.3,381 772.1,380.9 773.6,380.1 773.3,381.3Z" fill="none" stroke="#7c7c7c" stroke-width="0.5" stroke-linejoin="round"/><clipPath id="k31"><path d="M738,393.1 739.5,394.8 740.3,396 739.3,396.6 738.2,395.9 736.9,394.7 735.8,393.3 734.8,391.5 734.7,390.6 735.7,390.6 736.7,391.5 737.5,392.4Z"/></clipPath><path d="M738,393.1 739.5,394.8 740.3,396 739.3,396.6 738.2,395.9 736.9,394.7 735.8,393.3 734.8,391.5 734.7,390.6 735.7,390.6 736.7,391.5 737.5,392.4Z" fill="#ffffcc"/><g clip-path="url(#k31)" stroke="#6a6c6a" stroke-width="0.56" stroke-linejoin="round"></g><path d="M738,393.1 739.5,394.8 740.3,396 739.3,396.6 738.2,395.9 736.9,394.7 735.8,393.3 734.8,391.5 734.7,390.6 735.7,390.6 736.7,391.5 737.5,392.4Z" fill="none" stroke="#7c7c7c" stroke-width="0.5" stroke-linejoin="round"/><clipPath id="k32"><path d="M502.5,464.7 503.5,465.5 505.3,465.8 505.1,466.3 504.1,467.4 502.6,467.5 501,467.6 501.5,466.2 502.1,465.2Z"/></clipPath><path d="M502.5,464.7 503.5,465.5 505.3,465.8 505.1,466.3 504.1,467.4 502.6,467.5 501,467.6 501.5,466.2 502.1,465.2Z" fill="#fff"/><path d="M502.5,464.7 503.5,465.5 505.3,465.8 505.1,466.3 504.1,467.4 502.6,467.5 501,467.6 501.5,466.2 502.1,465.2Z" fill="url(#hatch)"/><g clip-path="url(#k32)" stroke="#6a6c6a" stroke-width="0.56" stroke-linejoin="round"></g><path d="M502.5,464.7 503.5,465.5 505.3,465.8 505.1,466.3 504.1,467.4 502.6,467.5 501,467.6 501.5,466.2 502.1,465.2Z" fill="none" stroke="#d2d2d2" stroke-width="0.5" stroke-linejoin="round"/><clipPath id="k33"><path d="M431.7,139.9 433.3,140.1 434.8,140.3 435.5,139.7 436.1,139.1 433.9,138.7 432.2,138.8 430.4,138.8 429.5,139.8 430.6,139.9Z M439.3,139.6 441.1,139.7 442.8,139.8 444.6,139.9 446.2,139.7 447.7,139.4 448.5,139.1 449.3,138.7 447.6,138.7 445.9,138.6 444.2,138.6 442.9,138.6 441.5,138.7 440.1,138.7Z"/></clipPath><path d="M431.7,139.9 433.3,140.1 434.8,140.3 435.5,139.7 436.1,139.1 433.9,138.7 432.2,138.8 430.4,138.8 429.5,139.8 430.6,139.9Z M439.3,139.6 441.1,139.7 442.8,139.8 444.6,139.9 446.2,139.7 447.7,139.4 448.5,139.1 449.3,138.7 447.6,138.7 445.9,138.6 444.2,138.6 442.9,138.6 441.5,138.7 440.1,138.7Z" fill="#7fcdbb"/><g clip-path="url(#k33)" stroke="#6a6c6a" stroke-width="0.56" stroke-linejoin="round"></g><path d="M431.7,139.9 433.3,140.1 434.8,140.3 435.5,139.7 436.1,139.1 433.9,138.7 432.2,138.8 430.4,138.8 429.5,139.8 430.6,139.9Z M439.3,139.6 441.1,139.7 442.8,139.8 444.6,139.9 446.2,139.7 447.7,139.4 448.5,139.1 449.3,138.7 447.6,138.7 445.9,138.6 444.2,138.6 442.9,138.6 441.5,138.7 440.1,138.7Z" fill="none" stroke="#7c7c7c" stroke-width="0.5" stroke-linejoin="round"/><clipPath id="k34"><path d="M200.6,286.6 200.9,286.2 202.7,286.2 204,286.9 204.6,286.8 204.9,287.7 206.2,287.7 206,288.4 207,288.5 208,289.5 207.1,290.5 206,290 205,290.1 204.3,290 203.8,290.4 202.9,290.6 202.6,290 201.8,290.4 200.7,292.1 200.2,291.7 200.2,291 198.7,290.5 197.6,290.7 196.2,290.5 195.1,291 194,290.2 194.3,289.4 196.3,289.7 198,289.9 198.9,289.3 198,288.2 198.1,287.2 196.7,286.8 197.3,286.1 198.7,286.2Z"/></clipPath><path d="M200.6,286.6 200.9,286.2 202.7,286.2 204,286.9 204.6,286.8 204.9,287.7 206.2,287.7 206,288.4 207,288.5 208,289.5 207.1,290.5 206,290 205,290.1 204.3,290 203.8,290.4 202.9,290.6 202.6,290 201.8,290.4 200.7,292.1 200.2,291.7 200.2,291 198.7,290.5 197.6,290.7 196.2,290.5 195.1,291 194,290.2 194.3,289.4 196.3,289.7 198,289.9 198.9,289.3 198,288.2 198.1,287.2 196.7,286.8 197.3,286.1 198.7,286.2Z" fill="#ffffcc"/><g clip-path="url(#k34)" stroke="#6a6c6a" stroke-width="0.56" stroke-linejoin="round"><path d="M200.6,286.6 200.7,288 200.4,289 199.8,289.5 200.3,290.3 200.2,291 200.4,292.9 203,292.8 205.6,292.7 208.2,292.5 210.7,292.4 211,289.8 211.2,287.2 211.5,284.6 208.9,284.7 206.3,284.8 203.7,285 201,285.1Z" fill="#c7e9b4"/></g><path d="M200.6,286.6 200.9,286.2 202.7,286.2 204,286.9 204.6,286.8 204.9,287.7 206.2,287.7 206,288.4 207,288.5 208,289.5 207.1,290.5 206,290 205,290.1 204.3,290 203.8,290.4 202.9,290.6 202.6,290 201.8,290.4 200.7,292.1 200.2,291.7 200.2,291 198.7,290.5 197.6,290.7 196.2,290.5 195.1,291 194,290.2 194.3,289.4 196.3,289.7 198,289.9 198.9,289.3 198,288.2 198.1,287.2 196.7,286.8 197.3,286.1 198.7,286.2Z" fill="none" stroke="#7c7c7c" stroke-width="0.5" stroke-linejoin="round"/><clipPath id="k35"><path d="M351.1,198.4 351.4,200.1 349.8,202.4 348,203.1 346.2,203.8 343.5,203.5 345.2,200.9 344.3,198.3 347.1,196.4 348.6,195.2 350.2,195.1 352.2,196.7 351.1,198.4Z"/></clipPath><path d="M351.1,198.4 351.4,200.1 349.8,202.4 348,203.1 346.2,203.8 343.5,203.5 345.2,200.9 344.3,198.3 347.1,196.4 348.6,195.2 350.2,195.1 352.2,196.7 351.1,198.4Z" fill="#2c7fb8"/><g clip-path="url(#k35)" stroke="#6a6c6a" stroke-width="0.56" stroke-linejoin="round"><path d="M351.1,198.4 349.7,197.9 348.5,197.9 348.9,196.5 348.6,195.2 350.2,194.2 351.7,193.1 353.1,194.9 354.5,196.8 352.5,198.5Z" fill="#2c7fb8"/></g><path d="M351.1,198.4 351.4,200.1 349.8,202.4 348,203.1 346.2,203.8 343.5,203.5 345.2,200.9 344.3,198.3 347.1,196.4 348.6,195.2 350.2,195.1 352.2,196.7 351.1,198.4Z" fill="none" stroke="#7c7c7c" stroke-width="0.5" stroke-linejoin="round"/><clipPath id="k36"><path d="M665.2,340.1 667.3,339.9 668.5,339.1 670.4,339.6 672.2,340.1 672.6,341.1 672.8,343.2 673.1,345.3 675.4,346.9 677.4,344.1 680.1,342.5 682.2,342.5 684.1,343.5 685.8,344.4 688.3,344.9 690.3,345.8 692.2,346.7 694.3,347.4 696.4,348.2 697.9,349.5 699.1,350.8 699.3,352.4 701.2,353.2 703.1,354 703.5,355.4 701.4,355.6 701.8,357.4 703.7,359.1 704.9,361.9 706.2,361.8 706,362.9 707.8,363.4 707,363.9 709.3,365 709,365.7 707.4,365.9 706.9,365.2 705,364.9 702.7,364.6 701.1,362.9 700,361.4 699,359.2 696.1,358 694.1,358.8 692.6,359.6 692.7,361.5 690.8,362.5 689.6,362 687.2,361.9 685.4,359.8 683.1,359.3 682.4,360 679.5,360.1 680.7,357.9 682.2,357.2 681.8,354.4 680.8,352.2 678.6,351.1 676.5,350 674.6,349.7 672.9,348.5 671.3,347.3 670.5,348.6 669.6,348.8 669.2,347.9 669.2,346.7 667.5,345.5 670,344.5 671.6,344.6 671.5,343.9 668.1,343.9 667.2,342.3 665.2,341.8 664.2,340.6Z"/></clipPath><path d="M665.2,340.1 667.3,339.9 668.5,339.1 670.4,339.6 672.2,340.1 672.6,341.1 672.8,343.2 673.1,345.3 675.4,346.9 677.4,344.1 680.1,342.5 682.2,342.5 684.1,343.5 685.8,344.4 688.3,344.9 690.3,345.8 692.2,346.7 694.3,347.4 696.4,348.2 697.9,349.5 699.1,350.8 699.3,352.4 701.2,353.2 703.1,354 703.5,355.4 701.4,355.6 701.8,357.4 703.7,359.1 704.9,361.9 706.2,361.8 706,362.9 707.8,363.4 707,363.9 709.3,365 709,365.7 707.4,365.9 706.9,365.2 705,364.9 702.7,364.6 701.1,362.9 700,361.4 699,359.2 696.1,358 694.1,358.8 692.6,359.6 692.7,361.5 690.8,362.5 689.6,362 687.2,361.9 685.4,359.8 683.1,359.3 682.4,360 679.5,360.1 680.7,357.9 682.2,357.2 681.8,354.4 680.8,352.2 678.6,351.1 676.5,350 674.6,349.7 672.9,348.5 671.3,347.3 670.5,348.6 669.6,348.8 669.2,347.9 669.2,346.7 667.5,345.5 670,344.5 671.6,344.6 671.5,343.9 668.1,343.9 667.2,342.3 665.2,341.8 664.2,340.6Z" fill="#ffffcc"/><g clip-path="url(#k36)" stroke="#6a6c6a" stroke-width="0.56" stroke-linejoin="round"><path d="M688.3,344.9 688.2,347.7 688,350.6 687.9,353.4 687.3,356.1 687.2,359 687.2,361.9 686.8,365.5 683.7,365.5 680.6,365.5 677.6,365.5 674.5,365.5 671.5,365.5 668.4,365.5 665.3,365.5 662.3,365.5 659.2,365.5 659.6,361.8 659.9,358 660.1,354.3 660.3,350.5 660.5,346.7 660.7,343 660.7,339.2 660.7,335.5 663.8,335.5 666.9,335.5 669.9,335.5 673,335.5 676.1,335.5 679.2,335.5 682.2,335.5 685.3,335.5 688.4,335.5 688.4,338.6 688.4,341.8Z" fill="#7fcdbb"/></g><path d="M665.2,340.1 667.3,339.9 668.5,339.1 670.4,339.6 672.2,340.1 672.6,341.1 672.8,343.2 673.1,345.3 675.4,346.9 677.4,344.1 680.1,342.5 682.2,342.5 684.1,343.5 685.8,344.4 688.3,344.9 690.3,345.8 692.2,346.7 694.3,347.4 696.4,348.2 697.9,349.5 699.1,350.8 699.3,352.4 701.2,353.2 703.1,354 703.5,355.4 701.4,355.6 701.8,357.4 703.7,359.1 704.9,361.9 706.2,361.8 706,362.9 707.8,363.4 707,363.9 709.3,365 709,365.7 707.4,365.9 706.9,365.2 705,364.9 702.7,364.6 701.1,362.9 700,361.4 699,359.2 696.1,358 694.1,358.8 692.6,359.6 692.7,361.5 690.8,362.5 689.6,362 687.2,361.9 685.4,359.8 683.1,359.3 682.4,360 679.5,360.1 680.7,357.9 682.2,357.2 681.8,354.4 680.8,352.2 678.6,351.1 676.5,350 674.6,349.7 672.9,348.5 671.3,347.3 670.5,348.6 669.6,348.8 669.2,347.9 669.2,346.7 667.5,345.5 670,344.5 671.6,344.6 671.5,343.9 668.1,343.9 667.2,342.3 665.2,341.8 664.2,340.6Z" fill="none" stroke="#7c7c7c" stroke-width="0.5" stroke-linejoin="round"/><clipPath id="k37"><path d="M614.6,334.6 616.1,332.9 617.8,333.8 619.5,333.3 620,331 620.9,330.6 623.7,330 625.2,327.9 626.3,326.3 627.2,325.3 629,323.9 630.7,322.1 631.8,320 632.7,320 633.9,321.3 634.1,322.5 635.7,323.2 637.6,324 637.5,325 636,325.1 636.5,326.4 634.8,327.3 633.6,329.7 635.4,332.1 635,333.3 637.6,335.7 634.9,336.1 634.2,337.8 634.2,340.2 632,342 631.9,344.6 631.4,346.6 630.8,348.6 630.5,347.7 627.9,348.8 627,347.2 625.4,347.1 624.3,346.2 621.5,347.2 620.7,345.9 619.2,346.1 617.3,345.8 617,342.3 615.9,341.5 614.8,339.3 614.5,337 614.7,334.6Z"/></clipPath><path d="M614.6,334.6 616.1,332.9 617.8,333.8 619.5,333.3 620,331 620.9,330.6 623.7,330 625.2,327.9 626.3,326.3 627.2,325.3 629,323.9 630.7,322.1 631.8,320 632.7,320 633.9,321.3 634.1,322.5 635.7,323.2 637.6,324 637.5,325 636,325.1 636.5,326.4 634.8,327.3 633.6,329.7 635.4,332.1 635,333.3 637.6,335.7 634.9,336.1 634.2,337.8 634.2,340.2 632,342 631.9,344.6 631.4,346.6 630.8,348.6 630.5,347.7 627.9,348.8 627,347.2 625.4,347.1 624.3,346.2 621.5,347.2 620.7,345.9 619.2,346.1 617.3,345.8 617,342.3 615.9,341.5 614.8,339.3 614.5,337 614.7,334.6Z" fill="#7fcdbb"/><g clip-path="url(#k37)" stroke="#6a6c6a" stroke-width="0.56" stroke-linejoin="round"><path d="M626.3,326.3 627.2,325.3 628,324.3 629,323.9 629,325.1 629,326.8 627.9,326.7 627.4,327.6Z" fill="#ffffcc"/><path d="M616.1,332.9 616.5,334.6 618.1,336.1 619.6,335.5 621,335.7 622.4,334.4 623.5,334.2 625.7,334.9 627.5,334.4 628.6,330.7 629.5,329.8 630.2,326.8 632.8,326.8 634.8,327.3" fill="none"/></g><path d="M614.6,334.6 616.1,332.9 617.8,333.8 619.5,333.3 620,331 620.9,330.6 623.7,330 625.2,327.9 626.3,326.3 627.2,325.3 629,323.9 630.7,322.1 631.8,320 632.7,320 633.9,321.3 634.1,322.5 635.7,323.2 637.6,324 637.5,325 636,325.1 636.5,326.4 634.8,327.3 633.6,329.7 635.4,332.1 635,333.3 637.6,335.7 634.9,336.1 634.2,337.8 634.2,340.2 632,342 631.9,344.6 631.4,346.6 630.8,348.6 630.5,347.7 627.9,348.8 627,347.2 625.4,347.1 624.3,346.2 621.5,347.2 620.7,345.9 619.2,346.1 617.3,345.8 617,342.3 615.9,341.5 614.8,339.3 614.5,337 614.7,334.6Z" fill="none" stroke="#7c7c7c" stroke-width="0.5" stroke-linejoin="round"/><clipPath id="k38"><path d="M650.4,361.3 650.7,360.7 652.7,360.1 654.3,360 655.1,359.7 655.9,360 655,360.7 652.5,361.9 650.5,362.6 648.9,364.6 646.8,365.2 646.6,364.8 646.9,364 648,362.4Z"/></clipPath><path d="M650.4,361.3 650.7,360.7 652.7,360.1 654.3,360 655.1,359.7 655.9,360 655,360.7 652.5,361.9 650.5,362.6 648.9,364.6 646.8,365.2 646.6,364.8 646.9,364 648,362.4Z" fill="#7fcdbb"/><g clip-path="url(#k38)" stroke="#6a6c6a" stroke-width="0.56" stroke-linejoin="round"><path d="M650.4,361.3 650.5,362.6 652.5,364.2 654.9,362.9 657.3,361.6 656.4,359 653.4,359.4 650.5,359.8Z" fill="#ffffcc"/></g><path d="M650.4,361.3 650.7,360.7 652.7,360.1 654.3,360 655.1,359.7 655.9,360 655,360.7 652.5,361.9 650.5,362.6 648.9,364.6 646.8,365.2 646.6,364.8 646.9,364 648,362.4Z" fill="none" stroke="#7c7c7c" stroke-width="0.5" stroke-linejoin="round"/><ellipse cx="462.4" cy="368.7" rx="0.7" ry="0.9" fill="#ffffcc" stroke="#7c7c7c" stroke-width="0.4"/><ellipse cx="464.7" cy="370.0" rx="0.7" ry="0.9" fill="#ffffcc" stroke="#7c7c7c" stroke-width="0.4"/><ellipse cx="491.0" cy="350.1" rx="0.7" ry="0.9" fill="#ffffcc" stroke="#7c7c7c" stroke-width="0.4"/><ellipse cx="493.5" cy="391.0" rx="0.7" ry="0.9" fill="#ffffcc" stroke="#7c7c7c" stroke-width="0.4"/><ellipse cx="488.7" cy="393.2" rx="0.7" ry="0.9" fill="#ffffcc" stroke="#7c7c7c" stroke-width="0.4"/><ellipse cx="378.4" cy="337.3" rx="0.7" ry="0.9" fill="#ffffcc" stroke="#7c7c7c" stroke-width="0.4"/><ellipse cx="309.3" cy="298.7" rx="0.7" ry="0.9" fill="#ffffcc" stroke="#7c7c7c" stroke-width="0.4"/><ellipse cx="307.8" cy="294.8" rx="0.7" ry="0.9" fill="#ffffcc" stroke="#7c7c7c" stroke-width="0.4"/><ellipse cx="310.7" cy="296.1" rx="0.7" ry="0.9" fill="#ffffcc" stroke="#7c7c7c" stroke-width="0.4"/><ellipse cx="223.0" cy="295.8" rx="0.7" ry="0.9" fill="#ffffcc" stroke="#7c7c7c" stroke-width="0.4"/><ellipse cx="223.1" cy="297.9" rx="0.7" ry="0.9" fill="#ffffcc" stroke="#7c7c7c" stroke-width="0.4"/><ellipse cx="223.8" cy="299.8" rx="0.7" ry="0.9" fill="#ffffcc" stroke="#7c7c7c" stroke-width="0.4"/><ellipse cx="223.7" cy="301.8" rx="0.7" ry="0.9" fill="#ffffcc" stroke="#7c7c7c" stroke-width="0.4"/><ellipse cx="223.1" cy="303.5" rx="0.7" ry="0.9" fill="#ffffcc" stroke="#7c7c7c" stroke-width="0.4"/><ellipse cx="226.9" cy="303.8" rx="0.7" ry="0.9" fill="#ffffcc" stroke="#7c7c7c" stroke-width="0.4"/><ellipse cx="221.8" cy="306.5" rx="0.7" ry="0.9" fill="#ffffcc" stroke="#7c7c7c" stroke-width="0.4"/><ellipse cx="222.5" cy="293.4" rx="0.7" ry="0.9" fill="#ffffcc" stroke="#7c7c7c" stroke-width="0.4"/><ellipse cx="220.5" cy="292.9" rx="0.7" ry="0.9" fill="#ffffcc" stroke="#7c7c7c" stroke-width="0.4"/><ellipse cx="215.9" cy="290.3" rx="0.7" ry="0.9" fill="#ffffcc" stroke="#7c7c7c" stroke-width="0.4"/><circle cx="602.6" cy="334.6" r="0.9" fill="#2c7fb8"/><text x="16.3" y="40.9" class="ser" textLength="365.3" lengthAdjust="spacingAndGlyphs" font-size="30">Share of global services exports,</text><text x="389.4" y="40.9" class="ser" textLength="52.5" lengthAdjust="spacingAndGlyphs" font-size="20.6">2022</text><text x="16.3" y="66.1" class="sub" textLength="687.4" lengthAdjust="spacingAndGlyphs">The share of global services exports represents a country’s contribution to the total worldwide exports of</text><text x="16.3" y="84.2" class="sub" textLength="703.0" lengthAdjust="spacingAndGlyphs">services, such as financial services, IT, tourism, and consulting. It indicates how competitive and influential a</text><text x="16.3" y="102.0" class="sub" textLength="389.0" lengthAdjust="spacingAndGlyphs">country is in the global services market compared to others.</text><rect x="769" y="16" width="65" height="36" fill="#002147"/><rect x="769" y="48.9" width="65" height="3.1" fill="#ce261e"/><text x="774" y="30.9" class="lgo" textLength="55.2" lengthAdjust="spacingAndGlyphs" font-size="12.1" font-weight="bold" fill="#fff">Our World</text><text x="783.4" y="42.7" class="lgo" textLength="36.4" lengthAdjust="spacingAndGlyphs" font-size="12.1" font-weight="bold" fill="#fff">in Data</text><text x="16.3" y="580.7" class="ft" textLength="71.2" lengthAdjust="spacingAndGlyphs" font-weight="bold">Data source:</text><text x="92" y="580.7" class="ft" textLength="418.6" lengthAdjust="spacingAndGlyphs">UN Conference on Trade and Development and World Trade Organization</text><text x="530.2" y="580.7" class="ft" textLength="301.3" lengthAdjust="spacingAndGlyphs">OurWorldinData.org/trade-and-globalization | CC BY</text><rect x="215.6" y="536.8" width="47.8" height="11.5" fill="url(#hatch)" stroke="#c6c6c6" stroke-width="0.8"/><line x1="239.4" y1="534.4" x2="239.4" y2="536.8" stroke="#999" stroke-width="0.8"/><text x="216.6" y="530.2" class="lg" textLength="45.3" lengthAdjust="spacingAndGlyphs">No data</text><rect x="283.3" y="536.8" width="58.5" height="11.5" fill="#ffffcc" stroke="#b0b0b0" stroke-width="0.5"/><rect x="341.8" y="536.8" width="58.5" height="11.5" fill="#c7e9b4" stroke="#b0b0b0" stroke-width="0.5"/><rect x="400.3" y="536.8" width="58.5" height="11.5" fill="#7fcdbb" stroke="#b0b0b0" stroke-width="0.5"/><rect x="458.8" y="536.8" width="58.5" height="11.5" fill="#41b6c4" stroke="#b0b0b0" stroke-width="0.5"/><rect x="517.3" y="536.8" width="58.5" height="11.5" fill="#2c7fb8" stroke="#b0b0b0" stroke-width="0.5"/><rect x="575.8" y="536.8" width="58.5" height="11.5" fill="#253494" stroke="#b0b0b0" stroke-width="0.5"/><line x1="283.3" y1="534.4" x2="283.3" y2="548.3" stroke="#7a7a7a" stroke-width="0.7"/><text x="283.3" y="530.2" class="lg" text-anchor="middle">0%</text><line x1="341.8" y1="534.4" x2="341.8" y2="548.3" stroke="#7a7a7a" stroke-width="0.7"/><text x="341.8" y="530.2" class="lg" text-anchor="middle">0.1%</text><line x1="400.3" y1="534.4" x2="400.3" y2="548.3" stroke="#7a7a7a" stroke-width="0.7"/><text x="400.3" y="530.2" class="lg" text-anchor="middle">0.3%</text><line x1="458.8" y1="534.4" x2="458.8" y2="548.3" stroke="#7a7a7a" stroke-width="0.7"/><text x="458.8" y="530.2" class="lg" text-anchor="middle">1%</text><line x1="517.3" y1="534.4" x2="517.3" y2="548.3" stroke="#7a7a7a" stroke-width="0.7"/><text x="517.3" y="530.2" class="lg" text-anchor="middle">3%</text><line x1="575.8" y1="534.4" x2="575.8" y2="548.3" stroke="#7a7a7a" stroke-width="0.7"/><text x="575.8" y="530.2" class="lg" text-anchor="middle">10%</text><line x1="634.3" y1="534.4" x2="634.3" y2="548.3" stroke="#7a7a7a" stroke-width="0.7"/><text x="634.3" y="530.2" class="lg" text-anchor="middle">30%</text></svg>
</body></html>
